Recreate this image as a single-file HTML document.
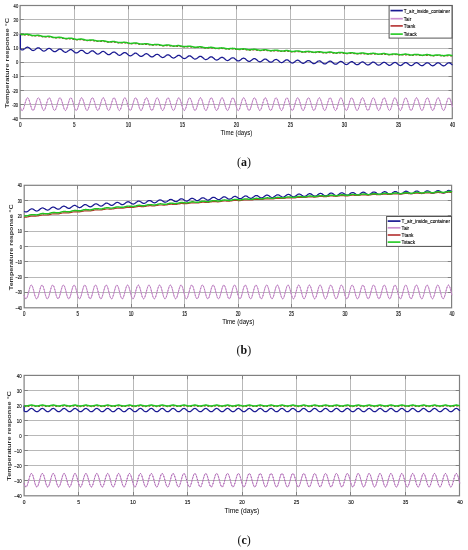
<!DOCTYPE html><html><head><meta charset="utf-8"><style>html,body{margin:0;padding:0;background:#fff;}svg{display:block;filter:blur(0.3px);}</style></head><body>
<svg width="468" height="550" viewBox="0 0 468 550">
<rect width="468" height="550" fill="#fff"/>
<path d="M74.5,5.5V118.6M128.5,5.5V118.6M182.5,5.5V118.6M236.5,5.5V118.6M290.5,5.5V118.6M344.5,5.5V118.6M398.5,5.5V118.6M20.1,19.5H452.3M20.1,33.5H452.3M20.1,48.5H452.3M20.1,62.5H452.3M20.1,76.5H452.3M20.1,90.5H452.3M20.1,104.5H452.3" stroke="#b8b8b8" stroke-width="1" fill="none"/>
<path d="M74.5,118.6v-3.8M74.5,5.5v3.8M128.5,118.6v-3.8M128.5,5.5v3.8M182.5,118.6v-3.8M182.5,5.5v3.8M236.5,118.6v-3.8M236.5,5.5v3.8M290.5,118.6v-3.8M290.5,5.5v3.8M344.5,118.6v-3.8M344.5,5.5v3.8M398.5,118.6v-3.8M398.5,5.5v3.8M20.1,19.5h3.8M452.3,19.5h-3.8M20.1,33.5h3.8M452.3,33.5h-3.8M20.1,48.5h3.8M452.3,48.5h-3.8M20.1,62.5h3.8M452.3,62.5h-3.8M20.1,76.5h3.8M452.3,76.5h-3.8M20.1,90.5h3.8M452.3,90.5h-3.8M20.1,104.5h3.8M452.3,104.5h-3.8" stroke="#7a7a7a" stroke-width="0.9" fill="none"/>
<rect x="20.10" y="5.50" width="432.20" height="113.10" stroke="#808080" stroke-width="1.2" fill="none"/>
<path d="M20.4,107.2 20.8,108.5 21.2,109.5 21.6,110.2 22.1,110.5 22.5,110.4 22.9,109.9 23.4,109.0 23.8,107.9 24.2,106.5 24.7,104.9 25.1,103.3 25.5,101.8 26.0,100.4 26.4,99.2 26.8,98.4 27.3,97.9 27.7,97.8 28.1,98.1 28.6,98.8 29.0,99.8 29.4,101.1 29.9,102.5 30.3,104.1 30.7,105.7 31.2,107.2 31.6,108.5 32.0,109.5 32.5,110.2 32.9,110.5 33.3,110.4 33.7,109.9 34.2,109.0 34.6,107.9 35.0,106.5 35.5,104.9 35.9,103.3 36.3,101.8 36.8,100.4 37.2,99.2 37.6,98.4 38.1,97.9 38.5,97.8 38.9,98.1 39.4,98.8 39.8,99.8 40.2,101.1 40.7,102.5 41.1,104.1 41.5,105.7 42.0,107.2 42.4,108.5 42.8,109.5 43.3,110.2 43.7,110.5 44.1,110.4 44.6,109.9 45.0,109.0 45.4,107.9 45.8,106.5 46.3,104.9 46.7,103.3 47.1,101.8 47.6,100.4 48.0,99.2 48.4,98.4 48.9,97.9 49.3,97.8 49.7,98.1 50.2,98.8 50.6,99.8 51.0,101.1 51.5,102.5 51.9,104.1 52.3,105.7 52.8,107.2 53.2,108.5 53.6,109.5 54.1,110.2 54.5,110.5 54.9,110.4 55.4,109.9 55.8,109.0 56.2,107.9 56.7,106.5 57.1,104.9 57.5,103.3 57.9,101.8 58.4,100.4 58.8,99.2 59.2,98.4 59.7,97.9 60.1,97.8 60.5,98.1 61.0,98.8 61.4,99.8 61.8,101.1 62.3,102.5 62.7,104.1 63.1,105.7 63.6,107.2 64.0,108.5 64.4,109.5 64.9,110.2 65.3,110.5 65.7,110.4 66.2,109.9 66.6,109.0 67.0,107.9 67.5,106.5 67.9,104.9 68.3,103.3 68.8,101.8 69.2,100.4 69.6,99.2 70.0,98.4 70.5,97.9 70.9,97.8 71.3,98.1 71.8,98.8 72.2,99.8 72.6,101.1 73.1,102.5 73.5,104.1 73.9,105.7 74.4,107.2 74.8,108.5 75.2,109.5 75.7,110.2 76.1,110.5 76.5,110.4 77.0,109.9 77.4,109.0 77.8,107.9 78.3,106.5 78.7,104.9 79.1,103.3 79.6,101.8 80.0,100.4 80.4,99.2 80.9,98.4 81.3,97.9 81.7,97.8 82.1,98.1 82.6,98.8 83.0,99.8 83.4,101.1 83.9,102.5 84.3,104.1 84.7,105.7 85.2,107.2 85.6,108.5 86.0,109.5 86.5,110.2 86.9,110.5 87.3,110.4 87.8,109.9 88.2,109.0 88.6,107.9 89.1,106.5 89.5,104.9 89.9,103.3 90.4,101.8 90.8,100.4 91.2,99.2 91.7,98.4 92.1,97.9 92.5,97.8 93.0,98.1 93.4,98.8 93.8,99.8 94.2,101.1 94.7,102.5 95.1,104.1 95.5,105.7 96.0,107.2 96.4,108.5 96.8,109.5 97.3,110.2 97.7,110.5 98.1,110.4 98.6,109.9 99.0,109.0 99.4,107.9 99.9,106.5 100.3,104.9 100.7,103.3 101.2,101.8 101.6,100.4 102.0,99.2 102.5,98.4 102.9,97.9 103.3,97.8 103.8,98.1 104.2,98.8 104.6,99.8 105.1,101.1 105.5,102.5 105.9,104.1 106.3,105.7 106.8,107.2 107.2,108.5 107.6,109.5 108.1,110.2 108.5,110.5 108.9,110.4 109.4,109.9 109.8,109.0 110.2,107.9 110.7,106.5 111.1,104.9 111.5,103.3 112.0,101.8 112.4,100.4 112.8,99.2 113.3,98.4 113.7,97.9 114.1,97.8 114.6,98.1 115.0,98.8 115.4,99.8 115.9,101.1 116.3,102.5 116.7,104.1 117.2,105.7 117.6,107.2 118.0,108.5 118.4,109.5 118.9,110.2 119.3,110.5 119.7,110.4 120.2,109.9 120.6,109.0 121.0,107.9 121.5,106.5 121.9,104.9 122.3,103.3 122.8,101.8 123.2,100.4 123.6,99.2 124.1,98.4 124.5,97.9 124.9,97.8 125.4,98.1 125.8,98.8 126.2,99.8 126.7,101.1 127.1,102.5 127.5,104.1 128.0,105.7 128.4,107.2 128.8,108.5 129.3,109.5 129.7,110.2 130.1,110.5 130.5,110.4 131.0,109.9 131.4,109.0 131.8,107.9 132.3,106.5 132.7,104.9 133.1,103.3 133.6,101.8 134.0,100.4 134.4,99.2 134.9,98.4 135.3,97.9 135.7,97.8 136.2,98.1 136.6,98.8 137.0,99.8 137.5,101.1 137.9,102.5 138.3,104.1 138.8,105.7 139.2,107.2 139.6,108.5 140.1,109.5 140.5,110.2 140.9,110.5 141.4,110.4 141.8,109.9 142.2,109.0 142.6,107.9 143.1,106.5 143.5,104.9 143.9,103.3 144.4,101.8 144.8,100.4 145.2,99.2 145.7,98.4 146.1,97.9 146.5,97.8 147.0,98.1 147.4,98.8 147.8,99.8 148.3,101.1 148.7,102.5 149.1,104.1 149.6,105.7 150.0,107.2 150.4,108.5 150.9,109.5 151.3,110.2 151.7,110.5 152.2,110.4 152.6,109.9 153.0,109.0 153.5,107.9 153.9,106.5 154.3,104.9 154.7,103.3 155.2,101.8 155.6,100.4 156.0,99.2 156.5,98.4 156.9,97.9 157.3,97.8 157.8,98.1 158.2,98.8 158.6,99.8 159.1,101.1 159.5,102.5 159.9,104.1 160.4,105.7 160.8,107.2 161.2,108.5 161.7,109.5 162.1,110.2 162.5,110.5 163.0,110.4 163.4,109.9 163.8,109.0 164.3,107.9 164.7,106.5 165.1,104.9 165.6,103.3 166.0,101.8 166.4,100.4 166.8,99.2 167.3,98.4 167.7,97.9 168.1,97.8 168.6,98.1 169.0,98.8 169.4,99.8 169.9,101.1 170.3,102.5 170.7,104.1 171.2,105.7 171.6,107.2 172.0,108.5 172.5,109.5 172.9,110.2 173.3,110.5 173.8,110.4 174.2,109.9 174.6,109.0 175.1,107.9 175.5,106.5 175.9,104.9 176.4,103.3 176.8,101.8 177.2,100.4 177.7,99.2 178.1,98.4 178.5,97.9 178.9,97.8 179.4,98.1 179.8,98.8 180.2,99.8 180.7,101.1 181.1,102.5 181.5,104.1 182.0,105.7 182.4,107.2 182.8,108.5 183.3,109.5 183.7,110.2 184.1,110.5 184.6,110.4 185.0,109.9 185.4,109.0 185.9,107.9 186.3,106.5 186.7,104.9 187.2,103.3 187.6,101.8 188.0,100.4 188.5,99.2 188.9,98.4 189.3,97.9 189.8,97.8 190.2,98.1 190.6,98.8 191.0,99.8 191.5,101.1 191.9,102.5 192.3,104.1 192.8,105.7 193.2,107.2 193.6,108.5 194.1,109.5 194.5,110.2 194.9,110.5 195.4,110.4 195.8,109.9 196.2,109.0 196.7,107.9 197.1,106.5 197.5,104.9 198.0,103.3 198.4,101.8 198.8,100.4 199.3,99.2 199.7,98.4 200.1,97.9 200.6,97.8 201.0,98.1 201.4,98.8 201.9,99.8 202.3,101.1 202.7,102.5 203.1,104.1 203.6,105.7 204.0,107.2 204.4,108.5 204.9,109.5 205.3,110.2 205.7,110.5 206.2,110.4 206.6,109.9 207.0,109.0 207.5,107.9 207.9,106.5 208.3,104.9 208.8,103.3 209.2,101.8 209.6,100.4 210.1,99.2 210.5,98.4 210.9,97.9 211.4,97.8 211.8,98.1 212.2,98.8 212.7,99.8 213.1,101.1 213.5,102.5 214.0,104.1 214.4,105.7 214.8,107.2 215.2,108.5 215.7,109.5 216.1,110.2 216.5,110.5 217.0,110.4 217.4,109.9 217.8,109.0 218.3,107.9 218.7,106.5 219.1,104.9 219.6,103.3 220.0,101.8 220.4,100.4 220.9,99.2 221.3,98.4 221.7,97.9 222.2,97.8 222.6,98.1 223.0,98.8 223.5,99.8 223.9,101.1 224.3,102.5 224.8,104.1 225.2,105.7 225.6,107.2 226.1,108.5 226.5,109.5 226.9,110.2 227.3,110.5 227.8,110.4 228.2,109.9 228.6,109.0 229.1,107.9 229.5,106.5 229.9,104.9 230.4,103.3 230.8,101.8 231.2,100.4 231.7,99.2 232.1,98.4 232.5,97.9 233.0,97.8 233.4,98.1 233.8,98.8 234.3,99.8 234.7,101.1 235.1,102.5 235.6,104.1 236.0,105.7 236.4,107.2 236.9,108.5 237.3,109.5 237.7,110.2 238.2,110.5 238.6,110.4 239.0,109.9 239.5,109.0 239.9,107.9 240.3,106.5 240.7,104.9 241.2,103.3 241.6,101.8 242.0,100.4 242.5,99.2 242.9,98.4 243.3,97.9 243.8,97.8 244.2,98.1 244.6,98.8 245.1,99.8 245.5,101.1 245.9,102.5 246.4,104.1 246.8,105.7 247.2,107.2 247.7,108.5 248.1,109.5 248.5,110.2 249.0,110.5 249.4,110.4 249.8,109.9 250.3,109.0 250.7,107.9 251.1,106.5 251.6,104.9 252.0,103.3 252.4,101.8 252.8,100.4 253.3,99.2 253.7,98.4 254.1,97.9 254.6,97.8 255.0,98.1 255.4,98.8 255.9,99.8 256.3,101.1 256.7,102.5 257.2,104.1 257.6,105.7 258.0,107.2 258.5,108.5 258.9,109.5 259.3,110.2 259.8,110.5 260.2,110.4 260.6,109.9 261.1,109.0 261.5,107.9 261.9,106.5 262.4,104.9 262.8,103.3 263.2,101.8 263.7,100.4 264.1,99.2 264.5,98.4 264.9,97.9 265.4,97.8 265.8,98.1 266.2,98.8 266.7,99.8 267.1,101.1 267.5,102.5 268.0,104.1 268.4,105.7 268.8,107.2 269.3,108.5 269.7,109.5 270.1,110.2 270.6,110.5 271.0,110.4 271.4,109.9 271.9,109.0 272.3,107.9 272.7,106.5 273.2,104.9 273.6,103.3 274.0,101.8 274.5,100.4 274.9,99.2 275.3,98.4 275.8,97.9 276.2,97.8 276.6,98.1 277.0,98.8 277.5,99.8 277.9,101.1 278.3,102.5 278.8,104.1 279.2,105.7 279.6,107.2 280.1,108.5 280.5,109.5 280.9,110.2 281.4,110.5 281.8,110.4 282.2,109.9 282.7,109.0 283.1,107.9 283.5,106.5 284.0,104.9 284.4,103.3 284.8,101.8 285.3,100.4 285.7,99.2 286.1,98.4 286.6,97.9 287.0,97.8 287.4,98.1 287.9,98.8 288.3,99.8 288.7,101.1 289.1,102.5 289.6,104.1 290.0,105.7 290.4,107.2 290.9,108.5 291.3,109.5 291.7,110.2 292.2,110.5 292.6,110.4 293.0,109.9 293.5,109.0 293.9,107.9 294.3,106.5 294.8,104.9 295.2,103.3 295.6,101.8 296.1,100.4 296.5,99.2 296.9,98.4 297.4,97.9 297.8,97.8 298.2,98.1 298.7,98.8 299.1,99.8 299.5,101.1 300.0,102.5 300.4,104.1 300.8,105.7 301.2,107.2 301.7,108.5 302.1,109.5 302.5,110.2 303.0,110.5 303.4,110.4 303.8,109.9 304.3,109.0 304.7,107.9 305.1,106.5 305.6,104.9 306.0,103.3 306.4,101.8 306.9,100.4 307.3,99.2 307.7,98.4 308.2,97.9 308.6,97.8 309.0,98.1 309.5,98.8 309.9,99.8 310.3,101.1 310.8,102.5 311.2,104.1 311.6,105.7 312.1,107.2 312.5,108.5 312.9,109.5 313.3,110.2 313.8,110.5 314.2,110.4 314.6,109.9 315.1,109.0 315.5,107.9 315.9,106.5 316.4,104.9 316.8,103.3 317.2,101.8 317.7,100.4 318.1,99.2 318.5,98.4 319.0,97.9 319.4,97.8 319.8,98.1 320.3,98.8 320.7,99.8 321.1,101.1 321.6,102.5 322.0,104.1 322.4,105.7 322.9,107.2 323.3,108.5 323.7,109.5 324.2,110.2 324.6,110.5 325.0,110.4 325.4,109.9 325.9,109.0 326.3,107.9 326.7,106.5 327.2,104.9 327.6,103.3 328.0,101.8 328.5,100.4 328.9,99.2 329.3,98.4 329.8,97.9 330.2,97.8 330.6,98.1 331.1,98.8 331.5,99.8 331.9,101.1 332.4,102.5 332.8,104.1 333.2,105.7 333.7,107.2 334.1,108.5 334.5,109.5 335.0,110.2 335.4,110.5 335.8,110.4 336.3,109.9 336.7,109.0 337.1,107.9 337.5,106.5 338.0,104.9 338.4,103.3 338.8,101.8 339.3,100.4 339.7,99.2 340.1,98.4 340.6,97.9 341.0,97.8 341.4,98.1 341.9,98.8 342.3,99.8 342.7,101.1 343.2,102.5 343.6,104.1 344.0,105.7 344.5,107.2 344.9,108.5 345.3,109.5 345.8,110.2 346.2,110.5 346.6,110.4 347.1,109.9 347.5,109.0 347.9,107.9 348.4,106.5 348.8,104.9 349.2,103.3 349.6,101.8 350.1,100.4 350.5,99.2 350.9,98.4 351.4,97.9 351.8,97.8 352.2,98.1 352.7,98.8 353.1,99.8 353.5,101.1 354.0,102.5 354.4,104.1 354.8,105.7 355.3,107.2 355.7,108.5 356.1,109.5 356.6,110.2 357.0,110.5 357.4,110.4 357.9,109.9 358.3,109.0 358.7,107.9 359.2,106.5 359.6,104.9 360.0,103.3 360.5,101.8 360.9,100.4 361.3,99.2 361.7,98.4 362.2,97.9 362.6,97.8 363.0,98.1 363.5,98.8 363.9,99.8 364.3,101.1 364.8,102.5 365.2,104.1 365.6,105.7 366.1,107.2 366.5,108.5 366.9,109.5 367.4,110.2 367.8,110.5 368.2,110.4 368.7,109.9 369.1,109.0 369.5,107.9 370.0,106.5 370.4,104.9 370.8,103.3 371.3,101.8 371.7,100.4 372.1,99.2 372.6,98.4 373.0,97.9 373.4,97.8 373.8,98.1 374.3,98.8 374.7,99.8 375.1,101.1 375.6,102.5 376.0,104.1 376.4,105.7 376.9,107.2 377.3,108.5 377.7,109.5 378.2,110.2 378.6,110.5 379.0,110.4 379.5,109.9 379.9,109.0 380.3,107.9 380.8,106.5 381.2,104.9 381.6,103.3 382.1,101.8 382.5,100.4 382.9,99.2 383.4,98.4 383.8,97.9 384.2,97.8 384.7,98.1 385.1,98.8 385.5,99.8 385.9,101.1 386.4,102.5 386.8,104.1 387.2,105.7 387.7,107.2 388.1,108.5 388.5,109.5 389.0,110.2 389.4,110.5 389.8,110.4 390.3,109.9 390.7,109.0 391.1,107.9 391.6,106.5 392.0,104.9 392.4,103.3 392.9,101.8 393.3,100.4 393.7,99.2 394.2,98.4 394.6,97.9 395.0,97.8 395.5,98.1 395.9,98.8 396.3,99.8 396.8,101.1 397.2,102.5 397.6,104.1 398.0,105.7 398.5,107.2 398.9,108.5 399.3,109.5 399.8,110.2 400.2,110.5 400.6,110.4 401.1,109.9 401.5,109.0 401.9,107.9 402.4,106.5 402.8,104.9 403.2,103.3 403.7,101.8 404.1,100.4 404.5,99.2 405.0,98.4 405.4,97.9 405.8,97.8 406.3,98.1 406.7,98.8 407.1,99.8 407.6,101.1 408.0,102.5 408.4,104.1 408.9,105.7 409.3,107.2 409.7,108.5 410.1,109.5 410.6,110.2 411.0,110.5 411.4,110.4 411.9,109.9 412.3,109.0 412.7,107.9 413.2,106.5 413.6,104.9 414.0,103.3 414.5,101.8 414.9,100.4 415.3,99.2 415.8,98.4 416.2,97.9 416.6,97.8 417.1,98.1 417.5,98.8 417.9,99.8 418.4,101.1 418.8,102.5 419.2,104.1 419.7,105.7 420.1,107.2 420.5,108.5 421.0,109.5 421.4,110.2 421.8,110.5 422.2,110.4 422.7,109.9 423.1,109.0 423.5,107.9 424.0,106.5 424.4,104.9 424.8,103.3 425.3,101.8 425.7,100.4 426.1,99.2 426.6,98.4 427.0,97.9 427.4,97.8 427.9,98.1 428.3,98.8 428.7,99.8 429.2,101.1 429.6,102.5 430.0,104.1 430.5,105.7 430.9,107.2 431.3,108.5 431.8,109.5 432.2,110.2 432.6,110.5 433.1,110.4 433.5,109.9 433.9,109.0 434.3,107.9 434.8,106.5 435.2,104.9 435.6,103.3 436.1,101.8 436.5,100.4 436.9,99.2 437.4,98.4 437.8,97.9 438.2,97.8 438.7,98.1 439.1,98.8 439.5,99.8 440.0,101.1 440.4,102.5 440.8,104.1 441.3,105.7 441.7,107.2 442.1,108.5 442.6,109.5 443.0,110.2 443.4,110.5 443.9,110.4 444.3,109.9 444.7,109.0 445.2,107.9 445.6,106.5 446.0,104.9 446.4,103.3 446.9,101.8 447.3,100.4 447.7,99.2 448.2,98.4 448.6,97.9 449.0,97.8 449.5,98.1 449.9,98.8 450.3,99.8 450.8,101.1 451.2,102.5 451.6,104.1 452.1,105.7 452.5,107.2" stroke="#c88ccc" stroke-width="1.0" fill="none"/>
<path d="M20.4,107.2 20.8,108.5 21.2,109.5 21.6,110.2 22.1,110.5 22.5,110.4 22.9,109.9 23.4,109.0 23.8,107.9 24.2,106.5 24.7,104.9 25.1,103.3 25.5,101.8 26.0,100.4 26.4,99.2 26.8,98.4 27.3,97.9 27.7,97.8 28.1,98.1 28.6,98.8 29.0,99.8 29.4,101.1 29.9,102.5 30.3,104.1 30.7,105.7 31.2,107.2 31.6,108.5 32.0,109.5 32.5,110.2 32.9,110.5 33.3,110.4 33.7,109.9 34.2,109.0 34.6,107.9 35.0,106.5 35.5,104.9 35.9,103.3 36.3,101.8 36.8,100.4 37.2,99.2 37.6,98.4 38.1,97.9 38.5,97.8 38.9,98.1 39.4,98.8 39.8,99.8 40.2,101.1 40.7,102.5 41.1,104.1 41.5,105.7 42.0,107.2 42.4,108.5 42.8,109.5 43.3,110.2 43.7,110.5 44.1,110.4 44.6,109.9 45.0,109.0 45.4,107.9 45.8,106.5 46.3,104.9 46.7,103.3 47.1,101.8 47.6,100.4 48.0,99.2 48.4,98.4 48.9,97.9 49.3,97.8 49.7,98.1 50.2,98.8 50.6,99.8 51.0,101.1 51.5,102.5 51.9,104.1 52.3,105.7 52.8,107.2 53.2,108.5 53.6,109.5 54.1,110.2 54.5,110.5 54.9,110.4 55.4,109.9 55.8,109.0 56.2,107.9 56.7,106.5 57.1,104.9 57.5,103.3 57.9,101.8 58.4,100.4 58.8,99.2 59.2,98.4 59.7,97.9 60.1,97.8 60.5,98.1 61.0,98.8 61.4,99.8 61.8,101.1 62.3,102.5 62.7,104.1 63.1,105.7 63.6,107.2 64.0,108.5 64.4,109.5 64.9,110.2 65.3,110.5 65.7,110.4 66.2,109.9 66.6,109.0 67.0,107.9 67.5,106.5 67.9,104.9 68.3,103.3 68.8,101.8 69.2,100.4 69.6,99.2 70.0,98.4 70.5,97.9 70.9,97.8 71.3,98.1 71.8,98.8 72.2,99.8 72.6,101.1 73.1,102.5 73.5,104.1 73.9,105.7 74.4,107.2 74.8,108.5 75.2,109.5 75.7,110.2 76.1,110.5 76.5,110.4 77.0,109.9 77.4,109.0 77.8,107.9 78.3,106.5 78.7,104.9 79.1,103.3 79.6,101.8 80.0,100.4 80.4,99.2 80.9,98.4 81.3,97.9 81.7,97.8 82.1,98.1 82.6,98.8 83.0,99.8 83.4,101.1 83.9,102.5 84.3,104.1 84.7,105.7 85.2,107.2 85.6,108.5 86.0,109.5 86.5,110.2 86.9,110.5 87.3,110.4 87.8,109.9 88.2,109.0 88.6,107.9 89.1,106.5 89.5,104.9 89.9,103.3 90.4,101.8 90.8,100.4 91.2,99.2 91.7,98.4 92.1,97.9 92.5,97.8 93.0,98.1 93.4,98.8 93.8,99.8 94.2,101.1 94.7,102.5 95.1,104.1 95.5,105.7 96.0,107.2 96.4,108.5 96.8,109.5 97.3,110.2 97.7,110.5 98.1,110.4 98.6,109.9 99.0,109.0 99.4,107.9 99.9,106.5 100.3,104.9 100.7,103.3 101.2,101.8 101.6,100.4 102.0,99.2 102.5,98.4 102.9,97.9 103.3,97.8 103.8,98.1 104.2,98.8 104.6,99.8 105.1,101.1 105.5,102.5 105.9,104.1 106.3,105.7 106.8,107.2 107.2,108.5 107.6,109.5 108.1,110.2 108.5,110.5 108.9,110.4 109.4,109.9 109.8,109.0 110.2,107.9 110.7,106.5 111.1,104.9 111.5,103.3 112.0,101.8 112.4,100.4 112.8,99.2 113.3,98.4 113.7,97.9 114.1,97.8 114.6,98.1 115.0,98.8 115.4,99.8 115.9,101.1 116.3,102.5 116.7,104.1 117.2,105.7 117.6,107.2 118.0,108.5 118.4,109.5 118.9,110.2 119.3,110.5 119.7,110.4 120.2,109.9 120.6,109.0 121.0,107.9 121.5,106.5 121.9,104.9 122.3,103.3 122.8,101.8 123.2,100.4 123.6,99.2 124.1,98.4 124.5,97.9 124.9,97.8 125.4,98.1 125.8,98.8 126.2,99.8 126.7,101.1 127.1,102.5 127.5,104.1 128.0,105.7 128.4,107.2 128.8,108.5 129.3,109.5 129.7,110.2 130.1,110.5 130.5,110.4 131.0,109.9 131.4,109.0 131.8,107.9 132.3,106.5 132.7,104.9 133.1,103.3 133.6,101.8 134.0,100.4 134.4,99.2 134.9,98.4 135.3,97.9 135.7,97.8 136.2,98.1 136.6,98.8 137.0,99.8 137.5,101.1 137.9,102.5 138.3,104.1 138.8,105.7 139.2,107.2 139.6,108.5 140.1,109.5 140.5,110.2 140.9,110.5 141.4,110.4 141.8,109.9 142.2,109.0 142.6,107.9 143.1,106.5 143.5,104.9 143.9,103.3 144.4,101.8 144.8,100.4 145.2,99.2 145.7,98.4 146.1,97.9 146.5,97.8 147.0,98.1 147.4,98.8 147.8,99.8 148.3,101.1 148.7,102.5 149.1,104.1 149.6,105.7 150.0,107.2 150.4,108.5 150.9,109.5 151.3,110.2 151.7,110.5 152.2,110.4 152.6,109.9 153.0,109.0 153.5,107.9 153.9,106.5 154.3,104.9 154.7,103.3 155.2,101.8 155.6,100.4 156.0,99.2 156.5,98.4 156.9,97.9 157.3,97.8 157.8,98.1 158.2,98.8 158.6,99.8 159.1,101.1 159.5,102.5 159.9,104.1 160.4,105.7 160.8,107.2 161.2,108.5 161.7,109.5 162.1,110.2 162.5,110.5 163.0,110.4 163.4,109.9 163.8,109.0 164.3,107.9 164.7,106.5 165.1,104.9 165.6,103.3 166.0,101.8 166.4,100.4 166.8,99.2 167.3,98.4 167.7,97.9 168.1,97.8 168.6,98.1 169.0,98.8 169.4,99.8 169.9,101.1 170.3,102.5 170.7,104.1 171.2,105.7 171.6,107.2 172.0,108.5 172.5,109.5 172.9,110.2 173.3,110.5 173.8,110.4 174.2,109.9 174.6,109.0 175.1,107.9 175.5,106.5 175.9,104.9 176.4,103.3 176.8,101.8 177.2,100.4 177.7,99.2 178.1,98.4 178.5,97.9 178.9,97.8 179.4,98.1 179.8,98.8 180.2,99.8 180.7,101.1 181.1,102.5 181.5,104.1 182.0,105.7 182.4,107.2 182.8,108.5 183.3,109.5 183.7,110.2 184.1,110.5 184.6,110.4 185.0,109.9 185.4,109.0 185.9,107.9 186.3,106.5 186.7,104.9 187.2,103.3 187.6,101.8 188.0,100.4 188.5,99.2 188.9,98.4 189.3,97.9 189.8,97.8 190.2,98.1 190.6,98.8 191.0,99.8 191.5,101.1 191.9,102.5 192.3,104.1 192.8,105.7 193.2,107.2 193.6,108.5 194.1,109.5 194.5,110.2 194.9,110.5 195.4,110.4 195.8,109.9 196.2,109.0 196.7,107.9 197.1,106.5 197.5,104.9 198.0,103.3 198.4,101.8 198.8,100.4 199.3,99.2 199.7,98.4 200.1,97.9 200.6,97.8 201.0,98.1 201.4,98.8 201.9,99.8 202.3,101.1 202.7,102.5 203.1,104.1 203.6,105.7 204.0,107.2 204.4,108.5 204.9,109.5 205.3,110.2 205.7,110.5 206.2,110.4 206.6,109.9 207.0,109.0 207.5,107.9 207.9,106.5 208.3,104.9 208.8,103.3 209.2,101.8 209.6,100.4 210.1,99.2 210.5,98.4 210.9,97.9 211.4,97.8 211.8,98.1 212.2,98.8 212.7,99.8 213.1,101.1 213.5,102.5 214.0,104.1 214.4,105.7 214.8,107.2 215.2,108.5 215.7,109.5 216.1,110.2 216.5,110.5 217.0,110.4 217.4,109.9 217.8,109.0 218.3,107.9 218.7,106.5 219.1,104.9 219.6,103.3 220.0,101.8 220.4,100.4 220.9,99.2 221.3,98.4 221.7,97.9 222.2,97.8 222.6,98.1 223.0,98.8 223.5,99.8 223.9,101.1 224.3,102.5 224.8,104.1 225.2,105.7 225.6,107.2 226.1,108.5 226.5,109.5 226.9,110.2 227.3,110.5 227.8,110.4 228.2,109.9 228.6,109.0 229.1,107.9 229.5,106.5 229.9,104.9 230.4,103.3 230.8,101.8 231.2,100.4 231.7,99.2 232.1,98.4 232.5,97.9 233.0,97.8 233.4,98.1 233.8,98.8 234.3,99.8 234.7,101.1 235.1,102.5 235.6,104.1 236.0,105.7 236.4,107.2 236.9,108.5 237.3,109.5 237.7,110.2 238.2,110.5 238.6,110.4 239.0,109.9 239.5,109.0 239.9,107.9 240.3,106.5 240.7,104.9 241.2,103.3 241.6,101.8 242.0,100.4 242.5,99.2 242.9,98.4 243.3,97.9 243.8,97.8 244.2,98.1 244.6,98.8 245.1,99.8 245.5,101.1 245.9,102.5 246.4,104.1 246.8,105.7 247.2,107.2 247.7,108.5 248.1,109.5 248.5,110.2 249.0,110.5 249.4,110.4 249.8,109.9 250.3,109.0 250.7,107.9 251.1,106.5 251.6,104.9 252.0,103.3 252.4,101.8 252.8,100.4 253.3,99.2 253.7,98.4 254.1,97.9 254.6,97.8 255.0,98.1 255.4,98.8 255.9,99.8 256.3,101.1 256.7,102.5 257.2,104.1 257.6,105.7 258.0,107.2 258.5,108.5 258.9,109.5 259.3,110.2 259.8,110.5 260.2,110.4 260.6,109.9 261.1,109.0 261.5,107.9 261.9,106.5 262.4,104.9 262.8,103.3 263.2,101.8 263.7,100.4 264.1,99.2 264.5,98.4 264.9,97.9 265.4,97.8 265.8,98.1 266.2,98.8 266.7,99.8 267.1,101.1 267.5,102.5 268.0,104.1 268.4,105.7 268.8,107.2 269.3,108.5 269.7,109.5 270.1,110.2 270.6,110.5 271.0,110.4 271.4,109.9 271.9,109.0 272.3,107.9 272.7,106.5 273.2,104.9 273.6,103.3 274.0,101.8 274.5,100.4 274.9,99.2 275.3,98.4 275.8,97.9 276.2,97.8 276.6,98.1 277.0,98.8 277.5,99.8 277.9,101.1 278.3,102.5 278.8,104.1 279.2,105.7 279.6,107.2 280.1,108.5 280.5,109.5 280.9,110.2 281.4,110.5 281.8,110.4 282.2,109.9 282.7,109.0 283.1,107.9 283.5,106.5 284.0,104.9 284.4,103.3 284.8,101.8 285.3,100.4 285.7,99.2 286.1,98.4 286.6,97.9 287.0,97.8 287.4,98.1 287.9,98.8 288.3,99.8 288.7,101.1 289.1,102.5 289.6,104.1 290.0,105.7 290.4,107.2 290.9,108.5 291.3,109.5 291.7,110.2 292.2,110.5 292.6,110.4 293.0,109.9 293.5,109.0 293.9,107.9 294.3,106.5 294.8,104.9 295.2,103.3 295.6,101.8 296.1,100.4 296.5,99.2 296.9,98.4 297.4,97.9 297.8,97.8 298.2,98.1 298.7,98.8 299.1,99.8 299.5,101.1 300.0,102.5 300.4,104.1 300.8,105.7 301.2,107.2 301.7,108.5 302.1,109.5 302.5,110.2 303.0,110.5 303.4,110.4 303.8,109.9 304.3,109.0 304.7,107.9 305.1,106.5 305.6,104.9 306.0,103.3 306.4,101.8 306.9,100.4 307.3,99.2 307.7,98.4 308.2,97.9 308.6,97.8 309.0,98.1 309.5,98.8 309.9,99.8 310.3,101.1 310.8,102.5 311.2,104.1 311.6,105.7 312.1,107.2 312.5,108.5 312.9,109.5 313.3,110.2 313.8,110.5 314.2,110.4 314.6,109.9 315.1,109.0 315.5,107.9 315.9,106.5 316.4,104.9 316.8,103.3 317.2,101.8 317.7,100.4 318.1,99.2 318.5,98.4 319.0,97.9 319.4,97.8 319.8,98.1 320.3,98.8 320.7,99.8 321.1,101.1 321.6,102.5 322.0,104.1 322.4,105.7 322.9,107.2 323.3,108.5 323.7,109.5 324.2,110.2 324.6,110.5 325.0,110.4 325.4,109.9 325.9,109.0 326.3,107.9 326.7,106.5 327.2,104.9 327.6,103.3 328.0,101.8 328.5,100.4 328.9,99.2 329.3,98.4 329.8,97.9 330.2,97.8 330.6,98.1 331.1,98.8 331.5,99.8 331.9,101.1 332.4,102.5 332.8,104.1 333.2,105.7 333.7,107.2 334.1,108.5 334.5,109.5 335.0,110.2 335.4,110.5 335.8,110.4 336.3,109.9 336.7,109.0 337.1,107.9 337.5,106.5 338.0,104.9 338.4,103.3 338.8,101.8 339.3,100.4 339.7,99.2 340.1,98.4 340.6,97.9 341.0,97.8 341.4,98.1 341.9,98.8 342.3,99.8 342.7,101.1 343.2,102.5 343.6,104.1 344.0,105.7 344.5,107.2 344.9,108.5 345.3,109.5 345.8,110.2 346.2,110.5 346.6,110.4 347.1,109.9 347.5,109.0 347.9,107.9 348.4,106.5 348.8,104.9 349.2,103.3 349.6,101.8 350.1,100.4 350.5,99.2 350.9,98.4 351.4,97.9 351.8,97.8 352.2,98.1 352.7,98.8 353.1,99.8 353.5,101.1 354.0,102.5 354.4,104.1 354.8,105.7 355.3,107.2 355.7,108.5 356.1,109.5 356.6,110.2 357.0,110.5 357.4,110.4 357.9,109.9 358.3,109.0 358.7,107.9 359.2,106.5 359.6,104.9 360.0,103.3 360.5,101.8 360.9,100.4 361.3,99.2 361.7,98.4 362.2,97.9 362.6,97.8 363.0,98.1 363.5,98.8 363.9,99.8 364.3,101.1 364.8,102.5 365.2,104.1 365.6,105.7 366.1,107.2 366.5,108.5 366.9,109.5 367.4,110.2 367.8,110.5 368.2,110.4 368.7,109.9 369.1,109.0 369.5,107.9 370.0,106.5 370.4,104.9 370.8,103.3 371.3,101.8 371.7,100.4 372.1,99.2 372.6,98.4 373.0,97.9 373.4,97.8 373.8,98.1 374.3,98.8 374.7,99.8 375.1,101.1 375.6,102.5 376.0,104.1 376.4,105.7 376.9,107.2 377.3,108.5 377.7,109.5 378.2,110.2 378.6,110.5 379.0,110.4 379.5,109.9 379.9,109.0 380.3,107.9 380.8,106.5 381.2,104.9 381.6,103.3 382.1,101.8 382.5,100.4 382.9,99.2 383.4,98.4 383.8,97.9 384.2,97.8 384.7,98.1 385.1,98.8 385.5,99.8 385.9,101.1 386.4,102.5 386.8,104.1 387.2,105.7 387.7,107.2 388.1,108.5 388.5,109.5 389.0,110.2 389.4,110.5 389.8,110.4 390.3,109.9 390.7,109.0 391.1,107.9 391.6,106.5 392.0,104.9 392.4,103.3 392.9,101.8 393.3,100.4 393.7,99.2 394.2,98.4 394.6,97.9 395.0,97.8 395.5,98.1 395.9,98.8 396.3,99.8 396.8,101.1 397.2,102.5 397.6,104.1 398.0,105.7 398.5,107.2 398.9,108.5 399.3,109.5 399.8,110.2 400.2,110.5 400.6,110.4 401.1,109.9 401.5,109.0 401.9,107.9 402.4,106.5 402.8,104.9 403.2,103.3 403.7,101.8 404.1,100.4 404.5,99.2 405.0,98.4 405.4,97.9 405.8,97.8 406.3,98.1 406.7,98.8 407.1,99.8 407.6,101.1 408.0,102.5 408.4,104.1 408.9,105.7 409.3,107.2 409.7,108.5 410.1,109.5 410.6,110.2 411.0,110.5 411.4,110.4 411.9,109.9 412.3,109.0 412.7,107.9 413.2,106.5 413.6,104.9 414.0,103.3 414.5,101.8 414.9,100.4 415.3,99.2 415.8,98.4 416.2,97.9 416.6,97.8 417.1,98.1 417.5,98.8 417.9,99.8 418.4,101.1 418.8,102.5 419.2,104.1 419.7,105.7 420.1,107.2 420.5,108.5 421.0,109.5 421.4,110.2 421.8,110.5 422.2,110.4 422.7,109.9 423.1,109.0 423.5,107.9 424.0,106.5 424.4,104.9 424.8,103.3 425.3,101.8 425.7,100.4 426.1,99.2 426.6,98.4 427.0,97.9 427.4,97.8 427.9,98.1 428.3,98.8 428.7,99.8 429.2,101.1 429.6,102.5 430.0,104.1 430.5,105.7 430.9,107.2 431.3,108.5 431.8,109.5 432.2,110.2 432.6,110.5 433.1,110.4 433.5,109.9 433.9,109.0 434.3,107.9 434.8,106.5 435.2,104.9 435.6,103.3 436.1,101.8 436.5,100.4 436.9,99.2 437.4,98.4 437.8,97.9 438.2,97.8 438.7,98.1 439.1,98.8 439.5,99.8 440.0,101.1 440.4,102.5 440.8,104.1 441.3,105.7 441.7,107.2 442.1,108.5 442.6,109.5 443.0,110.2 443.4,110.5 443.9,110.4 444.3,109.9 444.7,109.0 445.2,107.9 445.6,106.5 446.0,104.9 446.4,103.3 446.9,101.8 447.3,100.4 447.7,99.2 448.2,98.4 448.6,97.9 449.0,97.8 449.5,98.1 449.9,98.8 450.3,99.8 450.8,101.1 451.2,102.5 451.6,104.1 452.1,105.7 452.5,107.2" stroke="#b478b8" stroke-width="1.0" stroke-dasharray="1,2" fill="none"/>
<path d="M20.4,33.9 20.4,49.0 20.8,49.3 21.2,49.6 21.6,49.8 22.1,49.9 22.5,49.9 22.9,49.8 23.4,49.6 23.8,49.3 24.2,49.0 24.7,48.7 25.1,48.4 25.5,48.0 26.0,47.7 26.4,47.5 26.8,47.3 27.3,47.2 27.7,47.2 28.1,47.3 28.6,47.5 29.0,47.7 29.4,48.1 29.9,48.4 30.3,48.8 30.7,49.2 31.2,49.6 31.6,49.9 32.0,50.2 32.5,50.4 32.9,50.5 33.3,50.5 33.7,50.4 34.2,50.2 34.6,50.0 35.0,49.7 35.5,49.3 35.9,49.0 36.3,48.6 36.8,48.3 37.2,48.1 37.6,47.9 38.1,47.8 38.5,47.8 38.9,47.9 39.4,48.1 39.8,48.4 40.2,48.7 40.7,49.1 41.1,49.5 41.5,49.8 42.0,50.2 42.4,50.5 42.8,50.8 43.3,51.0 43.7,51.1 44.1,51.1 44.6,51.0 45.0,50.8 45.4,50.6 45.8,50.3 46.3,49.9 46.7,49.6 47.1,49.2 47.6,48.9 48.0,48.7 48.4,48.5 48.9,48.4 49.3,48.4 49.7,48.5 50.2,48.7 50.6,49.0 51.0,49.3 51.5,49.7 51.9,50.1 52.3,50.5 52.8,50.8 53.2,51.2 53.6,51.4 54.1,51.6 54.5,51.7 54.9,51.7 55.4,51.6 55.8,51.4 56.2,51.2 56.7,50.9 57.1,50.5 57.5,50.2 57.9,49.9 58.4,49.6 58.8,49.3 59.2,49.1 59.7,49.0 60.1,49.0 60.5,49.1 61.0,49.3 61.4,49.6 61.8,49.9 62.3,50.3 62.7,50.7 63.1,51.1 63.6,51.4 64.0,51.8 64.4,52.0 64.9,52.2 65.3,52.3 65.7,52.3 66.2,52.2 66.6,52.0 67.0,51.8 67.5,51.5 67.9,51.1 68.3,50.8 68.8,50.5 69.2,50.2 69.6,49.9 70.0,49.7 70.5,49.6 70.9,49.7 71.3,49.7 71.8,49.9 72.2,50.2 72.6,50.5 73.1,50.9 73.5,51.3 73.9,51.7 74.4,52.0 74.8,52.4 75.2,52.6 75.7,52.8 76.1,52.9 76.5,52.9 77.0,52.8 77.4,52.6 77.8,52.4 78.3,52.1 78.7,51.8 79.1,51.4 79.6,51.1 80.0,50.8 80.4,50.5 80.9,50.3 81.3,50.3 81.7,50.3 82.1,50.3 82.6,50.5 83.0,50.8 83.4,51.1 83.9,51.5 84.3,51.9 84.7,52.3 85.2,52.6 85.6,53.0 86.0,53.2 86.5,53.4 86.9,53.5 87.3,53.5 87.8,53.4 88.2,53.2 88.6,53.0 89.1,52.7 89.5,52.3 89.9,52.0 90.4,51.7 90.8,51.4 91.2,51.1 91.7,50.9 92.1,50.8 92.5,50.8 93.0,50.9 93.4,51.1 93.8,51.4 94.2,51.7 94.7,52.1 95.1,52.5 95.5,52.9 96.0,53.2 96.4,53.6 96.8,53.8 97.3,54.0 97.7,54.1 98.1,54.1 98.6,54.0 99.0,53.8 99.4,53.6 99.9,53.3 100.3,52.9 100.7,52.6 101.2,52.3 101.6,51.9 102.0,51.7 102.5,51.5 102.9,51.4 103.3,51.4 103.8,51.5 104.2,51.7 104.6,52.0 105.1,52.3 105.5,52.7 105.9,53.1 106.3,53.4 106.8,53.8 107.2,54.1 107.6,54.4 108.1,54.6 108.5,54.7 108.9,54.7 109.4,54.6 109.8,54.4 110.2,54.2 110.7,53.9 111.1,53.5 111.5,53.2 112.0,52.8 112.4,52.5 112.8,52.3 113.3,52.1 113.7,52.0 114.1,52.0 114.6,52.1 115.0,52.3 115.4,52.6 115.9,52.9 116.3,53.2 116.7,53.6 117.2,54.0 117.6,54.4 118.0,54.7 118.4,55.0 118.9,55.2 119.3,55.3 119.7,55.3 120.2,55.2 120.6,55.0 121.0,54.7 121.5,54.4 121.9,54.1 122.3,53.7 122.8,53.4 123.2,53.1 123.6,52.9 124.1,52.7 124.5,52.6 124.9,52.6 125.4,52.7 125.8,52.9 126.2,53.1 126.7,53.4 127.1,53.8 127.5,54.2 128.0,54.6 128.4,55.0 128.8,55.3 129.3,55.6 129.7,55.7 130.1,55.8 130.5,55.8 131.0,55.7 131.4,55.6 131.8,55.3 132.3,55.0 132.7,54.7 133.1,54.3 133.6,54.0 134.0,53.7 134.4,53.4 134.9,53.2 135.3,53.2 135.7,53.2 136.2,53.2 136.6,53.4 137.0,53.7 137.5,54.0 137.9,54.4 138.3,54.8 138.8,55.2 139.2,55.5 139.6,55.9 140.1,56.1 140.5,56.3 140.9,56.4 141.4,56.4 141.8,56.3 142.2,56.1 142.6,55.9 143.1,55.6 143.5,55.2 143.9,54.9 144.4,54.5 144.8,54.2 145.2,54.0 145.7,53.8 146.1,53.7 146.5,53.7 147.0,53.8 147.4,54.0 147.8,54.2 148.3,54.6 148.7,54.9 149.1,55.3 149.6,55.7 150.0,56.1 150.4,56.4 150.9,56.7 151.3,56.8 151.7,56.9 152.2,56.9 152.6,56.8 153.0,56.7 153.5,56.4 153.9,56.1 154.3,55.8 154.7,55.4 155.2,55.1 155.6,54.8 156.0,54.5 156.5,54.4 156.9,54.3 157.3,54.3 157.8,54.4 158.2,54.5 158.6,54.8 159.1,55.1 159.5,55.5 159.9,55.9 160.4,56.3 160.8,56.6 161.2,57.0 161.7,57.2 162.1,57.4 162.5,57.5 163.0,57.5 163.4,57.4 163.8,57.2 164.3,57.0 164.7,56.7 165.1,56.3 165.6,56.0 166.0,55.6 166.4,55.3 166.8,55.1 167.3,54.9 167.7,54.8 168.1,54.8 168.6,54.9 169.0,55.1 169.4,55.3 169.9,55.6 170.3,56.0 170.7,56.4 171.2,56.8 171.6,57.2 172.0,57.5 172.5,57.7 172.9,57.9 173.3,58.0 173.8,58.0 174.2,57.9 174.6,57.7 175.1,57.5 175.5,57.2 175.9,56.8 176.4,56.5 176.8,56.2 177.2,55.9 177.7,55.6 178.1,55.4 178.5,55.3 178.9,55.3 179.4,55.4 179.8,55.6 180.2,55.9 180.7,56.2 181.1,56.5 181.5,56.9 182.0,57.3 182.4,57.7 182.8,58.0 183.3,58.3 183.7,58.4 184.1,58.5 184.6,58.5 185.0,58.4 185.4,58.3 185.9,58.0 186.3,57.7 186.7,57.4 187.2,57.0 187.6,56.7 188.0,56.4 188.5,56.1 188.9,55.9 189.3,55.8 189.8,55.8 190.2,55.9 190.6,56.1 191.0,56.4 191.5,56.7 191.9,57.1 192.3,57.4 192.8,57.8 193.2,58.2 193.6,58.5 194.1,58.8 194.5,59.0 194.9,59.0 195.4,59.0 195.8,58.9 196.2,58.8 196.7,58.5 197.1,58.2 197.5,57.9 198.0,57.5 198.4,57.2 198.8,56.9 199.3,56.6 199.7,56.4 200.1,56.3 200.6,56.3 201.0,56.4 201.4,56.6 201.9,56.9 202.3,57.2 202.7,57.6 203.1,57.9 203.6,58.3 204.0,58.7 204.4,59.0 204.9,59.3 205.3,59.5 205.7,59.5 206.2,59.5 206.6,59.4 207.0,59.3 207.5,59.0 207.9,58.7 208.3,58.4 208.8,58.0 209.2,57.7 209.6,57.4 210.1,57.1 210.5,56.9 210.9,56.8 211.4,56.8 211.8,56.9 212.2,57.1 212.7,57.4 213.1,57.7 213.5,58.0 214.0,58.4 214.4,58.8 214.8,59.2 215.2,59.5 215.7,59.8 216.1,59.9 216.5,60.0 217.0,60.0 217.4,59.9 217.8,59.7 218.3,59.5 218.7,59.2 219.1,58.8 219.6,58.5 220.0,58.1 220.4,57.8 220.9,57.6 221.3,57.4 221.7,57.3 222.2,57.3 222.6,57.4 223.0,57.6 223.5,57.8 223.9,58.1 224.3,58.5 224.8,58.9 225.2,59.3 225.6,59.7 226.1,60.0 226.5,60.2 226.9,60.4 227.3,60.5 227.8,60.5 228.2,60.4 228.6,60.2 229.1,60.0 229.5,59.6 229.9,59.3 230.4,59.0 230.8,58.6 231.2,58.3 231.7,58.0 232.1,57.9 232.5,57.8 233.0,57.8 233.4,57.9 233.8,58.0 234.3,58.3 234.7,58.6 235.1,59.0 235.6,59.4 236.0,59.7 236.4,60.1 236.9,60.4 237.3,60.7 237.7,60.9 238.2,60.9 238.6,60.9 239.0,60.8 239.5,60.7 239.9,60.4 240.3,60.1 240.7,59.8 241.2,59.4 241.6,59.1 242.0,58.7 242.5,58.5 242.9,58.3 243.3,58.2 243.8,58.2 244.2,58.3 244.6,58.5 245.1,58.7 245.5,59.0 245.9,59.4 246.4,59.8 246.8,60.2 247.2,60.5 247.7,60.9 248.1,61.1 248.5,61.3 249.0,61.4 249.4,61.4 249.8,61.3 250.3,61.1 250.7,60.8 251.1,60.5 251.6,60.2 252.0,59.8 252.4,59.5 252.8,59.2 253.3,58.9 253.7,58.7 254.1,58.6 254.6,58.6 255.0,58.7 255.4,58.9 255.9,59.2 256.3,59.5 256.7,59.8 257.2,60.2 257.6,60.6 258.0,61.0 258.5,61.3 258.9,61.5 259.3,61.7 259.8,61.8 260.2,61.8 260.6,61.7 261.1,61.5 261.5,61.3 261.9,60.9 262.4,60.6 262.8,60.2 263.2,59.9 263.7,59.6 264.1,59.3 264.5,59.2 264.9,59.1 265.4,59.1 265.8,59.1 266.2,59.3 266.7,59.6 267.1,59.9 267.5,60.2 268.0,60.6 268.4,61.0 268.8,61.4 269.3,61.7 269.7,61.9 270.1,62.1 270.6,62.2 271.0,62.2 271.4,62.1 271.9,61.9 272.3,61.7 272.7,61.4 273.2,61.0 273.6,60.6 274.0,60.3 274.5,60.0 274.9,59.7 275.3,59.6 275.8,59.5 276.2,59.4 276.6,59.5 277.0,59.7 277.5,60.0 277.9,60.3 278.3,60.6 278.8,61.0 279.2,61.4 279.6,61.8 280.1,62.1 280.5,62.3 280.9,62.5 281.4,62.6 281.8,62.6 282.2,62.5 282.7,62.3 283.1,62.0 283.5,61.7 284.0,61.4 284.4,61.0 284.8,60.7 285.3,60.4 285.7,60.1 286.1,59.9 286.6,59.8 287.0,59.8 287.4,59.9 287.9,60.1 288.3,60.3 288.7,60.6 289.1,61.0 289.6,61.4 290.0,61.8 290.4,62.1 290.9,62.5 291.3,62.7 291.7,62.9 292.2,63.0 292.6,63.0 293.0,62.9 293.5,62.7 293.9,62.4 294.3,62.1 294.8,61.8 295.2,61.4 295.6,61.0 296.1,60.7 296.5,60.5 296.9,60.3 297.4,60.2 297.8,60.2 298.2,60.3 298.7,60.4 299.1,60.7 299.5,61.0 300.0,61.4 300.4,61.7 300.8,62.1 301.2,62.5 301.7,62.8 302.1,63.1 302.5,63.2 303.0,63.3 303.4,63.3 303.8,63.2 304.3,63.0 304.7,62.8 305.1,62.4 305.6,62.1 306.0,61.7 306.4,61.4 306.9,61.1 307.3,60.8 307.7,60.6 308.2,60.5 308.6,60.5 309.0,60.6 309.5,60.8 309.9,61.0 310.3,61.3 310.8,61.7 311.2,62.1 311.6,62.5 312.1,62.8 312.5,63.1 312.9,63.4 313.3,63.6 313.8,63.6 314.2,63.6 314.6,63.5 315.1,63.3 315.5,63.1 315.9,62.8 316.4,62.4 316.8,62.1 317.2,61.7 317.7,61.4 318.1,61.1 318.5,61.0 319.0,60.9 319.4,60.8 319.8,60.9 320.3,61.1 320.7,61.3 321.1,61.7 321.6,62.0 322.0,62.4 322.4,62.8 322.9,63.1 323.3,63.4 323.7,63.7 324.2,63.9 324.6,63.9 325.0,63.9 325.4,63.8 325.9,63.6 326.3,63.4 326.7,63.1 327.2,62.7 327.6,62.4 328.0,62.0 328.5,61.7 328.9,61.4 329.3,61.3 329.8,61.1 330.2,61.1 330.6,61.2 331.1,61.4 331.5,61.6 331.9,61.9 332.4,62.3 332.8,62.7 333.2,63.1 333.7,63.4 334.1,63.7 334.5,64.0 335.0,64.2 335.4,64.2 335.8,64.2 336.3,64.1 336.7,63.9 337.1,63.7 337.5,63.4 338.0,63.0 338.4,62.6 338.8,62.3 339.3,62.0 339.7,61.7 340.1,61.5 340.6,61.4 341.0,61.4 341.4,61.5 341.9,61.7 342.3,61.9 342.7,62.2 343.2,62.6 343.6,63.0 344.0,63.3 344.5,63.7 344.9,64.0 345.3,64.3 345.8,64.4 346.2,64.5 346.6,64.5 347.1,64.4 347.5,64.2 347.9,63.9 348.4,63.6 348.8,63.3 349.2,62.9 349.6,62.6 350.1,62.2 350.5,62.0 350.9,61.8 351.4,61.7 351.8,61.7 352.2,61.7 352.7,61.9 353.1,62.2 353.5,62.5 354.0,62.8 354.4,63.2 354.8,63.6 355.3,63.9 355.7,64.3 356.1,64.5 356.6,64.7 357.0,64.7 357.4,64.7 357.9,64.6 358.3,64.4 358.7,64.2 359.2,63.9 359.6,63.5 360.0,63.1 360.5,62.8 360.9,62.5 361.3,62.2 361.7,62.0 362.2,61.9 362.6,61.9 363.0,62.0 363.5,62.1 363.9,62.4 364.3,62.7 364.8,63.1 365.2,63.4 365.6,63.8 366.1,64.2 366.5,64.5 366.9,64.7 367.4,64.9 367.8,65.0 368.2,64.9 368.7,64.8 369.1,64.7 369.5,64.4 370.0,64.1 370.4,63.7 370.8,63.4 371.3,63.0 371.7,62.7 372.1,62.4 372.6,62.2 373.0,62.1 373.4,62.1 373.8,62.2 374.3,62.3 374.7,62.6 375.1,62.9 375.6,63.3 376.0,63.6 376.4,64.0 376.9,64.4 377.3,64.7 377.7,64.9 378.2,65.1 378.6,65.2 379.0,65.1 379.5,65.0 379.9,64.8 380.3,64.6 380.8,64.3 381.2,63.9 381.6,63.5 382.1,63.2 382.5,62.9 382.9,62.6 383.4,62.4 383.8,62.3 384.2,62.3 384.7,62.4 385.1,62.5 385.5,62.8 385.9,63.1 386.4,63.4 386.8,63.8 387.2,64.2 387.7,64.5 388.1,64.8 388.5,65.1 389.0,65.3 389.4,65.3 389.8,65.3 390.3,65.2 390.7,65.0 391.1,64.7 391.6,64.4 392.0,64.1 392.4,63.7 392.9,63.4 393.3,63.0 393.7,62.8 394.2,62.6 394.6,62.5 395.0,62.4 395.5,62.5 395.9,62.7 396.3,62.9 396.8,63.2 397.2,63.6 397.6,64.0 398.0,64.3 398.5,64.7 398.9,65.0 399.3,65.2 399.8,65.4 400.2,65.5 400.6,65.5 401.1,65.3 401.5,65.2 401.9,64.9 402.4,64.6 402.8,64.2 403.2,63.8 403.7,63.5 404.1,63.2 404.5,62.9 405.0,62.7 405.4,62.6 405.8,62.6 406.3,62.7 406.7,62.8 407.1,63.1 407.6,63.4 408.0,63.7 408.4,64.1 408.9,64.5 409.3,64.8 409.7,65.1 410.1,65.4 410.6,65.5 411.0,65.6 411.4,65.6 411.9,65.5 412.3,65.3 412.7,65.0 413.2,64.7 413.6,64.3 414.0,64.0 414.5,63.6 414.9,63.3 415.3,63.0 415.8,62.8 416.2,62.7 416.6,62.7 417.1,62.8 417.5,62.9 417.9,63.2 418.4,63.5 418.8,63.8 419.2,64.2 419.7,64.6 420.1,64.9 420.5,65.2 421.0,65.5 421.4,65.6 421.8,65.7 422.2,65.7 422.7,65.6 423.1,65.4 423.5,65.1 424.0,64.8 424.4,64.4 424.8,64.0 425.3,63.7 425.7,63.4 426.1,63.1 426.6,62.9 427.0,62.8 427.4,62.8 427.9,62.8 428.3,63.0 428.7,63.2 429.2,63.5 429.6,63.9 430.0,64.3 430.5,64.6 430.9,65.0 431.3,65.3 431.8,65.5 432.2,65.7 432.6,65.8 433.1,65.7 433.5,65.6 433.9,65.4 434.3,65.2 434.8,64.8 435.2,64.5 435.6,64.1 436.1,63.7 436.5,63.4 436.9,63.1 437.4,62.9 437.8,62.8 438.2,62.8 438.7,62.9 439.1,63.0 439.5,63.3 440.0,63.6 440.4,63.9 440.8,64.3 441.3,64.7 441.7,65.0 442.1,65.3 442.6,65.6 443.0,65.7 443.4,65.8 443.9,65.8 444.3,65.7 444.7,65.5 445.2,65.2 445.6,64.9 446.0,64.5 446.4,64.1 446.9,63.8 447.3,63.4 447.7,63.2 448.2,63.0 448.6,62.9 449.0,62.8 449.5,62.9 449.9,63.1 450.3,63.3 450.8,63.6 451.2,63.9 451.6,64.3 452.1,64.7 452.5,65.0" stroke="#1a1a92" stroke-width="1.25" fill="none" stroke-linejoin="round"/>
<path d="M20.4,34.5 20.8,34.6 21.2,34.7 21.6,34.7 22.1,34.8 22.5,34.8 22.9,34.9 23.4,34.9 23.8,34.9 24.2,34.9 24.7,34.9 25.1,34.9 25.5,34.9 26.0,34.9 26.4,34.9 26.8,34.9 27.3,34.9 27.7,34.9 28.1,35.0 28.6,35.1 29.0,35.1 29.4,35.2 29.9,35.3 30.3,35.4 30.7,35.5 31.2,35.6 31.6,35.7 32.0,35.7 32.5,35.8 32.9,35.9 33.3,35.9 33.7,35.9 34.2,35.9 34.6,35.9 35.0,35.9 35.5,35.9 35.9,35.9 36.3,35.9 36.8,35.9 37.2,35.9 37.6,35.9 38.1,35.9 38.5,36.0 38.9,36.0 39.4,36.1 39.8,36.2 40.2,36.2 40.7,36.3 41.1,36.4 41.5,36.5 42.0,36.6 42.4,36.7 42.8,36.8 43.3,36.8 43.7,36.9 44.1,36.9 44.6,36.9 45.0,37.0 45.4,37.0 45.8,37.0 46.3,36.9 46.7,36.9 47.1,36.9 47.6,36.9 48.0,36.9 48.4,36.9 48.9,36.9 49.3,37.0 49.7,37.0 50.2,37.1 50.6,37.2 51.0,37.2 51.5,37.3 51.9,37.4 52.3,37.5 52.8,37.6 53.2,37.7 53.6,37.8 54.1,37.8 54.5,37.9 54.9,37.9 55.4,37.9 55.8,37.9 56.2,37.9 56.7,37.9 57.1,37.9 57.5,37.9 57.9,37.9 58.4,37.9 58.8,37.9 59.2,37.9 59.7,37.9 60.1,37.9 60.5,38.0 61.0,38.0 61.4,38.1 61.8,38.2 62.3,38.3 62.7,38.4 63.1,38.5 63.6,38.5 64.0,38.6 64.4,38.7 64.9,38.8 65.3,38.8 65.7,38.8 66.2,38.9 66.6,38.9 67.0,38.9 67.5,38.9 67.9,38.8 68.3,38.8 68.8,38.8 69.2,38.8 69.6,38.8 70.0,38.8 70.5,38.8 70.9,38.9 71.3,38.9 71.8,39.0 72.2,39.0 72.6,39.1 73.1,39.2 73.5,39.3 73.9,39.4 74.4,39.5 74.8,39.5 75.2,39.6 75.7,39.7 76.1,39.7 76.5,39.7 77.0,39.8 77.4,39.8 77.8,39.8 78.3,39.8 78.7,39.7 79.1,39.7 79.6,39.7 80.0,39.7 80.4,39.7 80.9,39.7 81.3,39.7 81.7,39.7 82.1,39.8 82.6,39.8 83.0,39.9 83.4,40.0 83.9,40.1 84.3,40.2 84.7,40.2 85.2,40.3 85.6,40.4 86.0,40.5 86.5,40.5 86.9,40.6 87.3,40.6 87.8,40.6 88.2,40.6 88.6,40.6 89.1,40.6 89.5,40.6 89.9,40.6 90.4,40.6 90.8,40.5 91.2,40.5 91.7,40.5 92.1,40.6 92.5,40.6 93.0,40.6 93.4,40.7 93.8,40.8 94.2,40.8 94.7,40.9 95.1,41.0 95.5,41.1 96.0,41.2 96.4,41.2 96.8,41.3 97.3,41.4 97.7,41.4 98.1,41.4 98.6,41.5 99.0,41.5 99.4,41.5 99.9,41.4 100.3,41.4 100.7,41.4 101.2,41.4 101.6,41.4 102.0,41.4 102.5,41.4 102.9,41.4 103.3,41.4 103.8,41.4 104.2,41.5 104.6,41.6 105.1,41.6 105.5,41.7 105.9,41.8 106.3,41.9 106.8,42.0 107.2,42.1 107.6,42.1 108.1,42.2 108.5,42.2 108.9,42.2 109.4,42.3 109.8,42.3 110.2,42.2 110.7,42.2 111.1,42.2 111.5,42.2 112.0,42.2 112.4,42.2 112.8,42.1 113.3,42.1 113.7,42.2 114.1,42.2 114.6,42.2 115.0,42.3 115.4,42.3 115.9,42.4 116.3,42.5 116.7,42.6 117.2,42.7 117.6,42.7 118.0,42.8 118.4,42.9 118.9,42.9 119.3,43.0 119.7,43.0 120.2,43.0 120.6,43.0 121.0,43.0 121.5,43.0 121.9,43.0 122.3,43.0 122.8,42.9 123.2,42.9 123.6,42.9 124.1,42.9 124.5,42.9 124.9,42.9 125.4,43.0 125.8,43.0 126.2,43.1 126.7,43.2 127.1,43.2 127.5,43.3 128.0,43.4 128.4,43.5 128.8,43.6 129.3,43.6 129.7,43.7 130.1,43.7 130.5,43.7 131.0,43.8 131.4,43.8 131.8,43.7 132.3,43.7 132.7,43.7 133.1,43.7 133.6,43.7 134.0,43.6 134.4,43.6 134.9,43.6 135.3,43.6 135.7,43.7 136.2,43.7 136.6,43.8 137.0,43.8 137.5,43.9 137.9,44.0 138.3,44.0 138.8,44.1 139.2,44.2 139.6,44.3 140.1,44.3 140.5,44.4 140.9,44.4 141.4,44.4 141.8,44.5 142.2,44.5 142.6,44.4 143.1,44.4 143.5,44.4 143.9,44.4 144.4,44.4 144.8,44.3 145.2,44.3 145.7,44.3 146.1,44.3 146.5,44.4 147.0,44.4 147.4,44.4 147.8,44.5 148.3,44.6 148.7,44.7 149.1,44.7 149.6,44.8 150.0,44.9 150.4,45.0 150.9,45.0 151.3,45.1 151.7,45.1 152.2,45.1 152.6,45.1 153.0,45.1 153.5,45.1 153.9,45.1 154.3,45.1 154.7,45.1 155.2,45.0 155.6,45.0 156.0,45.0 156.5,45.0 156.9,45.0 157.3,45.0 157.8,45.1 158.2,45.1 158.6,45.2 159.1,45.2 159.5,45.3 159.9,45.4 160.4,45.5 160.8,45.5 161.2,45.6 161.7,45.7 162.1,45.7 162.5,45.8 163.0,45.8 163.4,45.8 163.8,45.8 164.3,45.8 164.7,45.8 165.1,45.7 165.6,45.7 166.0,45.7 166.4,45.6 166.8,45.6 167.3,45.6 167.7,45.6 168.1,45.7 168.6,45.7 169.0,45.7 169.4,45.8 169.9,45.9 170.3,45.9 170.7,46.0 171.2,46.1 171.6,46.2 172.0,46.2 172.5,46.3 172.9,46.3 173.3,46.4 173.8,46.4 174.2,46.4 174.6,46.4 175.1,46.4 175.5,46.4 175.9,46.3 176.4,46.3 176.8,46.3 177.2,46.3 177.7,46.3 178.1,46.2 178.5,46.3 178.9,46.3 179.4,46.3 179.8,46.4 180.2,46.4 180.7,46.5 181.1,46.6 181.5,46.6 182.0,46.7 182.4,46.8 182.8,46.8 183.3,46.9 183.7,47.0 184.1,47.0 184.6,47.0 185.0,47.0 185.4,47.0 185.9,47.0 186.3,47.0 186.7,46.9 187.2,46.9 187.6,46.9 188.0,46.9 188.5,46.8 188.9,46.8 189.3,46.8 189.8,46.9 190.2,46.9 190.6,46.9 191.0,47.0 191.5,47.1 191.9,47.1 192.3,47.2 192.8,47.3 193.2,47.4 193.6,47.4 194.1,47.5 194.5,47.5 194.9,47.6 195.4,47.6 195.8,47.6 196.2,47.6 196.7,47.6 197.1,47.5 197.5,47.5 198.0,47.5 198.4,47.5 198.8,47.4 199.3,47.4 199.7,47.4 200.1,47.4 200.6,47.4 201.0,47.5 201.4,47.5 201.9,47.6 202.3,47.6 202.7,47.7 203.1,47.8 203.6,47.9 204.0,47.9 204.4,48.0 204.9,48.0 205.3,48.1 205.7,48.1 206.2,48.1 206.6,48.1 207.0,48.1 207.5,48.1 207.9,48.1 208.3,48.1 208.8,48.0 209.2,48.0 209.6,48.0 210.1,48.0 210.5,48.0 210.9,48.0 211.4,48.0 211.8,48.0 212.2,48.1 212.7,48.1 213.1,48.2 213.5,48.2 214.0,48.3 214.4,48.4 214.8,48.5 215.2,48.5 215.7,48.6 216.1,48.6 216.5,48.7 217.0,48.7 217.4,48.7 217.8,48.7 218.3,48.6 218.7,48.6 219.1,48.6 219.6,48.6 220.0,48.5 220.4,48.5 220.9,48.5 221.3,48.5 221.7,48.5 222.2,48.5 222.6,48.5 223.0,48.6 223.5,48.6 223.9,48.7 224.3,48.8 224.8,48.8 225.2,48.9 225.6,49.0 226.1,49.0 226.5,49.1 226.9,49.1 227.3,49.2 227.8,49.2 228.2,49.2 228.6,49.2 229.1,49.2 229.5,49.1 229.9,49.1 230.4,49.1 230.8,49.0 231.2,49.0 231.7,49.0 232.1,49.0 232.5,49.0 233.0,49.0 233.4,49.0 233.8,49.1 234.3,49.1 234.7,49.2 235.1,49.3 235.6,49.3 236.0,49.4 236.4,49.5 236.9,49.5 237.3,49.6 237.7,49.6 238.2,49.7 238.6,49.7 239.0,49.7 239.5,49.7 239.9,49.6 240.3,49.6 240.7,49.6 241.2,49.5 241.6,49.5 242.0,49.5 242.5,49.5 242.9,49.5 243.3,49.5 243.8,49.5 244.2,49.5 244.6,49.5 245.1,49.6 245.5,49.7 245.9,49.7 246.4,49.8 246.8,49.9 247.2,49.9 247.7,50.0 248.1,50.1 248.5,50.1 249.0,50.1 249.4,50.1 249.8,50.1 250.3,50.1 250.7,50.1 251.1,50.1 251.6,50.1 252.0,50.0 252.4,50.0 252.8,50.0 253.3,49.9 253.7,49.9 254.1,49.9 254.6,49.9 255.0,50.0 255.4,50.0 255.9,50.1 256.3,50.1 256.7,50.2 257.2,50.3 257.6,50.3 258.0,50.4 258.5,50.5 258.9,50.5 259.3,50.6 259.8,50.6 260.2,50.6 260.6,50.6 261.1,50.6 261.5,50.6 261.9,50.5 262.4,50.5 262.8,50.5 263.2,50.4 263.7,50.4 264.1,50.4 264.5,50.4 264.9,50.4 265.4,50.4 265.8,50.4 266.2,50.5 266.7,50.5 267.1,50.6 267.5,50.6 268.0,50.7 268.4,50.8 268.8,50.8 269.3,50.9 269.7,50.9 270.1,51.0 270.6,51.0 271.0,51.0 271.4,51.0 271.9,51.0 272.3,51.0 272.7,51.0 273.2,50.9 273.6,50.9 274.0,50.9 274.5,50.8 274.9,50.8 275.3,50.8 275.8,50.8 276.2,50.8 276.6,50.8 277.0,50.9 277.5,50.9 277.9,51.0 278.3,51.1 278.8,51.1 279.2,51.2 279.6,51.3 280.1,51.3 280.5,51.4 280.9,51.4 281.4,51.4 281.8,51.4 282.2,51.4 282.7,51.4 283.1,51.4 283.5,51.4 284.0,51.3 284.4,51.3 284.8,51.3 285.3,51.2 285.7,51.2 286.1,51.2 286.6,51.2 287.0,51.2 287.4,51.2 287.9,51.3 288.3,51.3 288.7,51.4 289.1,51.5 289.6,51.5 290.0,51.6 290.4,51.7 290.9,51.7 291.3,51.8 291.7,51.8 292.2,51.8 292.6,51.8 293.0,51.8 293.5,51.8 293.9,51.8 294.3,51.8 294.8,51.7 295.2,51.7 295.6,51.7 296.1,51.6 296.5,51.6 296.9,51.6 297.4,51.6 297.8,51.6 298.2,51.6 298.7,51.7 299.1,51.7 299.5,51.8 300.0,51.8 300.4,51.9 300.8,52.0 301.2,52.0 301.7,52.1 302.1,52.2 302.5,52.2 303.0,52.2 303.4,52.2 303.8,52.2 304.3,52.2 304.7,52.2 305.1,52.2 305.6,52.1 306.0,52.1 306.4,52.0 306.9,52.0 307.3,52.0 307.7,52.0 308.2,52.0 308.6,52.0 309.0,52.0 309.5,52.0 309.9,52.1 310.3,52.2 310.8,52.2 311.2,52.3 311.6,52.4 312.1,52.4 312.5,52.5 312.9,52.5 313.3,52.6 313.8,52.6 314.2,52.6 314.6,52.6 315.1,52.6 315.5,52.6 315.9,52.5 316.4,52.5 316.8,52.4 317.2,52.4 317.7,52.4 318.1,52.4 318.5,52.3 319.0,52.3 319.4,52.3 319.8,52.4 320.3,52.4 320.7,52.5 321.1,52.5 321.6,52.6 322.0,52.6 322.4,52.7 322.9,52.8 323.3,52.8 323.7,52.9 324.2,52.9 324.6,52.9 325.0,53.0 325.4,52.9 325.9,52.9 326.3,52.9 326.7,52.9 327.2,52.8 327.6,52.8 328.0,52.8 328.5,52.7 328.9,52.7 329.3,52.7 329.8,52.7 330.2,52.7 330.6,52.7 331.1,52.8 331.5,52.8 331.9,52.9 332.4,52.9 332.8,53.0 333.2,53.1 333.7,53.1 334.1,53.2 334.5,53.2 335.0,53.3 335.4,53.3 335.8,53.3 336.3,53.3 336.7,53.3 337.1,53.2 337.5,53.2 338.0,53.2 338.4,53.1 338.8,53.1 339.3,53.1 339.7,53.0 340.1,53.0 340.6,53.0 341.0,53.0 341.4,53.1 341.9,53.1 342.3,53.1 342.7,53.2 343.2,53.3 343.6,53.3 344.0,53.4 344.5,53.4 344.9,53.5 345.3,53.6 345.8,53.6 346.2,53.6 346.6,53.6 347.1,53.6 347.5,53.6 347.9,53.6 348.4,53.5 348.8,53.5 349.2,53.5 349.6,53.4 350.1,53.4 350.5,53.4 350.9,53.3 351.4,53.3 351.8,53.4 352.2,53.4 352.7,53.4 353.1,53.5 353.5,53.5 354.0,53.6 354.4,53.6 354.8,53.7 355.3,53.8 355.7,53.8 356.1,53.9 356.6,53.9 357.0,53.9 357.4,53.9 357.9,53.9 358.3,53.9 358.7,53.9 359.2,53.9 359.6,53.8 360.0,53.8 360.5,53.7 360.9,53.7 361.3,53.7 361.7,53.7 362.2,53.6 362.6,53.7 363.0,53.7 363.5,53.7 363.9,53.8 364.3,53.8 364.8,53.9 365.2,53.9 365.6,54.0 366.1,54.1 366.5,54.1 366.9,54.2 367.4,54.2 367.8,54.2 368.2,54.2 368.7,54.2 369.1,54.2 369.5,54.2 370.0,54.1 370.4,54.1 370.8,54.1 371.3,54.0 371.7,54.0 372.1,54.0 372.6,53.9 373.0,53.9 373.4,54.0 373.8,54.0 374.3,54.0 374.7,54.1 375.1,54.1 375.6,54.2 376.0,54.2 376.4,54.3 376.9,54.4 377.3,54.4 377.7,54.5 378.2,54.5 378.6,54.5 379.0,54.5 379.5,54.5 379.9,54.5 380.3,54.5 380.8,54.4 381.2,54.4 381.6,54.4 382.1,54.3 382.5,54.3 382.9,54.3 383.4,54.2 383.8,54.2 384.2,54.2 384.7,54.3 385.1,54.3 385.5,54.3 385.9,54.4 386.4,54.5 386.8,54.5 387.2,54.6 387.7,54.6 388.1,54.7 388.5,54.7 389.0,54.8 389.4,54.8 389.8,54.8 390.3,54.8 390.7,54.8 391.1,54.7 391.6,54.7 392.0,54.7 392.4,54.6 392.9,54.6 393.3,54.6 393.7,54.5 394.2,54.5 394.6,54.5 395.0,54.5 395.5,54.5 395.9,54.6 396.3,54.6 396.8,54.7 397.2,54.7 397.6,54.8 398.0,54.8 398.5,54.9 398.9,55.0 399.3,55.0 399.8,55.0 400.2,55.1 400.6,55.1 401.1,55.1 401.5,55.0 401.9,55.0 402.4,55.0 402.8,54.9 403.2,54.9 403.7,54.9 404.1,54.8 404.5,54.8 405.0,54.8 405.4,54.8 405.8,54.8 406.3,54.8 406.7,54.8 407.1,54.9 407.6,54.9 408.0,55.0 408.4,55.0 408.9,55.1 409.3,55.2 409.7,55.2 410.1,55.3 410.6,55.3 411.0,55.3 411.4,55.3 411.9,55.3 412.3,55.3 412.7,55.3 413.2,55.2 413.6,55.2 414.0,55.1 414.5,55.1 414.9,55.1 415.3,55.0 415.8,55.0 416.2,55.0 416.6,55.0 417.1,55.0 417.5,55.1 417.9,55.1 418.4,55.2 418.8,55.2 419.2,55.3 419.7,55.4 420.1,55.4 420.5,55.5 421.0,55.5 421.4,55.5 421.8,55.6 422.2,55.6 422.7,55.6 423.1,55.5 423.5,55.5 424.0,55.5 424.4,55.4 424.8,55.4 425.3,55.3 425.7,55.3 426.1,55.3 426.6,55.3 427.0,55.3 427.4,55.3 427.9,55.3 428.3,55.3 428.7,55.4 429.2,55.4 429.6,55.5 430.0,55.5 430.5,55.6 430.9,55.7 431.3,55.7 431.8,55.7 432.2,55.8 432.6,55.8 433.1,55.8 433.5,55.8 433.9,55.8 434.3,55.7 434.8,55.7 435.2,55.7 435.6,55.6 436.1,55.6 436.5,55.5 436.9,55.5 437.4,55.5 437.8,55.5 438.2,55.5 438.7,55.5 439.1,55.5 439.5,55.6 440.0,55.6 440.4,55.7 440.8,55.8 441.3,55.8 441.7,55.9 442.1,55.9 442.6,56.0 443.0,56.0 443.4,56.0 443.9,56.0 444.3,56.0 444.7,56.0 445.2,56.0 445.6,55.9 446.0,55.9 446.4,55.8 446.9,55.8 447.3,55.8 447.7,55.7 448.2,55.7 448.6,55.7 449.0,55.7 449.5,55.7 449.9,55.8 450.3,55.8 450.8,55.9 451.2,55.9 451.6,56.0 452.1,56.0 452.5,56.1" stroke="#b03a2a" stroke-width="1.2" fill="none" stroke-linejoin="round" stroke-dasharray="2,1.5"/>
<path d="M20.4,34.1 20.8,34.2 21.2,34.3 21.6,34.4 22.1,34.4 22.5,34.5 22.9,34.5 23.4,34.5 23.8,34.5 24.2,34.4 24.7,34.4 25.1,34.4 25.5,34.3 26.0,34.3 26.4,34.3 26.8,34.2 27.3,34.3 27.7,34.3 28.1,34.4 28.6,34.4 29.0,34.5 29.4,34.7 29.9,34.8 30.3,34.9 30.7,35.0 31.2,35.2 31.6,35.3 32.0,35.4 32.5,35.5 32.9,35.5 33.3,35.5 33.7,35.6 34.2,35.6 34.6,35.5 35.0,35.5 35.5,35.5 35.9,35.4 36.3,35.4 36.8,35.3 37.2,35.3 37.6,35.3 38.1,35.3 38.5,35.3 38.9,35.4 39.4,35.5 39.8,35.6 40.2,35.7 40.7,35.8 41.1,35.9 41.5,36.1 42.0,36.2 42.4,36.3 42.8,36.4 43.3,36.5 43.7,36.5 44.1,36.6 44.6,36.6 45.0,36.6 45.4,36.5 45.8,36.5 46.3,36.5 46.7,36.4 47.1,36.4 47.6,36.3 48.0,36.3 48.4,36.3 48.9,36.3 49.3,36.3 49.7,36.4 50.2,36.5 50.6,36.6 51.0,36.7 51.5,36.8 51.9,36.9 52.3,37.1 52.8,37.2 53.2,37.3 53.6,37.4 54.1,37.5 54.5,37.5 54.9,37.5 55.4,37.6 55.8,37.5 56.2,37.5 56.7,37.5 57.1,37.4 57.5,37.4 57.9,37.3 58.4,37.3 58.8,37.3 59.2,37.3 59.7,37.3 60.1,37.3 60.5,37.4 61.0,37.4 61.4,37.5 61.8,37.6 62.3,37.8 62.7,37.9 63.1,38.0 63.6,38.1 64.0,38.2 64.4,38.3 64.9,38.4 65.3,38.5 65.7,38.5 66.2,38.5 66.6,38.5 67.0,38.5 67.5,38.4 67.9,38.4 68.3,38.3 68.8,38.3 69.2,38.2 69.6,38.2 70.0,38.2 70.5,38.2 70.9,38.2 71.3,38.3 71.8,38.3 72.2,38.4 72.6,38.5 73.1,38.7 73.5,38.8 73.9,38.9 74.4,39.0 74.8,39.1 75.2,39.2 75.7,39.3 76.1,39.4 76.5,39.4 77.0,39.4 77.4,39.4 77.8,39.4 78.3,39.3 78.7,39.3 79.1,39.2 79.6,39.2 80.0,39.1 80.4,39.1 80.9,39.1 81.3,39.1 81.7,39.1 82.1,39.2 82.6,39.2 83.0,39.3 83.4,39.4 83.9,39.5 84.3,39.7 84.7,39.8 85.2,39.9 85.6,40.0 86.0,40.1 86.5,40.2 86.9,40.2 87.3,40.3 87.8,40.3 88.2,40.2 88.6,40.2 89.1,40.2 89.5,40.1 89.9,40.1 90.4,40.0 90.8,40.0 91.2,39.9 91.7,39.9 92.1,39.9 92.5,40.0 93.0,40.0 93.4,40.1 93.8,40.2 94.2,40.3 94.7,40.4 95.1,40.5 95.5,40.6 96.0,40.7 96.4,40.8 96.8,40.9 97.3,41.0 97.7,41.1 98.1,41.1 98.6,41.1 99.0,41.1 99.4,41.0 99.9,41.0 100.3,40.9 100.7,40.9 101.2,40.8 101.6,40.8 102.0,40.8 102.5,40.7 102.9,40.7 103.3,40.8 103.8,40.8 104.2,40.9 104.6,41.0 105.1,41.1 105.5,41.2 105.9,41.3 106.3,41.4 106.8,41.5 107.2,41.7 107.6,41.7 108.1,41.8 108.5,41.9 108.9,41.9 109.4,41.9 109.8,41.9 110.2,41.8 110.7,41.8 111.1,41.7 111.5,41.7 112.0,41.6 112.4,41.6 112.8,41.5 113.3,41.5 113.7,41.5 114.1,41.6 114.6,41.6 115.0,41.7 115.4,41.8 115.9,41.9 116.3,42.0 116.7,42.1 117.2,42.2 117.6,42.3 118.0,42.4 118.4,42.5 118.9,42.6 119.3,42.6 119.7,42.6 120.2,42.7 120.6,42.6 121.0,42.6 121.5,42.6 121.9,42.5 122.3,42.4 122.8,42.4 123.2,42.3 123.6,42.3 124.1,42.3 124.5,42.3 124.9,42.3 125.4,42.4 125.8,42.4 126.2,42.5 126.7,42.6 127.1,42.7 127.5,42.8 128.0,43.0 128.4,43.1 128.8,43.2 129.3,43.3 129.7,43.3 130.1,43.4 130.5,43.4 131.0,43.4 131.4,43.4 131.8,43.3 132.3,43.3 132.7,43.2 133.1,43.2 133.6,43.1 134.0,43.1 134.4,43.0 134.9,43.0 135.3,43.0 135.7,43.0 136.2,43.1 136.6,43.1 137.0,43.2 137.5,43.3 137.9,43.4 138.3,43.6 138.8,43.7 139.2,43.8 139.6,43.9 140.1,44.0 140.5,44.0 140.9,44.1 141.4,44.1 141.8,44.1 142.2,44.1 142.6,44.0 143.1,44.0 143.5,43.9 143.9,43.9 144.4,43.8 144.8,43.8 145.2,43.7 145.7,43.7 146.1,43.7 146.5,43.7 147.0,43.8 147.4,43.8 147.8,43.9 148.3,44.0 148.7,44.1 149.1,44.2 149.6,44.4 150.0,44.5 150.4,44.6 150.9,44.6 151.3,44.7 151.7,44.8 152.2,44.8 152.6,44.8 153.0,44.8 153.5,44.7 153.9,44.7 154.3,44.6 154.7,44.5 155.2,44.5 155.6,44.4 156.0,44.4 156.5,44.4 156.9,44.4 157.3,44.4 157.8,44.4 158.2,44.5 158.6,44.6 159.1,44.7 159.5,44.8 159.9,44.9 160.4,45.0 160.8,45.1 161.2,45.2 161.7,45.3 162.1,45.4 162.5,45.4 163.0,45.4 163.4,45.4 163.8,45.4 164.3,45.4 164.7,45.3 165.1,45.2 165.6,45.2 166.0,45.1 166.4,45.1 166.8,45.0 167.3,45.0 167.7,45.0 168.1,45.0 168.6,45.1 169.0,45.1 169.4,45.2 169.9,45.3 170.3,45.4 170.7,45.5 171.2,45.6 171.6,45.7 172.0,45.8 172.5,45.9 172.9,46.0 173.3,46.0 173.8,46.0 174.2,46.0 174.6,46.0 175.1,46.0 175.5,45.9 175.9,45.9 176.4,45.8 176.8,45.7 177.2,45.7 177.7,45.6 178.1,45.6 178.5,45.6 178.9,45.6 179.4,45.7 179.8,45.7 180.2,45.8 180.7,45.9 181.1,46.0 181.5,46.1 182.0,46.2 182.4,46.4 182.8,46.5 183.3,46.5 183.7,46.6 184.1,46.6 184.6,46.7 185.0,46.6 185.4,46.6 185.9,46.6 186.3,46.5 186.7,46.5 187.2,46.4 187.6,46.3 188.0,46.3 188.5,46.2 188.9,46.2 189.3,46.2 189.8,46.2 190.2,46.3 190.6,46.3 191.0,46.4 191.5,46.5 191.9,46.6 192.3,46.7 192.8,46.8 193.2,46.9 193.6,47.0 194.1,47.1 194.5,47.2 194.9,47.2 195.4,47.2 195.8,47.2 196.2,47.2 196.7,47.2 197.1,47.1 197.5,47.0 198.0,47.0 198.4,46.9 198.8,46.9 199.3,46.8 199.7,46.8 200.1,46.8 200.6,46.8 201.0,46.8 201.4,46.9 201.9,47.0 202.3,47.1 202.7,47.2 203.1,47.3 203.6,47.4 204.0,47.5 204.4,47.6 204.9,47.7 205.3,47.7 205.7,47.8 206.2,47.8 206.6,47.8 207.0,47.7 207.5,47.7 207.9,47.7 208.3,47.6 208.8,47.5 209.2,47.5 209.6,47.4 210.1,47.4 210.5,47.3 210.9,47.3 211.4,47.3 211.8,47.4 212.2,47.4 212.7,47.5 213.1,47.6 213.5,47.7 214.0,47.8 214.4,47.9 214.8,48.0 215.2,48.1 215.7,48.2 216.1,48.3 216.5,48.3 217.0,48.3 217.4,48.3 217.8,48.3 218.3,48.2 218.7,48.2 219.1,48.1 219.6,48.0 220.0,48.0 220.4,47.9 220.9,47.9 221.3,47.9 221.7,47.8 222.2,47.9 222.6,47.9 223.0,48.0 223.5,48.0 223.9,48.1 224.3,48.2 224.8,48.3 225.2,48.4 225.6,48.5 226.1,48.6 226.5,48.7 226.9,48.8 227.3,48.8 227.8,48.8 228.2,48.8 228.6,48.8 229.1,48.7 229.5,48.7 229.9,48.6 230.4,48.6 230.8,48.5 231.2,48.4 231.7,48.4 232.1,48.4 232.5,48.3 233.0,48.4 233.4,48.4 233.8,48.5 234.3,48.5 234.7,48.6 235.1,48.7 235.6,48.8 236.0,48.9 236.4,49.0 236.9,49.1 237.3,49.2 237.7,49.3 238.2,49.3 238.6,49.3 239.0,49.3 239.5,49.3 239.9,49.2 240.3,49.2 240.7,49.1 241.2,49.0 241.6,49.0 242.0,48.9 242.5,48.9 242.9,48.8 243.3,48.8 243.8,48.8 244.2,48.9 244.6,48.9 245.1,49.0 245.5,49.1 245.9,49.2 246.4,49.3 246.8,49.4 247.2,49.5 247.7,49.6 248.1,49.7 248.5,49.7 249.0,49.8 249.4,49.8 249.8,49.8 250.3,49.7 250.7,49.7 251.1,49.6 251.6,49.6 252.0,49.5 252.4,49.4 252.8,49.4 253.3,49.3 253.7,49.3 254.1,49.3 254.6,49.3 255.0,49.3 255.4,49.4 255.9,49.5 256.3,49.6 256.7,49.7 257.2,49.8 257.6,49.9 258.0,50.0 258.5,50.1 258.9,50.1 259.3,50.2 259.8,50.2 260.2,50.2 260.6,50.2 261.1,50.2 261.5,50.2 261.9,50.1 262.4,50.0 262.8,50.0 263.2,49.9 263.7,49.8 264.1,49.8 264.5,49.7 264.9,49.7 265.4,49.7 265.8,49.8 266.2,49.8 266.7,49.9 267.1,50.0 267.5,50.1 268.0,50.2 268.4,50.3 268.8,50.4 269.3,50.5 269.7,50.6 270.1,50.6 270.6,50.7 271.0,50.7 271.4,50.7 271.9,50.6 272.3,50.6 272.7,50.5 273.2,50.5 273.6,50.4 274.0,50.3 274.5,50.3 274.9,50.2 275.3,50.2 275.8,50.2 276.2,50.2 276.6,50.2 277.0,50.3 277.5,50.3 277.9,50.4 278.3,50.5 278.8,50.6 279.2,50.7 279.6,50.8 280.1,50.9 280.5,51.0 280.9,51.0 281.4,51.1 281.8,51.1 282.2,51.1 282.7,51.0 283.1,51.0 283.5,50.9 284.0,50.9 284.4,50.8 284.8,50.7 285.3,50.7 285.7,50.6 286.1,50.6 286.6,50.6 287.0,50.6 287.4,50.6 287.9,50.7 288.3,50.7 288.7,50.8 289.1,50.9 289.6,51.0 290.0,51.1 290.4,51.2 290.9,51.3 291.3,51.4 291.7,51.4 292.2,51.5 292.6,51.5 293.0,51.5 293.5,51.4 293.9,51.4 294.3,51.3 294.8,51.3 295.2,51.2 295.6,51.1 296.1,51.1 296.5,51.0 296.9,51.0 297.4,51.0 297.8,51.0 298.2,51.0 298.7,51.1 299.1,51.1 299.5,51.2 300.0,51.3 300.4,51.4 300.8,51.5 301.2,51.6 301.7,51.7 302.1,51.8 302.5,51.8 303.0,51.9 303.4,51.9 303.8,51.9 304.3,51.8 304.7,51.8 305.1,51.7 305.6,51.6 306.0,51.6 306.4,51.5 306.9,51.4 307.3,51.4 307.7,51.4 308.2,51.3 308.6,51.4 309.0,51.4 309.5,51.4 309.9,51.5 310.3,51.6 310.8,51.7 311.2,51.8 311.6,51.9 312.1,52.0 312.5,52.1 312.9,52.1 313.3,52.2 313.8,52.2 314.2,52.2 314.6,52.2 315.1,52.2 315.5,52.1 315.9,52.1 316.4,52.0 316.8,51.9 317.2,51.9 317.7,51.8 318.1,51.8 318.5,51.7 319.0,51.7 319.4,51.7 319.8,51.7 320.3,51.8 320.7,51.9 321.1,52.0 321.6,52.0 322.0,52.2 322.4,52.3 322.9,52.3 323.3,52.4 323.7,52.5 324.2,52.6 324.6,52.6 325.0,52.6 325.4,52.6 325.9,52.5 326.3,52.5 326.7,52.4 327.2,52.4 327.6,52.3 328.0,52.2 328.5,52.2 328.9,52.1 329.3,52.1 329.8,52.1 330.2,52.1 330.6,52.1 331.1,52.1 331.5,52.2 331.9,52.3 332.4,52.4 332.8,52.5 333.2,52.6 333.7,52.7 334.1,52.8 334.5,52.8 335.0,52.9 335.4,52.9 335.8,52.9 336.3,52.9 336.7,52.9 337.1,52.8 337.5,52.8 338.0,52.7 338.4,52.6 338.8,52.6 339.3,52.5 339.7,52.4 340.1,52.4 340.6,52.4 341.0,52.4 341.4,52.4 341.9,52.5 342.3,52.5 342.7,52.6 343.2,52.7 343.6,52.8 344.0,52.9 344.5,53.0 344.9,53.1 345.3,53.2 345.8,53.2 346.2,53.3 346.6,53.3 347.1,53.2 347.5,53.2 347.9,53.2 348.4,53.1 348.8,53.0 349.2,52.9 349.6,52.9 350.1,52.8 350.5,52.8 350.9,52.7 351.4,52.7 351.8,52.7 352.2,52.7 352.7,52.8 353.1,52.9 353.5,52.9 354.0,53.0 354.4,53.1 354.8,53.2 355.3,53.3 355.7,53.4 356.1,53.5 356.6,53.5 357.0,53.6 357.4,53.6 357.9,53.6 358.3,53.5 358.7,53.5 359.2,53.4 359.6,53.3 360.0,53.3 360.5,53.2 360.9,53.1 361.3,53.1 361.7,53.0 362.2,53.0 362.6,53.0 363.0,53.1 363.5,53.1 363.9,53.2 364.3,53.3 364.8,53.3 365.2,53.4 365.6,53.5 366.1,53.6 366.5,53.7 366.9,53.8 367.4,53.8 367.8,53.9 368.2,53.9 368.7,53.9 369.1,53.8 369.5,53.8 370.0,53.7 370.4,53.6 370.8,53.6 371.3,53.5 371.7,53.4 372.1,53.4 372.6,53.3 373.0,53.3 373.4,53.3 373.8,53.3 374.3,53.4 374.7,53.5 375.1,53.5 375.6,53.6 376.0,53.7 376.4,53.8 376.9,53.9 377.3,54.0 377.7,54.1 378.2,54.1 378.6,54.2 379.0,54.2 379.5,54.1 379.9,54.1 380.3,54.1 380.8,54.0 381.2,53.9 381.6,53.8 382.1,53.8 382.5,53.7 382.9,53.6 383.4,53.6 383.8,53.6 384.2,53.6 384.7,53.6 385.1,53.7 385.5,53.7 385.9,53.8 386.4,53.9 386.8,54.0 387.2,54.1 387.7,54.2 388.1,54.3 388.5,54.4 389.0,54.4 389.4,54.4 389.8,54.4 390.3,54.4 390.7,54.4 391.1,54.3 391.6,54.3 392.0,54.2 392.4,54.1 392.9,54.0 393.3,54.0 393.7,53.9 394.2,53.9 394.6,53.9 395.0,53.9 395.5,53.9 395.9,53.9 396.3,54.0 396.8,54.1 397.2,54.2 397.6,54.3 398.0,54.4 398.5,54.5 398.9,54.6 399.3,54.6 399.8,54.7 400.2,54.7 400.6,54.7 401.1,54.7 401.5,54.7 401.9,54.6 402.4,54.5 402.8,54.5 403.2,54.4 403.7,54.3 404.1,54.2 404.5,54.2 405.0,54.1 405.4,54.1 405.8,54.1 406.3,54.2 406.7,54.2 407.1,54.3 407.6,54.4 408.0,54.4 408.4,54.5 408.9,54.6 409.3,54.7 409.7,54.8 410.1,54.9 410.6,54.9 411.0,55.0 411.4,55.0 411.9,54.9 412.3,54.9 412.7,54.9 413.2,54.8 413.6,54.7 414.0,54.6 414.5,54.6 414.9,54.5 415.3,54.4 415.8,54.4 416.2,54.4 416.6,54.4 417.1,54.4 417.5,54.5 417.9,54.5 418.4,54.6 418.8,54.7 419.2,54.8 419.7,54.9 420.1,55.0 420.5,55.1 421.0,55.1 421.4,55.2 421.8,55.2 422.2,55.2 422.7,55.2 423.1,55.2 423.5,55.1 424.0,55.0 424.4,55.0 424.8,54.9 425.3,54.8 425.7,54.7 426.1,54.7 426.6,54.6 427.0,54.6 427.4,54.6 427.9,54.7 428.3,54.7 428.7,54.8 429.2,54.8 429.6,54.9 430.0,55.0 430.5,55.1 430.9,55.2 431.3,55.3 431.8,55.4 432.2,55.4 432.6,55.4 433.1,55.4 433.5,55.4 433.9,55.4 434.3,55.3 434.8,55.3 435.2,55.2 435.6,55.1 436.1,55.0 436.5,55.0 436.9,54.9 437.4,54.9 437.8,54.9 438.2,54.9 438.7,54.9 439.1,54.9 439.5,55.0 440.0,55.1 440.4,55.2 440.8,55.3 441.3,55.4 441.7,55.5 442.1,55.5 442.6,55.6 443.0,55.6 443.4,55.7 443.9,55.7 444.3,55.7 444.7,55.6 445.2,55.6 445.6,55.5 446.0,55.4 446.4,55.3 446.9,55.3 447.3,55.2 447.7,55.1 448.2,55.1 448.6,55.1 449.0,55.1 449.5,55.1 449.9,55.2 450.3,55.2 450.8,55.3 451.2,55.4 451.6,55.5 452.1,55.6 452.5,55.7" stroke="#22c422" stroke-width="1.5" fill="none" stroke-linejoin="round"/>
<text stroke="#111" stroke-width="0.15" transform="translate(18.15,7.74) scale(0.680,1)" font-size="6.0" text-anchor="end" fill="#111" font-family='"Liberation Sans", sans-serif'>40</text>
<text stroke="#111" stroke-width="0.15" transform="translate(18.15,21.88) scale(0.680,1)" font-size="6.0" text-anchor="end" fill="#111" font-family='"Liberation Sans", sans-serif'>30</text>
<text stroke="#111" stroke-width="0.15" transform="translate(18.15,36.02) scale(0.680,1)" font-size="6.0" text-anchor="end" fill="#111" font-family='"Liberation Sans", sans-serif'>20</text>
<text stroke="#111" stroke-width="0.15" transform="translate(18.15,50.16) scale(0.680,1)" font-size="6.0" text-anchor="end" fill="#111" font-family='"Liberation Sans", sans-serif'>10</text>
<text stroke="#111" stroke-width="0.15" transform="translate(18.15,64.30) scale(0.680,1)" font-size="6.0" text-anchor="end" fill="#111" font-family='"Liberation Sans", sans-serif'>0</text>
<text stroke="#111" stroke-width="0.15" transform="translate(18.15,78.44) scale(0.680,1)" font-size="6.0" text-anchor="end" fill="#111" font-family='"Liberation Sans", sans-serif'>-10</text>
<text stroke="#111" stroke-width="0.15" transform="translate(18.15,92.58) scale(0.680,1)" font-size="6.0" text-anchor="end" fill="#111" font-family='"Liberation Sans", sans-serif'>-20</text>
<text stroke="#111" stroke-width="0.15" transform="translate(18.15,106.72) scale(0.680,1)" font-size="6.0" text-anchor="end" fill="#111" font-family='"Liberation Sans", sans-serif'>-30</text>
<text stroke="#111" stroke-width="0.15" transform="translate(18.15,120.86) scale(0.680,1)" font-size="6.0" text-anchor="end" fill="#111" font-family='"Liberation Sans", sans-serif'>-40</text>
<text stroke="#111" stroke-width="0.15" transform="translate(20.35,126.66) scale(0.740,1)" font-size="6.3" text-anchor="middle" fill="#111" font-family='"Liberation Sans", sans-serif'>0</text>
<text stroke="#111" stroke-width="0.15" transform="translate(74.37,126.66) scale(0.740,1)" font-size="6.3" text-anchor="middle" fill="#111" font-family='"Liberation Sans", sans-serif'>5</text>
<text stroke="#111" stroke-width="0.15" transform="translate(128.39,126.66) scale(0.740,1)" font-size="6.3" text-anchor="middle" fill="#111" font-family='"Liberation Sans", sans-serif'>10</text>
<text stroke="#111" stroke-width="0.15" transform="translate(182.41,126.66) scale(0.740,1)" font-size="6.3" text-anchor="middle" fill="#111" font-family='"Liberation Sans", sans-serif'>15</text>
<text stroke="#111" stroke-width="0.15" transform="translate(236.42,126.66) scale(0.740,1)" font-size="6.3" text-anchor="middle" fill="#111" font-family='"Liberation Sans", sans-serif'>20</text>
<text stroke="#111" stroke-width="0.15" transform="translate(290.44,126.66) scale(0.740,1)" font-size="6.3" text-anchor="middle" fill="#111" font-family='"Liberation Sans", sans-serif'>25</text>
<text stroke="#111" stroke-width="0.15" transform="translate(344.46,126.66) scale(0.740,1)" font-size="6.3" text-anchor="middle" fill="#111" font-family='"Liberation Sans", sans-serif'>30</text>
<text stroke="#111" stroke-width="0.15" transform="translate(398.48,126.66) scale(0.740,1)" font-size="6.3" text-anchor="middle" fill="#111" font-family='"Liberation Sans", sans-serif'>35</text>
<text stroke="#111" stroke-width="0.15" transform="translate(452.50,126.66) scale(0.740,1)" font-size="6.3" text-anchor="middle" fill="#111" font-family='"Liberation Sans", sans-serif'>40</text>
<path d="M77.5,185.3V307.8M131.5,185.3V307.8M184.5,185.3V307.8M238.5,185.3V307.8M291.5,185.3V307.8M345.5,185.3V307.8M398.5,185.3V307.8M24.2,200.5H451.6M24.2,215.5H451.6M24.2,231.5H451.6M24.2,246.5H451.6M24.2,261.5H451.6M24.2,277.5H451.6M24.2,292.5H451.6" stroke="#b8b8b8" stroke-width="1" fill="none"/>
<path d="M77.5,307.8v-3.8M77.5,185.3v3.8M131.5,307.8v-3.8M131.5,185.3v3.8M184.5,307.8v-3.8M184.5,185.3v3.8M238.5,307.8v-3.8M238.5,185.3v3.8M291.5,307.8v-3.8M291.5,185.3v3.8M345.5,307.8v-3.8M345.5,185.3v3.8M398.5,307.8v-3.8M398.5,185.3v3.8M24.2,200.5h3.8M451.6,200.5h-3.8M24.2,215.5h3.8M451.6,215.5h-3.8M24.2,231.5h3.8M451.6,231.5h-3.8M24.2,246.5h3.8M451.6,246.5h-3.8M24.2,261.5h3.8M451.6,261.5h-3.8M24.2,277.5h3.8M451.6,277.5h-3.8M24.2,292.5h3.8M451.6,292.5h-3.8" stroke="#7a7a7a" stroke-width="0.9" fill="none"/>
<rect x="24.20" y="185.30" width="427.40" height="122.50" stroke="#808080" stroke-width="1.2" fill="none"/>
<path d="M24.1,295.3 24.6,296.7 25.0,297.8 25.4,298.5 25.9,298.8 26.3,298.7 26.7,298.2 27.1,297.3 27.6,296.0 28.0,294.5 28.4,292.8 28.9,291.1 29.3,289.4 29.7,287.9 30.1,286.6 30.6,285.7 31.0,285.2 31.4,285.1 31.9,285.4 32.3,286.1 32.7,287.2 33.1,288.6 33.6,290.2 34.0,292.0 34.4,293.7 34.8,295.3 35.3,296.7 35.7,297.8 36.1,298.5 36.6,298.8 37.0,298.7 37.4,298.2 37.8,297.3 38.3,296.0 38.7,294.5 39.1,292.8 39.6,291.1 40.0,289.4 40.4,287.9 40.8,286.6 41.3,285.7 41.7,285.2 42.1,285.1 42.5,285.4 43.0,286.1 43.4,287.2 43.8,288.6 44.3,290.2 44.7,292.0 45.1,293.7 45.5,295.3 46.0,296.7 46.4,297.8 46.8,298.5 47.3,298.8 47.7,298.7 48.1,298.2 48.5,297.3 49.0,296.0 49.4,294.5 49.8,292.8 50.2,291.1 50.7,289.4 51.1,287.9 51.5,286.6 52.0,285.7 52.4,285.2 52.8,285.1 53.2,285.4 53.7,286.1 54.1,287.2 54.5,288.6 55.0,290.2 55.4,292.0 55.8,293.7 56.2,295.3 56.7,296.7 57.1,297.8 57.5,298.5 58.0,298.8 58.4,298.7 58.8,298.2 59.2,297.3 59.7,296.0 60.1,294.5 60.5,292.8 60.9,291.1 61.4,289.4 61.8,287.9 62.2,286.6 62.7,285.7 63.1,285.2 63.5,285.1 63.9,285.4 64.4,286.1 64.8,287.2 65.2,288.6 65.7,290.2 66.1,292.0 66.5,293.7 66.9,295.3 67.4,296.7 67.8,297.8 68.2,298.5 68.6,298.8 69.1,298.7 69.5,298.2 69.9,297.3 70.4,296.0 70.8,294.5 71.2,292.8 71.6,291.1 72.1,289.4 72.5,287.9 72.9,286.6 73.4,285.7 73.8,285.2 74.2,285.1 74.6,285.4 75.1,286.1 75.5,287.2 75.9,288.6 76.3,290.2 76.8,292.0 77.2,293.7 77.6,295.3 78.1,296.7 78.5,297.8 78.9,298.5 79.3,298.8 79.8,298.7 80.2,298.2 80.6,297.3 81.1,296.0 81.5,294.5 81.9,292.8 82.3,291.1 82.8,289.4 83.2,287.9 83.6,286.6 84.0,285.7 84.5,285.2 84.9,285.1 85.3,285.4 85.8,286.1 86.2,287.2 86.6,288.6 87.0,290.2 87.5,292.0 87.9,293.7 88.3,295.3 88.8,296.7 89.2,297.8 89.6,298.5 90.0,298.8 90.5,298.7 90.9,298.2 91.3,297.3 91.8,296.0 92.2,294.5 92.6,292.8 93.0,291.1 93.5,289.4 93.9,287.9 94.3,286.6 94.7,285.7 95.2,285.2 95.6,285.1 96.0,285.4 96.5,286.1 96.9,287.2 97.3,288.6 97.7,290.2 98.2,292.0 98.6,293.7 99.0,295.3 99.5,296.7 99.9,297.8 100.3,298.5 100.7,298.8 101.2,298.7 101.6,298.2 102.0,297.3 102.4,296.0 102.9,294.5 103.3,292.8 103.7,291.1 104.2,289.4 104.6,287.9 105.0,286.6 105.4,285.7 105.9,285.2 106.3,285.1 106.7,285.4 107.2,286.1 107.6,287.2 108.0,288.6 108.4,290.2 108.9,292.0 109.3,293.7 109.7,295.3 110.1,296.7 110.6,297.8 111.0,298.5 111.4,298.8 111.9,298.7 112.3,298.2 112.7,297.3 113.1,296.0 113.6,294.5 114.0,292.8 114.4,291.1 114.9,289.4 115.3,287.9 115.7,286.6 116.1,285.7 116.6,285.2 117.0,285.1 117.4,285.4 117.8,286.1 118.3,287.2 118.7,288.6 119.1,290.2 119.6,292.0 120.0,293.7 120.4,295.3 120.8,296.7 121.3,297.8 121.7,298.5 122.1,298.8 122.6,298.7 123.0,298.2 123.4,297.3 123.8,296.0 124.3,294.5 124.7,292.8 125.1,291.1 125.6,289.4 126.0,287.9 126.4,286.6 126.8,285.7 127.3,285.2 127.7,285.1 128.1,285.4 128.5,286.1 129.0,287.2 129.4,288.6 129.8,290.2 130.3,292.0 130.7,293.7 131.1,295.3 131.5,296.7 132.0,297.8 132.4,298.5 132.8,298.8 133.3,298.7 133.7,298.2 134.1,297.3 134.5,296.0 135.0,294.5 135.4,292.8 135.8,291.1 136.2,289.4 136.7,287.9 137.1,286.6 137.5,285.7 138.0,285.2 138.4,285.1 138.8,285.4 139.2,286.1 139.7,287.2 140.1,288.6 140.5,290.2 141.0,292.0 141.4,293.7 141.8,295.3 142.2,296.7 142.7,297.8 143.1,298.5 143.5,298.8 143.9,298.7 144.4,298.2 144.8,297.3 145.2,296.0 145.7,294.5 146.1,292.8 146.5,291.1 146.9,289.4 147.4,287.9 147.8,286.6 148.2,285.7 148.7,285.2 149.1,285.1 149.5,285.4 149.9,286.1 150.4,287.2 150.8,288.6 151.2,290.2 151.6,292.0 152.1,293.7 152.5,295.3 152.9,296.7 153.4,297.8 153.8,298.5 154.2,298.8 154.6,298.7 155.1,298.2 155.5,297.3 155.9,296.0 156.4,294.5 156.8,292.8 157.2,291.1 157.6,289.4 158.1,287.9 158.5,286.6 158.9,285.7 159.4,285.2 159.8,285.1 160.2,285.4 160.6,286.1 161.1,287.2 161.5,288.6 161.9,290.2 162.3,292.0 162.8,293.7 163.2,295.3 163.6,296.7 164.1,297.8 164.5,298.5 164.9,298.8 165.3,298.7 165.8,298.2 166.2,297.3 166.6,296.0 167.1,294.5 167.5,292.8 167.9,291.1 168.3,289.4 168.8,287.9 169.2,286.6 169.6,285.7 170.0,285.2 170.5,285.1 170.9,285.4 171.3,286.1 171.8,287.2 172.2,288.6 172.6,290.2 173.0,292.0 173.5,293.7 173.9,295.3 174.3,296.7 174.8,297.8 175.2,298.5 175.6,298.8 176.0,298.7 176.5,298.2 176.9,297.3 177.3,296.0 177.7,294.5 178.2,292.8 178.6,291.1 179.0,289.4 179.5,287.9 179.9,286.6 180.3,285.7 180.7,285.2 181.2,285.1 181.6,285.4 182.0,286.1 182.5,287.2 182.9,288.6 183.3,290.2 183.7,292.0 184.2,293.7 184.6,295.3 185.0,296.7 185.4,297.8 185.9,298.5 186.3,298.8 186.7,298.7 187.2,298.2 187.6,297.3 188.0,296.0 188.4,294.5 188.9,292.8 189.3,291.1 189.7,289.4 190.2,287.9 190.6,286.6 191.0,285.7 191.4,285.2 191.9,285.1 192.3,285.4 192.7,286.1 193.2,287.2 193.6,288.6 194.0,290.2 194.4,292.0 194.9,293.7 195.3,295.3 195.7,296.7 196.1,297.8 196.6,298.5 197.0,298.8 197.4,298.7 197.9,298.2 198.3,297.3 198.7,296.0 199.1,294.5 199.6,292.8 200.0,291.1 200.4,289.4 200.9,287.9 201.3,286.6 201.7,285.7 202.1,285.2 202.6,285.1 203.0,285.4 203.4,286.1 203.8,287.2 204.3,288.6 204.7,290.2 205.1,292.0 205.6,293.7 206.0,295.3 206.4,296.7 206.8,297.8 207.3,298.5 207.7,298.8 208.1,298.7 208.6,298.2 209.0,297.3 209.4,296.0 209.8,294.5 210.3,292.8 210.7,291.1 211.1,289.4 211.5,287.9 212.0,286.6 212.4,285.7 212.8,285.2 213.3,285.1 213.7,285.4 214.1,286.1 214.5,287.2 215.0,288.6 215.4,290.2 215.8,292.0 216.3,293.7 216.7,295.3 217.1,296.7 217.5,297.8 218.0,298.5 218.4,298.8 218.8,298.7 219.2,298.2 219.7,297.3 220.1,296.0 220.5,294.5 221.0,292.8 221.4,291.1 221.8,289.4 222.2,287.9 222.7,286.6 223.1,285.7 223.5,285.2 224.0,285.1 224.4,285.4 224.8,286.1 225.2,287.2 225.7,288.6 226.1,290.2 226.5,292.0 227.0,293.7 227.4,295.3 227.8,296.7 228.2,297.8 228.7,298.5 229.1,298.8 229.5,298.7 229.9,298.2 230.4,297.3 230.8,296.0 231.2,294.5 231.7,292.8 232.1,291.1 232.5,289.4 232.9,287.9 233.4,286.6 233.8,285.7 234.2,285.2 234.7,285.1 235.1,285.4 235.5,286.1 235.9,287.2 236.4,288.6 236.8,290.2 237.2,292.0 237.6,293.7 238.1,295.3 238.5,296.7 238.9,297.8 239.4,298.5 239.8,298.8 240.2,298.7 240.6,298.2 241.1,297.3 241.5,296.0 241.9,294.5 242.4,292.8 242.8,291.1 243.2,289.4 243.6,287.9 244.1,286.6 244.5,285.7 244.9,285.2 245.3,285.1 245.8,285.4 246.2,286.1 246.6,287.2 247.1,288.6 247.5,290.2 247.9,292.0 248.3,293.7 248.8,295.3 249.2,296.7 249.6,297.8 250.1,298.5 250.5,298.8 250.9,298.7 251.3,298.2 251.8,297.3 252.2,296.0 252.6,294.5 253.0,292.8 253.5,291.1 253.9,289.4 254.3,287.9 254.8,286.6 255.2,285.7 255.6,285.2 256.0,285.1 256.5,285.4 256.9,286.1 257.3,287.2 257.8,288.6 258.2,290.2 258.6,292.0 259.0,293.7 259.5,295.3 259.9,296.7 260.3,297.8 260.8,298.5 261.2,298.8 261.6,298.7 262.0,298.2 262.5,297.3 262.9,296.0 263.3,294.5 263.7,292.8 264.2,291.1 264.6,289.4 265.0,287.9 265.5,286.6 265.9,285.7 266.3,285.2 266.7,285.1 267.2,285.4 267.6,286.1 268.0,287.2 268.5,288.6 268.9,290.2 269.3,292.0 269.7,293.7 270.2,295.3 270.6,296.7 271.0,297.8 271.4,298.5 271.9,298.8 272.3,298.7 272.7,298.2 273.2,297.3 273.6,296.0 274.0,294.5 274.4,292.8 274.9,291.1 275.3,289.4 275.7,287.9 276.2,286.6 276.6,285.7 277.0,285.2 277.4,285.1 277.9,285.4 278.3,286.1 278.7,287.2 279.1,288.6 279.6,290.2 280.0,292.0 280.4,293.7 280.9,295.3 281.3,296.7 281.7,297.8 282.1,298.5 282.6,298.8 283.0,298.7 283.4,298.2 283.9,297.3 284.3,296.0 284.7,294.5 285.1,292.8 285.6,291.1 286.0,289.4 286.4,287.9 286.8,286.6 287.3,285.7 287.7,285.2 288.1,285.1 288.6,285.4 289.0,286.1 289.4,287.2 289.8,288.6 290.3,290.2 290.7,292.0 291.1,293.7 291.6,295.3 292.0,296.7 292.4,297.8 292.8,298.5 293.3,298.8 293.7,298.7 294.1,298.2 294.6,297.3 295.0,296.0 295.4,294.5 295.8,292.8 296.3,291.1 296.7,289.4 297.1,287.9 297.5,286.6 298.0,285.7 298.4,285.2 298.8,285.1 299.3,285.4 299.7,286.1 300.1,287.2 300.5,288.6 301.0,290.2 301.4,292.0 301.8,293.7 302.3,295.3 302.7,296.7 303.1,297.8 303.5,298.5 304.0,298.8 304.4,298.7 304.8,298.2 305.2,297.3 305.7,296.0 306.1,294.5 306.5,292.8 307.0,291.1 307.4,289.4 307.8,287.9 308.2,286.6 308.7,285.7 309.1,285.2 309.5,285.1 310.0,285.4 310.4,286.1 310.8,287.2 311.2,288.6 311.7,290.2 312.1,292.0 312.5,293.7 312.9,295.3 313.4,296.7 313.8,297.8 314.2,298.5 314.7,298.8 315.1,298.7 315.5,298.2 315.9,297.3 316.4,296.0 316.8,294.5 317.2,292.8 317.7,291.1 318.1,289.4 318.5,287.9 318.9,286.6 319.4,285.7 319.8,285.2 320.2,285.1 320.7,285.4 321.1,286.1 321.5,287.2 321.9,288.6 322.4,290.2 322.8,292.0 323.2,293.7 323.6,295.3 324.1,296.7 324.5,297.8 324.9,298.5 325.4,298.8 325.8,298.7 326.2,298.2 326.6,297.3 327.1,296.0 327.5,294.5 327.9,292.8 328.4,291.1 328.8,289.4 329.2,287.9 329.6,286.6 330.1,285.7 330.5,285.2 330.9,285.1 331.3,285.4 331.8,286.1 332.2,287.2 332.6,288.6 333.1,290.2 333.5,292.0 333.9,293.7 334.3,295.3 334.8,296.7 335.2,297.8 335.6,298.5 336.1,298.8 336.5,298.7 336.9,298.2 337.3,297.3 337.8,296.0 338.2,294.5 338.6,292.8 339.0,291.1 339.5,289.4 339.9,287.9 340.3,286.6 340.8,285.7 341.2,285.2 341.6,285.1 342.0,285.4 342.5,286.1 342.9,287.2 343.3,288.6 343.8,290.2 344.2,292.0 344.6,293.7 345.0,295.3 345.5,296.7 345.9,297.8 346.3,298.5 346.7,298.8 347.2,298.7 347.6,298.2 348.0,297.3 348.5,296.0 348.9,294.5 349.3,292.8 349.7,291.1 350.2,289.4 350.6,287.9 351.0,286.6 351.5,285.7 351.9,285.2 352.3,285.1 352.7,285.4 353.2,286.1 353.6,287.2 354.0,288.6 354.5,290.2 354.9,292.0 355.3,293.7 355.7,295.3 356.2,296.7 356.6,297.8 357.0,298.5 357.4,298.8 357.9,298.7 358.3,298.2 358.7,297.3 359.2,296.0 359.6,294.5 360.0,292.8 360.4,291.1 360.9,289.4 361.3,287.9 361.7,286.6 362.2,285.7 362.6,285.2 363.0,285.1 363.4,285.4 363.9,286.1 364.3,287.2 364.7,288.6 365.1,290.2 365.6,292.0 366.0,293.7 366.4,295.3 366.9,296.7 367.3,297.8 367.7,298.5 368.1,298.8 368.6,298.7 369.0,298.2 369.4,297.3 369.9,296.0 370.3,294.5 370.7,292.8 371.1,291.1 371.6,289.4 372.0,287.9 372.4,286.6 372.8,285.7 373.3,285.2 373.7,285.1 374.1,285.4 374.6,286.1 375.0,287.2 375.4,288.6 375.8,290.2 376.3,292.0 376.7,293.7 377.1,295.3 377.6,296.7 378.0,297.8 378.4,298.5 378.8,298.8 379.3,298.7 379.7,298.2 380.1,297.3 380.5,296.0 381.0,294.5 381.4,292.8 381.8,291.1 382.3,289.4 382.7,287.9 383.1,286.6 383.5,285.7 384.0,285.2 384.4,285.1 384.8,285.4 385.3,286.1 385.7,287.2 386.1,288.6 386.5,290.2 387.0,292.0 387.4,293.7 387.8,295.3 388.3,296.7 388.7,297.8 389.1,298.5 389.5,298.8 390.0,298.7 390.4,298.2 390.8,297.3 391.2,296.0 391.7,294.5 392.1,292.8 392.5,291.1 393.0,289.4 393.4,287.9 393.8,286.6 394.2,285.7 394.7,285.2 395.1,285.1 395.5,285.4 396.0,286.1 396.4,287.2 396.8,288.6 397.2,290.2 397.7,292.0 398.1,293.7 398.5,295.3 398.9,296.7 399.4,297.8 399.8,298.5 400.2,298.8 400.7,298.7 401.1,298.2 401.5,297.3 401.9,296.0 402.4,294.5 402.8,292.8 403.2,291.1 403.7,289.4 404.1,287.9 404.5,286.6 404.9,285.7 405.4,285.2 405.8,285.1 406.2,285.4 406.6,286.1 407.1,287.2 407.5,288.6 407.9,290.2 408.4,292.0 408.8,293.7 409.2,295.3 409.6,296.7 410.1,297.8 410.5,298.5 410.9,298.8 411.4,298.7 411.8,298.2 412.2,297.3 412.6,296.0 413.1,294.5 413.5,292.8 413.9,291.1 414.3,289.4 414.8,287.9 415.2,286.6 415.6,285.7 416.1,285.2 416.5,285.1 416.9,285.4 417.3,286.1 417.8,287.2 418.2,288.6 418.6,290.2 419.1,292.0 419.5,293.7 419.9,295.3 420.3,296.7 420.8,297.8 421.2,298.5 421.6,298.8 422.1,298.7 422.5,298.2 422.9,297.3 423.3,296.0 423.8,294.5 424.2,292.8 424.6,291.1 425.0,289.4 425.5,287.9 425.9,286.6 426.3,285.7 426.8,285.2 427.2,285.1 427.6,285.4 428.0,286.1 428.5,287.2 428.9,288.6 429.3,290.2 429.8,292.0 430.2,293.7 430.6,295.3 431.0,296.7 431.5,297.8 431.9,298.5 432.3,298.8 432.7,298.7 433.2,298.2 433.6,297.3 434.0,296.0 434.5,294.5 434.9,292.8 435.3,291.1 435.7,289.4 436.2,287.9 436.6,286.6 437.0,285.7 437.5,285.2 437.9,285.1 438.3,285.4 438.7,286.1 439.2,287.2 439.6,288.6 440.0,290.2 440.4,292.0 440.9,293.7 441.3,295.3 441.7,296.7 442.2,297.8 442.6,298.5 443.0,298.8 443.4,298.7 443.9,298.2 444.3,297.3 444.7,296.0 445.2,294.5 445.6,292.8 446.0,291.1 446.4,289.4 446.9,287.9 447.3,286.6 447.7,285.7 448.1,285.2 448.6,285.1 449.0,285.4 449.4,286.1 449.9,287.2 450.3,288.6 450.7,290.2 451.1,292.0 451.6,293.7 452.0,295.3" stroke="#c88ccc" stroke-width="1.0" fill="none"/>
<path d="M24.1,295.3 24.6,296.7 25.0,297.8 25.4,298.5 25.9,298.8 26.3,298.7 26.7,298.2 27.1,297.3 27.6,296.0 28.0,294.5 28.4,292.8 28.9,291.1 29.3,289.4 29.7,287.9 30.1,286.6 30.6,285.7 31.0,285.2 31.4,285.1 31.9,285.4 32.3,286.1 32.7,287.2 33.1,288.6 33.6,290.2 34.0,292.0 34.4,293.7 34.8,295.3 35.3,296.7 35.7,297.8 36.1,298.5 36.6,298.8 37.0,298.7 37.4,298.2 37.8,297.3 38.3,296.0 38.7,294.5 39.1,292.8 39.6,291.1 40.0,289.4 40.4,287.9 40.8,286.6 41.3,285.7 41.7,285.2 42.1,285.1 42.5,285.4 43.0,286.1 43.4,287.2 43.8,288.6 44.3,290.2 44.7,292.0 45.1,293.7 45.5,295.3 46.0,296.7 46.4,297.8 46.8,298.5 47.3,298.8 47.7,298.7 48.1,298.2 48.5,297.3 49.0,296.0 49.4,294.5 49.8,292.8 50.2,291.1 50.7,289.4 51.1,287.9 51.5,286.6 52.0,285.7 52.4,285.2 52.8,285.1 53.2,285.4 53.7,286.1 54.1,287.2 54.5,288.6 55.0,290.2 55.4,292.0 55.8,293.7 56.2,295.3 56.7,296.7 57.1,297.8 57.5,298.5 58.0,298.8 58.4,298.7 58.8,298.2 59.2,297.3 59.7,296.0 60.1,294.5 60.5,292.8 60.9,291.1 61.4,289.4 61.8,287.9 62.2,286.6 62.7,285.7 63.1,285.2 63.5,285.1 63.9,285.4 64.4,286.1 64.8,287.2 65.2,288.6 65.7,290.2 66.1,292.0 66.5,293.7 66.9,295.3 67.4,296.7 67.8,297.8 68.2,298.5 68.6,298.8 69.1,298.7 69.5,298.2 69.9,297.3 70.4,296.0 70.8,294.5 71.2,292.8 71.6,291.1 72.1,289.4 72.5,287.9 72.9,286.6 73.4,285.7 73.8,285.2 74.2,285.1 74.6,285.4 75.1,286.1 75.5,287.2 75.9,288.6 76.3,290.2 76.8,292.0 77.2,293.7 77.6,295.3 78.1,296.7 78.5,297.8 78.9,298.5 79.3,298.8 79.8,298.7 80.2,298.2 80.6,297.3 81.1,296.0 81.5,294.5 81.9,292.8 82.3,291.1 82.8,289.4 83.2,287.9 83.6,286.6 84.0,285.7 84.5,285.2 84.9,285.1 85.3,285.4 85.8,286.1 86.2,287.2 86.6,288.6 87.0,290.2 87.5,292.0 87.9,293.7 88.3,295.3 88.8,296.7 89.2,297.8 89.6,298.5 90.0,298.8 90.5,298.7 90.9,298.2 91.3,297.3 91.8,296.0 92.2,294.5 92.6,292.8 93.0,291.1 93.5,289.4 93.9,287.9 94.3,286.6 94.7,285.7 95.2,285.2 95.6,285.1 96.0,285.4 96.5,286.1 96.9,287.2 97.3,288.6 97.7,290.2 98.2,292.0 98.6,293.7 99.0,295.3 99.5,296.7 99.9,297.8 100.3,298.5 100.7,298.8 101.2,298.7 101.6,298.2 102.0,297.3 102.4,296.0 102.9,294.5 103.3,292.8 103.7,291.1 104.2,289.4 104.6,287.9 105.0,286.6 105.4,285.7 105.9,285.2 106.3,285.1 106.7,285.4 107.2,286.1 107.6,287.2 108.0,288.6 108.4,290.2 108.9,292.0 109.3,293.7 109.7,295.3 110.1,296.7 110.6,297.8 111.0,298.5 111.4,298.8 111.9,298.7 112.3,298.2 112.7,297.3 113.1,296.0 113.6,294.5 114.0,292.8 114.4,291.1 114.9,289.4 115.3,287.9 115.7,286.6 116.1,285.7 116.6,285.2 117.0,285.1 117.4,285.4 117.8,286.1 118.3,287.2 118.7,288.6 119.1,290.2 119.6,292.0 120.0,293.7 120.4,295.3 120.8,296.7 121.3,297.8 121.7,298.5 122.1,298.8 122.6,298.7 123.0,298.2 123.4,297.3 123.8,296.0 124.3,294.5 124.7,292.8 125.1,291.1 125.6,289.4 126.0,287.9 126.4,286.6 126.8,285.7 127.3,285.2 127.7,285.1 128.1,285.4 128.5,286.1 129.0,287.2 129.4,288.6 129.8,290.2 130.3,292.0 130.7,293.7 131.1,295.3 131.5,296.7 132.0,297.8 132.4,298.5 132.8,298.8 133.3,298.7 133.7,298.2 134.1,297.3 134.5,296.0 135.0,294.5 135.4,292.8 135.8,291.1 136.2,289.4 136.7,287.9 137.1,286.6 137.5,285.7 138.0,285.2 138.4,285.1 138.8,285.4 139.2,286.1 139.7,287.2 140.1,288.6 140.5,290.2 141.0,292.0 141.4,293.7 141.8,295.3 142.2,296.7 142.7,297.8 143.1,298.5 143.5,298.8 143.9,298.7 144.4,298.2 144.8,297.3 145.2,296.0 145.7,294.5 146.1,292.8 146.5,291.1 146.9,289.4 147.4,287.9 147.8,286.6 148.2,285.7 148.7,285.2 149.1,285.1 149.5,285.4 149.9,286.1 150.4,287.2 150.8,288.6 151.2,290.2 151.6,292.0 152.1,293.7 152.5,295.3 152.9,296.7 153.4,297.8 153.8,298.5 154.2,298.8 154.6,298.7 155.1,298.2 155.5,297.3 155.9,296.0 156.4,294.5 156.8,292.8 157.2,291.1 157.6,289.4 158.1,287.9 158.5,286.6 158.9,285.7 159.4,285.2 159.8,285.1 160.2,285.4 160.6,286.1 161.1,287.2 161.5,288.6 161.9,290.2 162.3,292.0 162.8,293.7 163.2,295.3 163.6,296.7 164.1,297.8 164.5,298.5 164.9,298.8 165.3,298.7 165.8,298.2 166.2,297.3 166.6,296.0 167.1,294.5 167.5,292.8 167.9,291.1 168.3,289.4 168.8,287.9 169.2,286.6 169.6,285.7 170.0,285.2 170.5,285.1 170.9,285.4 171.3,286.1 171.8,287.2 172.2,288.6 172.6,290.2 173.0,292.0 173.5,293.7 173.9,295.3 174.3,296.7 174.8,297.8 175.2,298.5 175.6,298.8 176.0,298.7 176.5,298.2 176.9,297.3 177.3,296.0 177.7,294.5 178.2,292.8 178.6,291.1 179.0,289.4 179.5,287.9 179.9,286.6 180.3,285.7 180.7,285.2 181.2,285.1 181.6,285.4 182.0,286.1 182.5,287.2 182.9,288.6 183.3,290.2 183.7,292.0 184.2,293.7 184.6,295.3 185.0,296.7 185.4,297.8 185.9,298.5 186.3,298.8 186.7,298.7 187.2,298.2 187.6,297.3 188.0,296.0 188.4,294.5 188.9,292.8 189.3,291.1 189.7,289.4 190.2,287.9 190.6,286.6 191.0,285.7 191.4,285.2 191.9,285.1 192.3,285.4 192.7,286.1 193.2,287.2 193.6,288.6 194.0,290.2 194.4,292.0 194.9,293.7 195.3,295.3 195.7,296.7 196.1,297.8 196.6,298.5 197.0,298.8 197.4,298.7 197.9,298.2 198.3,297.3 198.7,296.0 199.1,294.5 199.6,292.8 200.0,291.1 200.4,289.4 200.9,287.9 201.3,286.6 201.7,285.7 202.1,285.2 202.6,285.1 203.0,285.4 203.4,286.1 203.8,287.2 204.3,288.6 204.7,290.2 205.1,292.0 205.6,293.7 206.0,295.3 206.4,296.7 206.8,297.8 207.3,298.5 207.7,298.8 208.1,298.7 208.6,298.2 209.0,297.3 209.4,296.0 209.8,294.5 210.3,292.8 210.7,291.1 211.1,289.4 211.5,287.9 212.0,286.6 212.4,285.7 212.8,285.2 213.3,285.1 213.7,285.4 214.1,286.1 214.5,287.2 215.0,288.6 215.4,290.2 215.8,292.0 216.3,293.7 216.7,295.3 217.1,296.7 217.5,297.8 218.0,298.5 218.4,298.8 218.8,298.7 219.2,298.2 219.7,297.3 220.1,296.0 220.5,294.5 221.0,292.8 221.4,291.1 221.8,289.4 222.2,287.9 222.7,286.6 223.1,285.7 223.5,285.2 224.0,285.1 224.4,285.4 224.8,286.1 225.2,287.2 225.7,288.6 226.1,290.2 226.5,292.0 227.0,293.7 227.4,295.3 227.8,296.7 228.2,297.8 228.7,298.5 229.1,298.8 229.5,298.7 229.9,298.2 230.4,297.3 230.8,296.0 231.2,294.5 231.7,292.8 232.1,291.1 232.5,289.4 232.9,287.9 233.4,286.6 233.8,285.7 234.2,285.2 234.7,285.1 235.1,285.4 235.5,286.1 235.9,287.2 236.4,288.6 236.8,290.2 237.2,292.0 237.6,293.7 238.1,295.3 238.5,296.7 238.9,297.8 239.4,298.5 239.8,298.8 240.2,298.7 240.6,298.2 241.1,297.3 241.5,296.0 241.9,294.5 242.4,292.8 242.8,291.1 243.2,289.4 243.6,287.9 244.1,286.6 244.5,285.7 244.9,285.2 245.3,285.1 245.8,285.4 246.2,286.1 246.6,287.2 247.1,288.6 247.5,290.2 247.9,292.0 248.3,293.7 248.8,295.3 249.2,296.7 249.6,297.8 250.1,298.5 250.5,298.8 250.9,298.7 251.3,298.2 251.8,297.3 252.2,296.0 252.6,294.5 253.0,292.8 253.5,291.1 253.9,289.4 254.3,287.9 254.8,286.6 255.2,285.7 255.6,285.2 256.0,285.1 256.5,285.4 256.9,286.1 257.3,287.2 257.8,288.6 258.2,290.2 258.6,292.0 259.0,293.7 259.5,295.3 259.9,296.7 260.3,297.8 260.8,298.5 261.2,298.8 261.6,298.7 262.0,298.2 262.5,297.3 262.9,296.0 263.3,294.5 263.7,292.8 264.2,291.1 264.6,289.4 265.0,287.9 265.5,286.6 265.9,285.7 266.3,285.2 266.7,285.1 267.2,285.4 267.6,286.1 268.0,287.2 268.5,288.6 268.9,290.2 269.3,292.0 269.7,293.7 270.2,295.3 270.6,296.7 271.0,297.8 271.4,298.5 271.9,298.8 272.3,298.7 272.7,298.2 273.2,297.3 273.6,296.0 274.0,294.5 274.4,292.8 274.9,291.1 275.3,289.4 275.7,287.9 276.2,286.6 276.6,285.7 277.0,285.2 277.4,285.1 277.9,285.4 278.3,286.1 278.7,287.2 279.1,288.6 279.6,290.2 280.0,292.0 280.4,293.7 280.9,295.3 281.3,296.7 281.7,297.8 282.1,298.5 282.6,298.8 283.0,298.7 283.4,298.2 283.9,297.3 284.3,296.0 284.7,294.5 285.1,292.8 285.6,291.1 286.0,289.4 286.4,287.9 286.8,286.6 287.3,285.7 287.7,285.2 288.1,285.1 288.6,285.4 289.0,286.1 289.4,287.2 289.8,288.6 290.3,290.2 290.7,292.0 291.1,293.7 291.6,295.3 292.0,296.7 292.4,297.8 292.8,298.5 293.3,298.8 293.7,298.7 294.1,298.2 294.6,297.3 295.0,296.0 295.4,294.5 295.8,292.8 296.3,291.1 296.7,289.4 297.1,287.9 297.5,286.6 298.0,285.7 298.4,285.2 298.8,285.1 299.3,285.4 299.7,286.1 300.1,287.2 300.5,288.6 301.0,290.2 301.4,292.0 301.8,293.7 302.3,295.3 302.7,296.7 303.1,297.8 303.5,298.5 304.0,298.8 304.4,298.7 304.8,298.2 305.2,297.3 305.7,296.0 306.1,294.5 306.5,292.8 307.0,291.1 307.4,289.4 307.8,287.9 308.2,286.6 308.7,285.7 309.1,285.2 309.5,285.1 310.0,285.4 310.4,286.1 310.8,287.2 311.2,288.6 311.7,290.2 312.1,292.0 312.5,293.7 312.9,295.3 313.4,296.7 313.8,297.8 314.2,298.5 314.7,298.8 315.1,298.7 315.5,298.2 315.9,297.3 316.4,296.0 316.8,294.5 317.2,292.8 317.7,291.1 318.1,289.4 318.5,287.9 318.9,286.6 319.4,285.7 319.8,285.2 320.2,285.1 320.7,285.4 321.1,286.1 321.5,287.2 321.9,288.6 322.4,290.2 322.8,292.0 323.2,293.7 323.6,295.3 324.1,296.7 324.5,297.8 324.9,298.5 325.4,298.8 325.8,298.7 326.2,298.2 326.6,297.3 327.1,296.0 327.5,294.5 327.9,292.8 328.4,291.1 328.8,289.4 329.2,287.9 329.6,286.6 330.1,285.7 330.5,285.2 330.9,285.1 331.3,285.4 331.8,286.1 332.2,287.2 332.6,288.6 333.1,290.2 333.5,292.0 333.9,293.7 334.3,295.3 334.8,296.7 335.2,297.8 335.6,298.5 336.1,298.8 336.5,298.7 336.9,298.2 337.3,297.3 337.8,296.0 338.2,294.5 338.6,292.8 339.0,291.1 339.5,289.4 339.9,287.9 340.3,286.6 340.8,285.7 341.2,285.2 341.6,285.1 342.0,285.4 342.5,286.1 342.9,287.2 343.3,288.6 343.8,290.2 344.2,292.0 344.6,293.7 345.0,295.3 345.5,296.7 345.9,297.8 346.3,298.5 346.7,298.8 347.2,298.7 347.6,298.2 348.0,297.3 348.5,296.0 348.9,294.5 349.3,292.8 349.7,291.1 350.2,289.4 350.6,287.9 351.0,286.6 351.5,285.7 351.9,285.2 352.3,285.1 352.7,285.4 353.2,286.1 353.6,287.2 354.0,288.6 354.5,290.2 354.9,292.0 355.3,293.7 355.7,295.3 356.2,296.7 356.6,297.8 357.0,298.5 357.4,298.8 357.9,298.7 358.3,298.2 358.7,297.3 359.2,296.0 359.6,294.5 360.0,292.8 360.4,291.1 360.9,289.4 361.3,287.9 361.7,286.6 362.2,285.7 362.6,285.2 363.0,285.1 363.4,285.4 363.9,286.1 364.3,287.2 364.7,288.6 365.1,290.2 365.6,292.0 366.0,293.7 366.4,295.3 366.9,296.7 367.3,297.8 367.7,298.5 368.1,298.8 368.6,298.7 369.0,298.2 369.4,297.3 369.9,296.0 370.3,294.5 370.7,292.8 371.1,291.1 371.6,289.4 372.0,287.9 372.4,286.6 372.8,285.7 373.3,285.2 373.7,285.1 374.1,285.4 374.6,286.1 375.0,287.2 375.4,288.6 375.8,290.2 376.3,292.0 376.7,293.7 377.1,295.3 377.6,296.7 378.0,297.8 378.4,298.5 378.8,298.8 379.3,298.7 379.7,298.2 380.1,297.3 380.5,296.0 381.0,294.5 381.4,292.8 381.8,291.1 382.3,289.4 382.7,287.9 383.1,286.6 383.5,285.7 384.0,285.2 384.4,285.1 384.8,285.4 385.3,286.1 385.7,287.2 386.1,288.6 386.5,290.2 387.0,292.0 387.4,293.7 387.8,295.3 388.3,296.7 388.7,297.8 389.1,298.5 389.5,298.8 390.0,298.7 390.4,298.2 390.8,297.3 391.2,296.0 391.7,294.5 392.1,292.8 392.5,291.1 393.0,289.4 393.4,287.9 393.8,286.6 394.2,285.7 394.7,285.2 395.1,285.1 395.5,285.4 396.0,286.1 396.4,287.2 396.8,288.6 397.2,290.2 397.7,292.0 398.1,293.7 398.5,295.3 398.9,296.7 399.4,297.8 399.8,298.5 400.2,298.8 400.7,298.7 401.1,298.2 401.5,297.3 401.9,296.0 402.4,294.5 402.8,292.8 403.2,291.1 403.7,289.4 404.1,287.9 404.5,286.6 404.9,285.7 405.4,285.2 405.8,285.1 406.2,285.4 406.6,286.1 407.1,287.2 407.5,288.6 407.9,290.2 408.4,292.0 408.8,293.7 409.2,295.3 409.6,296.7 410.1,297.8 410.5,298.5 410.9,298.8 411.4,298.7 411.8,298.2 412.2,297.3 412.6,296.0 413.1,294.5 413.5,292.8 413.9,291.1 414.3,289.4 414.8,287.9 415.2,286.6 415.6,285.7 416.1,285.2 416.5,285.1 416.9,285.4 417.3,286.1 417.8,287.2 418.2,288.6 418.6,290.2 419.1,292.0 419.5,293.7 419.9,295.3 420.3,296.7 420.8,297.8 421.2,298.5 421.6,298.8 422.1,298.7 422.5,298.2 422.9,297.3 423.3,296.0 423.8,294.5 424.2,292.8 424.6,291.1 425.0,289.4 425.5,287.9 425.9,286.6 426.3,285.7 426.8,285.2 427.2,285.1 427.6,285.4 428.0,286.1 428.5,287.2 428.9,288.6 429.3,290.2 429.8,292.0 430.2,293.7 430.6,295.3 431.0,296.7 431.5,297.8 431.9,298.5 432.3,298.8 432.7,298.7 433.2,298.2 433.6,297.3 434.0,296.0 434.5,294.5 434.9,292.8 435.3,291.1 435.7,289.4 436.2,287.9 436.6,286.6 437.0,285.7 437.5,285.2 437.9,285.1 438.3,285.4 438.7,286.1 439.2,287.2 439.6,288.6 440.0,290.2 440.4,292.0 440.9,293.7 441.3,295.3 441.7,296.7 442.2,297.8 442.6,298.5 443.0,298.8 443.4,298.7 443.9,298.2 444.3,297.3 444.7,296.0 445.2,294.5 445.6,292.8 446.0,291.1 446.4,289.4 446.9,287.9 447.3,286.6 447.7,285.7 448.1,285.2 448.6,285.1 449.0,285.4 449.4,286.1 449.9,287.2 450.3,288.6 450.7,290.2 451.1,292.0 451.6,293.7 452.0,295.3" stroke="#b478b8" stroke-width="1.0" stroke-dasharray="1,2" fill="none"/>
<path d="M24.1,211.2 24.6,211.5 25.0,211.7 25.4,211.9 25.9,211.9 26.3,211.9 26.7,211.9 27.1,211.7 27.6,211.5 28.0,211.2 28.4,210.8 28.9,210.5 29.3,210.1 29.7,209.8 30.1,209.5 30.6,209.2 31.0,209.0 31.4,208.9 31.9,208.8 32.3,208.9 32.7,209.0 33.1,209.2 33.6,209.4 34.0,209.7 34.4,210.0 34.8,210.3 35.3,210.5 35.7,210.8 36.1,210.9 36.6,211.0 37.0,211.0 37.4,210.9 37.8,210.8 38.3,210.5 38.7,210.2 39.1,209.9 39.6,209.6 40.0,209.2 40.4,208.8 40.8,208.5 41.3,208.3 41.7,208.1 42.1,208.0 42.5,207.9 43.0,208.0 43.4,208.1 43.8,208.3 44.3,208.5 44.7,208.8 45.1,209.1 45.5,209.4 46.0,209.6 46.4,209.8 46.8,210.0 47.3,210.1 47.7,210.1 48.1,210.0 48.5,209.9 49.0,209.6 49.4,209.3 49.8,209.0 50.2,208.7 50.7,208.3 51.1,207.9 51.5,207.6 52.0,207.4 52.4,207.2 52.8,207.1 53.2,207.0 53.7,207.1 54.1,207.2 54.5,207.4 55.0,207.6 55.4,207.9 55.8,208.2 56.2,208.5 56.7,208.7 57.1,209.0 57.5,209.1 58.0,209.2 58.4,209.2 58.8,209.1 59.2,209.0 59.7,208.8 60.1,208.5 60.5,208.1 60.9,207.8 61.4,207.4 61.8,207.1 62.2,206.8 62.7,206.5 63.1,206.3 63.5,206.2 63.9,206.2 64.4,206.2 64.8,206.4 65.2,206.5 65.7,206.8 66.1,207.1 66.5,207.4 66.9,207.6 67.4,207.9 67.8,208.1 68.2,208.3 68.6,208.4 69.1,208.4 69.5,208.3 69.9,208.2 70.4,207.9 70.8,207.6 71.2,207.3 71.6,207.0 72.1,206.6 72.5,206.3 72.9,206.0 73.4,205.7 73.8,205.5 74.2,205.4 74.6,205.4 75.1,205.4 75.5,205.5 75.9,205.7 76.3,206.0 76.8,206.3 77.2,206.6 77.6,206.8 78.1,207.1 78.5,207.3 78.9,207.5 79.3,207.6 79.8,207.6 80.2,207.5 80.6,207.4 81.1,207.1 81.5,206.9 81.9,206.5 82.3,206.2 82.8,205.8 83.2,205.5 83.6,205.2 84.0,204.9 84.5,204.7 84.9,204.6 85.3,204.6 85.8,204.6 86.2,204.8 86.6,205.0 87.0,205.2 87.5,205.5 87.9,205.8 88.3,206.1 88.8,206.3 89.2,206.5 89.6,206.7 90.0,206.8 90.5,206.8 90.9,206.7 91.3,206.6 91.8,206.4 92.2,206.1 92.6,205.8 93.0,205.4 93.5,205.1 93.9,204.7 94.3,204.4 94.7,204.2 95.2,204.0 95.6,203.9 96.0,203.8 96.5,203.9 96.9,204.0 97.3,204.2 97.7,204.4 98.2,204.7 98.6,205.0 99.0,205.3 99.5,205.6 99.9,205.8 100.3,206.0 100.7,206.1 101.2,206.1 101.6,206.0 102.0,205.9 102.4,205.6 102.9,205.4 103.3,205.0 103.7,204.7 104.2,204.3 104.6,204.0 105.0,203.7 105.4,203.4 105.9,203.2 106.3,203.1 106.7,203.1 107.2,203.2 107.6,203.3 108.0,203.5 108.4,203.7 108.9,204.0 109.3,204.3 109.7,204.6 110.1,204.9 110.6,205.1 111.0,205.3 111.4,205.3 111.9,205.4 112.3,205.3 112.7,205.1 113.1,204.9 113.6,204.6 114.0,204.3 114.4,204.0 114.9,203.6 115.3,203.3 115.7,203.0 116.1,202.7 116.6,202.5 117.0,202.4 117.4,202.4 117.8,202.5 118.3,202.6 118.7,202.8 119.1,203.0 119.6,203.3 120.0,203.6 120.4,203.9 120.8,204.2 121.3,204.4 121.7,204.6 122.1,204.7 122.6,204.7 123.0,204.6 123.4,204.5 123.8,204.2 124.3,204.0 124.7,203.6 125.1,203.3 125.6,202.9 126.0,202.6 126.4,202.3 126.8,202.1 127.3,201.9 127.7,201.8 128.1,201.7 128.5,201.8 129.0,201.9 129.4,202.1 129.8,202.4 130.3,202.7 130.7,203.0 131.1,203.3 131.5,203.5 132.0,203.7 132.4,203.9 132.8,204.0 133.3,204.0 133.7,204.0 134.1,203.8 134.5,203.6 135.0,203.3 135.4,203.0 135.8,202.7 136.2,202.3 136.7,202.0 137.1,201.7 137.5,201.4 138.0,201.2 138.4,201.1 138.8,201.1 139.2,201.2 139.7,201.3 140.1,201.5 140.5,201.7 141.0,202.0 141.4,202.3 141.8,202.6 142.2,202.9 142.7,203.1 143.1,203.3 143.5,203.4 143.9,203.4 144.4,203.3 144.8,203.2 145.2,203.0 145.7,202.7 146.1,202.4 146.5,202.0 146.9,201.7 147.4,201.3 147.8,201.0 148.2,200.8 148.7,200.6 149.1,200.5 149.5,200.5 149.9,200.5 150.4,200.7 150.8,200.9 151.2,201.1 151.6,201.4 152.1,201.7 152.5,202.0 152.9,202.3 153.4,202.5 153.8,202.7 154.2,202.8 154.6,202.8 155.1,202.7 155.5,202.6 155.9,202.4 156.4,202.1 156.8,201.8 157.2,201.4 157.6,201.1 158.1,200.7 158.5,200.5 158.9,200.2 159.4,200.0 159.8,199.9 160.2,199.9 160.6,200.0 161.1,200.1 161.5,200.3 161.9,200.5 162.3,200.8 162.8,201.1 163.2,201.4 163.6,201.7 164.1,201.9 164.5,202.1 164.9,202.2 165.3,202.2 165.8,202.1 166.2,202.0 166.6,201.8 167.1,201.5 167.5,201.2 167.9,200.9 168.3,200.5 168.8,200.2 169.2,199.9 169.6,199.6 170.0,199.5 170.5,199.4 170.9,199.3 171.3,199.4 171.8,199.5 172.2,199.7 172.6,200.0 173.0,200.3 173.5,200.6 173.9,200.9 174.3,201.1 174.8,201.4 175.2,201.5 175.6,201.6 176.0,201.7 176.5,201.6 176.9,201.5 177.3,201.2 177.7,201.0 178.2,200.6 178.6,200.3 179.0,200.0 179.5,199.6 179.9,199.3 180.3,199.1 180.7,198.9 181.2,198.8 181.6,198.8 182.0,198.8 182.5,199.0 182.9,199.2 183.3,199.4 183.7,199.7 184.2,200.0 184.6,200.3 185.0,200.6 185.4,200.8 185.9,201.0 186.3,201.1 186.7,201.1 187.2,201.1 187.6,200.9 188.0,200.7 188.4,200.4 188.9,200.1 189.3,199.8 189.7,199.4 190.2,199.1 190.6,198.8 191.0,198.6 191.4,198.4 191.9,198.3 192.3,198.3 192.7,198.3 193.2,198.5 193.6,198.7 194.0,198.9 194.4,199.2 194.9,199.5 195.3,199.8 195.7,200.1 196.1,200.3 196.6,200.5 197.0,200.6 197.4,200.6 197.9,200.5 198.3,200.4 198.7,200.2 199.1,199.9 199.6,199.6 200.0,199.3 200.4,198.9 200.9,198.6 201.3,198.3 201.7,198.1 202.1,197.9 202.6,197.8 203.0,197.8 203.4,197.8 203.8,198.0 204.3,198.2 204.7,198.4 205.1,198.7 205.6,199.0 206.0,199.3 206.4,199.6 206.8,199.8 207.3,200.0 207.7,200.1 208.1,200.1 208.6,200.1 209.0,199.9 209.4,199.7 209.8,199.4 210.3,199.1 210.7,198.8 211.1,198.4 211.5,198.1 212.0,197.8 212.4,197.6 212.8,197.4 213.3,197.3 213.7,197.3 214.1,197.3 214.5,197.5 215.0,197.7 215.4,197.9 215.8,198.2 216.3,198.5 216.7,198.8 217.1,199.1 217.5,199.3 218.0,199.5 218.4,199.6 218.8,199.6 219.2,199.6 219.7,199.4 220.1,199.2 220.5,199.0 221.0,198.6 221.4,198.3 221.8,198.0 222.2,197.6 222.7,197.3 223.1,197.1 223.5,196.9 224.0,196.8 224.4,196.8 224.8,196.9 225.2,197.0 225.7,197.2 226.1,197.5 226.5,197.8 227.0,198.1 227.4,198.4 227.8,198.7 228.2,198.9 228.7,199.1 229.1,199.2 229.5,199.2 229.9,199.1 230.4,199.0 230.8,198.8 231.2,198.5 231.7,198.2 232.1,197.9 232.5,197.5 232.9,197.2 233.4,196.9 233.8,196.7 234.2,196.5 234.7,196.4 235.1,196.4 235.5,196.4 235.9,196.6 236.4,196.8 236.8,197.0 237.2,197.3 237.6,197.6 238.1,197.9 238.5,198.2 238.9,198.4 239.4,198.6 239.8,198.7 240.2,198.7 240.6,198.7 241.1,198.6 241.5,198.3 241.9,198.1 242.4,197.8 242.8,197.4 243.2,197.1 243.6,196.8 244.1,196.5 244.5,196.2 244.9,196.1 245.3,196.0 245.8,195.9 246.2,196.0 246.6,196.1 247.1,196.3 247.5,196.6 247.9,196.9 248.3,197.2 248.8,197.5 249.2,197.8 249.6,198.0 250.1,198.2 250.5,198.3 250.9,198.3 251.3,198.3 251.8,198.1 252.2,197.9 252.6,197.7 253.0,197.3 253.5,197.0 253.9,196.7 254.3,196.3 254.8,196.1 255.2,195.8 255.6,195.6 256.0,195.5 256.5,195.5 256.9,195.6 257.3,195.7 257.8,195.9 258.2,196.2 258.6,196.5 259.0,196.8 259.5,197.1 259.9,197.4 260.3,197.6 260.8,197.8 261.2,197.9 261.6,197.9 262.0,197.9 262.5,197.7 262.9,197.5 263.3,197.3 263.7,196.9 264.2,196.6 264.6,196.3 265.0,195.9 265.5,195.7 265.9,195.4 266.3,195.2 266.7,195.1 267.2,195.1 267.6,195.2 268.0,195.3 268.5,195.5 268.9,195.8 269.3,196.1 269.7,196.4 270.2,196.7 270.6,197.0 271.0,197.2 271.4,197.4 271.9,197.5 272.3,197.5 272.7,197.5 273.2,197.3 273.6,197.1 274.0,196.9 274.4,196.6 274.9,196.2 275.3,195.9 275.7,195.6 276.2,195.3 276.6,195.0 277.0,194.9 277.4,194.8 277.9,194.8 278.3,194.8 278.7,195.0 279.1,195.2 279.6,195.4 280.0,195.7 280.4,196.0 280.9,196.3 281.3,196.6 281.7,196.9 282.1,197.0 282.6,197.1 283.0,197.2 283.4,197.1 283.9,197.0 284.3,196.8 284.7,196.5 285.1,196.2 285.6,195.9 286.0,195.5 286.4,195.2 286.8,194.9 287.3,194.7 287.7,194.5 288.1,194.4 288.6,194.4 289.0,194.5 289.4,194.6 289.8,194.8 290.3,195.1 290.7,195.4 291.1,195.7 291.6,196.0 292.0,196.3 292.4,196.5 292.8,196.7 293.3,196.8 293.7,196.8 294.1,196.8 294.6,196.6 295.0,196.4 295.4,196.2 295.8,195.8 296.3,195.5 296.7,195.2 297.1,194.8 297.5,194.6 298.0,194.3 298.4,194.1 298.8,194.1 299.3,194.0 299.7,194.1 300.1,194.3 300.5,194.5 301.0,194.7 301.4,195.0 301.8,195.3 302.3,195.6 302.7,195.9 303.1,196.2 303.5,196.3 304.0,196.4 304.4,196.5 304.8,196.4 305.2,196.3 305.7,196.1 306.1,195.8 306.5,195.5 307.0,195.2 307.4,194.8 307.8,194.5 308.2,194.2 308.7,194.0 309.1,193.8 309.5,193.7 310.0,193.7 310.4,193.8 310.8,193.9 311.2,194.1 311.7,194.4 312.1,194.7 312.5,195.0 312.9,195.3 313.4,195.6 313.8,195.8 314.2,196.0 314.7,196.1 315.1,196.1 315.5,196.1 315.9,196.0 316.4,195.7 316.8,195.5 317.2,195.2 317.7,194.8 318.1,194.5 318.5,194.2 318.9,193.9 319.4,193.7 319.8,193.5 320.2,193.4 320.7,193.4 321.1,193.5 321.5,193.6 321.9,193.8 322.4,194.1 322.8,194.4 323.2,194.7 323.6,195.0 324.1,195.3 324.5,195.5 324.9,195.7 325.4,195.8 325.8,195.8 326.2,195.8 326.6,195.6 327.1,195.4 327.5,195.2 327.9,194.9 328.4,194.5 328.8,194.2 329.2,193.9 329.6,193.6 330.1,193.3 330.5,193.2 330.9,193.1 331.3,193.1 331.8,193.1 332.2,193.3 332.6,193.5 333.1,193.8 333.5,194.1 333.9,194.4 334.3,194.7 334.8,195.0 335.2,195.2 335.6,195.4 336.1,195.5 336.5,195.5 336.9,195.5 337.3,195.3 337.8,195.1 338.2,194.9 338.6,194.6 339.0,194.2 339.5,193.9 339.9,193.6 340.3,193.3 340.8,193.0 341.2,192.9 341.6,192.8 342.0,192.8 342.5,192.8 342.9,193.0 343.3,193.2 343.8,193.5 344.2,193.8 344.6,194.1 345.0,194.4 345.5,194.7 345.9,194.9 346.3,195.1 346.7,195.2 347.2,195.2 347.6,195.2 348.0,195.0 348.5,194.8 348.9,194.6 349.3,194.3 349.7,193.9 350.2,193.6 350.6,193.3 351.0,193.0 351.5,192.8 351.9,192.6 352.3,192.5 352.7,192.5 353.2,192.6 353.6,192.7 354.0,192.9 354.5,193.2 354.9,193.5 355.3,193.8 355.7,194.1 356.2,194.4 356.6,194.6 357.0,194.8 357.4,194.9 357.9,195.0 358.3,194.9 358.7,194.8 359.2,194.6 359.6,194.3 360.0,194.0 360.4,193.7 360.9,193.3 361.3,193.0 361.7,192.7 362.2,192.5 362.6,192.3 363.0,192.2 363.4,192.2 363.9,192.3 364.3,192.4 364.7,192.6 365.1,192.9 365.6,193.2 366.0,193.5 366.4,193.8 366.9,194.1 367.3,194.4 367.7,194.5 368.1,194.7 368.6,194.7 369.0,194.6 369.4,194.5 369.9,194.3 370.3,194.0 370.7,193.7 371.1,193.4 371.6,193.1 372.0,192.7 372.4,192.5 372.8,192.2 373.3,192.1 373.7,192.0 374.1,192.0 374.6,192.0 375.0,192.2 375.4,192.4 375.8,192.6 376.3,192.9 376.7,193.3 377.1,193.6 377.6,193.9 378.0,194.1 378.4,194.3 378.8,194.4 379.3,194.4 379.7,194.4 380.1,194.2 380.5,194.0 381.0,193.8 381.4,193.5 381.8,193.1 382.3,192.8 382.7,192.5 383.1,192.2 383.5,192.0 384.0,191.8 384.4,191.7 384.8,191.7 385.3,191.8 385.7,191.9 386.1,192.1 386.5,192.4 387.0,192.7 387.4,193.0 387.8,193.3 388.3,193.6 388.7,193.9 389.1,194.0 389.5,194.1 390.0,194.2 390.4,194.1 390.8,194.0 391.2,193.8 391.7,193.5 392.1,193.2 392.5,192.9 393.0,192.6 393.4,192.2 393.8,192.0 394.2,191.7 394.7,191.6 395.1,191.5 395.5,191.5 396.0,191.5 396.4,191.7 396.8,191.9 397.2,192.2 397.7,192.5 398.1,192.8 398.5,193.1 398.9,193.4 399.4,193.6 399.8,193.8 400.2,193.9 400.7,193.9 401.1,193.9 401.5,193.8 401.9,193.6 402.4,193.3 402.8,193.0 403.2,192.7 403.7,192.3 404.1,192.0 404.5,191.7 404.9,191.5 405.4,191.3 405.8,191.2 406.2,191.2 406.6,191.3 407.1,191.4 407.5,191.7 407.9,191.9 408.4,192.2 408.8,192.5 409.2,192.9 409.6,193.1 410.1,193.4 410.5,193.6 410.9,193.7 411.4,193.7 411.8,193.7 412.2,193.5 412.6,193.3 413.1,193.1 413.5,192.8 413.9,192.4 414.3,192.1 414.8,191.8 415.2,191.5 415.6,191.3 416.1,191.1 416.5,191.0 416.9,191.0 417.3,191.1 417.8,191.2 418.2,191.4 418.6,191.7 419.1,192.0 419.5,192.3 419.9,192.6 420.3,192.9 420.8,193.2 421.2,193.3 421.6,193.5 422.1,193.5 422.5,193.4 422.9,193.3 423.3,193.1 423.8,192.9 424.2,192.5 424.6,192.2 425.0,191.9 425.5,191.6 425.9,191.3 426.3,191.1 426.8,190.9 427.2,190.8 427.6,190.8 428.0,190.9 428.5,191.0 428.9,191.2 429.3,191.5 429.8,191.8 430.2,192.1 430.6,192.4 431.0,192.7 431.5,193.0 431.9,193.1 432.3,193.2 432.7,193.3 433.2,193.2 433.6,193.1 434.0,192.9 434.5,192.6 434.9,192.3 435.3,192.0 435.7,191.7 436.2,191.4 436.6,191.1 437.0,190.8 437.5,190.7 437.9,190.6 438.3,190.6 438.7,190.7 439.2,190.8 439.6,191.0 440.0,191.3 440.4,191.6 440.9,191.9 441.3,192.2 441.7,192.5 442.2,192.7 442.6,192.9 443.0,193.0 443.4,193.1 443.9,193.0 444.3,192.9 444.7,192.7 445.2,192.4 445.6,192.1 446.0,191.8 446.4,191.5 446.9,191.2 447.3,190.9 447.7,190.6 448.1,190.5 448.6,190.4 449.0,190.4 449.4,190.5 449.9,190.6 450.3,190.8 450.7,191.1 451.1,191.4 451.6,191.7 452.0,192.0" stroke="#1a1a92" stroke-width="1.25" fill="none" stroke-linejoin="round"/>
<path d="M24.1,217.3 24.6,217.3 25.0,217.2 25.4,217.2 25.9,217.2 26.3,217.1 26.7,217.1 27.1,217.0 27.6,216.9 28.0,216.8 28.4,216.7 28.9,216.6 29.3,216.5 29.7,216.4 30.1,216.3 30.6,216.2 31.0,216.2 31.4,216.1 31.9,216.1 32.3,216.1 32.7,216.1 33.1,216.1 33.6,216.1 34.0,216.1 34.4,216.1 34.8,216.1 35.3,216.1 35.7,216.1 36.1,216.1 36.6,216.0 37.0,216.0 37.4,215.9 37.8,215.9 38.3,215.8 38.7,215.7 39.1,215.6 39.6,215.5 40.0,215.4 40.4,215.3 40.8,215.2 41.3,215.1 41.7,215.1 42.1,215.0 42.5,215.0 43.0,215.0 43.4,214.9 43.8,214.9 44.3,215.0 44.7,215.0 45.1,215.0 45.5,215.0 46.0,215.0 46.4,215.0 46.8,215.0 47.3,214.9 47.7,214.9 48.1,214.8 48.5,214.8 49.0,214.7 49.4,214.6 49.8,214.5 50.2,214.4 50.7,214.3 51.1,214.2 51.5,214.1 52.0,214.0 52.4,214.0 52.8,213.9 53.2,213.9 53.7,213.9 54.1,213.9 54.5,213.9 55.0,213.9 55.4,213.9 55.8,213.9 56.2,213.9 56.7,213.9 57.1,213.9 57.5,213.9 58.0,213.9 58.4,213.8 58.8,213.8 59.2,213.7 59.7,213.6 60.1,213.5 60.5,213.4 60.9,213.3 61.4,213.2 61.8,213.1 62.2,213.0 62.7,213.0 63.1,212.9 63.5,212.9 63.9,212.8 64.4,212.8 64.8,212.8 65.2,212.8 65.7,212.8 66.1,212.9 66.5,212.9 66.9,212.9 67.4,212.9 67.8,212.9 68.2,212.9 68.6,212.8 69.1,212.8 69.5,212.7 69.9,212.7 70.4,212.6 70.8,212.5 71.2,212.4 71.6,212.3 72.1,212.2 72.5,212.1 72.9,212.0 73.4,212.0 73.8,211.9 74.2,211.9 74.6,211.8 75.1,211.8 75.5,211.8 75.9,211.8 76.3,211.8 76.8,211.9 77.2,211.9 77.6,211.9 78.1,211.9 78.5,211.9 78.9,211.9 79.3,211.8 79.8,211.8 80.2,211.7 80.6,211.7 81.1,211.6 81.5,211.5 81.9,211.4 82.3,211.3 82.8,211.2 83.2,211.1 83.6,211.1 84.0,211.0 84.5,210.9 84.9,210.9 85.3,210.9 85.8,210.8 86.2,210.8 86.6,210.9 87.0,210.9 87.5,210.9 87.9,210.9 88.3,210.9 88.8,210.9 89.2,210.9 89.6,210.9 90.0,210.9 90.5,210.8 90.9,210.8 91.3,210.7 91.8,210.6 92.2,210.6 92.6,210.5 93.0,210.4 93.5,210.3 93.9,210.2 94.3,210.1 94.7,210.0 95.2,210.0 95.6,209.9 96.0,209.9 96.5,209.9 96.9,209.9 97.3,209.9 97.7,209.9 98.2,210.0 98.6,210.0 99.0,210.0 99.5,210.0 99.9,210.0 100.3,210.0 100.7,210.0 101.2,209.9 101.6,209.9 102.0,209.8 102.4,209.7 102.9,209.6 103.3,209.5 103.7,209.5 104.2,209.4 104.6,209.3 105.0,209.2 105.4,209.1 105.9,209.1 106.3,209.0 106.7,209.0 107.2,209.0 107.6,209.0 108.0,209.0 108.4,209.0 108.9,209.1 109.3,209.1 109.7,209.1 110.1,209.1 110.6,209.1 111.0,209.1 111.4,209.1 111.9,209.0 112.3,209.0 112.7,208.9 113.1,208.8 113.6,208.8 114.0,208.7 114.4,208.6 114.9,208.5 115.3,208.4 115.7,208.3 116.1,208.3 116.6,208.2 117.0,208.2 117.4,208.1 117.8,208.1 118.3,208.1 118.7,208.1 119.1,208.2 119.6,208.2 120.0,208.2 120.4,208.2 120.8,208.2 121.3,208.2 121.7,208.2 122.1,208.2 122.6,208.2 123.0,208.1 123.4,208.1 123.8,208.0 124.3,207.9 124.7,207.8 125.1,207.7 125.6,207.6 126.0,207.6 126.4,207.5 126.8,207.4 127.3,207.4 127.7,207.3 128.1,207.3 128.5,207.3 129.0,207.3 129.4,207.3 129.8,207.3 130.3,207.4 130.7,207.4 131.1,207.4 131.5,207.4 132.0,207.4 132.4,207.4 132.8,207.4 133.3,207.4 133.7,207.3 134.1,207.2 134.5,207.2 135.0,207.1 135.4,207.0 135.8,206.9 136.2,206.8 136.7,206.7 137.1,206.7 137.5,206.6 138.0,206.5 138.4,206.5 138.8,206.5 139.2,206.5 139.7,206.5 140.1,206.5 140.5,206.5 141.0,206.6 141.4,206.6 141.8,206.6 142.2,206.6 142.7,206.6 143.1,206.6 143.5,206.6 143.9,206.6 144.4,206.5 144.8,206.4 145.2,206.4 145.7,206.3 146.1,206.2 146.5,206.1 146.9,206.0 147.4,205.9 147.8,205.9 148.2,205.8 148.7,205.8 149.1,205.7 149.5,205.7 149.9,205.7 150.4,205.7 150.8,205.7 151.2,205.7 151.6,205.8 152.1,205.8 152.5,205.8 152.9,205.8 153.4,205.8 153.8,205.8 154.2,205.8 154.6,205.8 155.1,205.7 155.5,205.7 155.9,205.6 156.4,205.5 156.8,205.4 157.2,205.4 157.6,205.3 158.1,205.2 158.5,205.1 158.9,205.1 159.4,205.0 159.8,205.0 160.2,205.0 160.6,205.0 161.1,205.0 161.5,205.0 161.9,205.0 162.3,205.0 162.8,205.1 163.2,205.1 163.6,205.1 164.1,205.1 164.5,205.1 164.9,205.1 165.3,205.0 165.8,205.0 166.2,204.9 166.6,204.9 167.1,204.8 167.5,204.7 167.9,204.6 168.3,204.5 168.8,204.5 169.2,204.4 169.6,204.3 170.0,204.3 170.5,204.2 170.9,204.2 171.3,204.2 171.8,204.2 172.2,204.3 172.6,204.3 173.0,204.3 173.5,204.3 173.9,204.4 174.3,204.4 174.8,204.4 175.2,204.4 175.6,204.4 176.0,204.3 176.5,204.3 176.9,204.2 177.3,204.2 177.7,204.1 178.2,204.0 178.6,203.9 179.0,203.8 179.5,203.8 179.9,203.7 180.3,203.6 180.7,203.6 181.2,203.5 181.6,203.5 182.0,203.5 182.5,203.5 182.9,203.6 183.3,203.6 183.7,203.6 184.2,203.6 184.6,203.7 185.0,203.7 185.4,203.7 185.9,203.7 186.3,203.7 186.7,203.6 187.2,203.6 187.6,203.5 188.0,203.5 188.4,203.4 188.9,203.3 189.3,203.2 189.7,203.1 190.2,203.1 190.6,203.0 191.0,202.9 191.4,202.9 191.9,202.9 192.3,202.9 192.7,202.9 193.2,202.9 193.6,202.9 194.0,202.9 194.4,202.9 194.9,203.0 195.3,203.0 195.7,203.0 196.1,203.0 196.6,203.0 197.0,203.0 197.4,203.0 197.9,202.9 198.3,202.9 198.7,202.8 199.1,202.7 199.6,202.7 200.0,202.6 200.4,202.5 200.9,202.4 201.3,202.3 201.7,202.3 202.1,202.2 202.6,202.2 203.0,202.2 203.4,202.2 203.8,202.2 204.3,202.2 204.7,202.3 205.1,202.3 205.6,202.3 206.0,202.4 206.4,202.4 206.8,202.4 207.3,202.4 207.7,202.4 208.1,202.3 208.6,202.3 209.0,202.2 209.4,202.2 209.8,202.1 210.3,202.0 210.7,201.9 211.1,201.9 211.5,201.8 212.0,201.7 212.4,201.7 212.8,201.6 213.3,201.6 213.7,201.6 214.1,201.6 214.5,201.6 215.0,201.6 215.4,201.6 215.8,201.7 216.3,201.7 216.7,201.7 217.1,201.8 217.5,201.8 218.0,201.8 218.4,201.8 218.8,201.7 219.2,201.7 219.7,201.6 220.1,201.6 220.5,201.5 221.0,201.4 221.4,201.3 221.8,201.2 222.2,201.2 222.7,201.1 223.1,201.1 223.5,201.0 224.0,201.0 224.4,201.0 224.8,201.0 225.2,201.0 225.7,201.0 226.1,201.0 226.5,201.1 227.0,201.1 227.4,201.1 227.8,201.2 228.2,201.2 228.7,201.2 229.1,201.2 229.5,201.1 229.9,201.1 230.4,201.0 230.8,201.0 231.2,200.9 231.7,200.8 232.1,200.7 232.5,200.7 232.9,200.6 233.4,200.5 233.8,200.5 234.2,200.4 234.7,200.4 235.1,200.4 235.5,200.4 235.9,200.4 236.4,200.4 236.8,200.5 237.2,200.5 237.6,200.5 238.1,200.6 238.5,200.6 238.9,200.6 239.4,200.6 239.8,200.6 240.2,200.6 240.6,200.5 241.1,200.5 241.5,200.4 241.9,200.3 242.4,200.2 242.8,200.2 243.2,200.1 243.6,200.0 244.1,200.0 244.5,199.9 244.9,199.9 245.3,199.8 245.8,199.8 246.2,199.8 246.6,199.8 247.1,199.9 247.5,199.9 247.9,199.9 248.3,200.0 248.8,200.0 249.2,200.0 249.6,200.0 250.1,200.0 250.5,200.0 250.9,200.0 251.3,200.0 251.8,199.9 252.2,199.8 252.6,199.8 253.0,199.7 253.5,199.6 253.9,199.5 254.3,199.5 254.8,199.4 255.2,199.4 255.6,199.3 256.0,199.3 256.5,199.3 256.9,199.3 257.3,199.3 257.8,199.3 258.2,199.4 258.6,199.4 259.0,199.4 259.5,199.5 259.9,199.5 260.3,199.5 260.8,199.5 261.2,199.5 261.6,199.5 262.0,199.4 262.5,199.4 262.9,199.3 263.3,199.2 263.7,199.2 264.2,199.1 264.6,199.0 265.0,198.9 265.5,198.9 265.9,198.8 266.3,198.8 266.7,198.8 267.2,198.8 267.6,198.8 268.0,198.8 268.5,198.8 268.9,198.8 269.3,198.9 269.7,198.9 270.2,198.9 270.6,199.0 271.0,199.0 271.4,199.0 271.9,199.0 272.3,199.0 272.7,198.9 273.2,198.9 273.6,198.8 274.0,198.7 274.4,198.7 274.9,198.6 275.3,198.5 275.7,198.4 276.2,198.4 276.6,198.3 277.0,198.3 277.4,198.3 277.9,198.2 278.3,198.3 278.7,198.3 279.1,198.3 279.6,198.3 280.0,198.4 280.4,198.4 280.9,198.4 281.3,198.5 281.7,198.5 282.1,198.5 282.6,198.5 283.0,198.5 283.4,198.4 283.9,198.4 284.3,198.3 284.7,198.2 285.1,198.2 285.6,198.1 286.0,198.0 286.4,197.9 286.8,197.9 287.3,197.8 287.7,197.8 288.1,197.8 288.6,197.8 289.0,197.8 289.4,197.8 289.8,197.8 290.3,197.8 290.7,197.9 291.1,197.9 291.6,198.0 292.0,198.0 292.4,198.0 292.8,198.0 293.3,198.0 293.7,198.0 294.1,197.9 294.6,197.9 295.0,197.8 295.4,197.8 295.8,197.7 296.3,197.6 296.7,197.5 297.1,197.5 297.5,197.4 298.0,197.4 298.4,197.3 298.8,197.3 299.3,197.3 299.7,197.3 300.1,197.3 300.5,197.3 301.0,197.4 301.4,197.4 301.8,197.5 302.3,197.5 302.7,197.5 303.1,197.5 303.5,197.5 304.0,197.5 304.4,197.5 304.8,197.5 305.2,197.4 305.7,197.4 306.1,197.3 306.5,197.2 307.0,197.2 307.4,197.1 307.8,197.0 308.2,197.0 308.7,196.9 309.1,196.9 309.5,196.8 310.0,196.8 310.4,196.8 310.8,196.9 311.2,196.9 311.7,196.9 312.1,197.0 312.5,197.0 312.9,197.0 313.4,197.1 313.8,197.1 314.2,197.1 314.7,197.1 315.1,197.1 315.5,197.0 315.9,197.0 316.4,196.9 316.8,196.9 317.2,196.8 317.7,196.7 318.1,196.6 318.5,196.6 318.9,196.5 319.4,196.5 319.8,196.4 320.2,196.4 320.7,196.4 321.1,196.4 321.5,196.4 321.9,196.5 322.4,196.5 322.8,196.5 323.2,196.6 323.6,196.6 324.1,196.6 324.5,196.7 324.9,196.7 325.4,196.7 325.8,196.6 326.2,196.6 326.6,196.6 327.1,196.5 327.5,196.4 327.9,196.4 328.4,196.3 328.8,196.2 329.2,196.1 329.6,196.1 330.1,196.0 330.5,196.0 330.9,196.0 331.3,196.0 331.8,196.0 332.2,196.0 332.6,196.0 333.1,196.1 333.5,196.1 333.9,196.2 334.3,196.2 334.8,196.2 335.2,196.2 335.6,196.3 336.1,196.3 336.5,196.2 336.9,196.2 337.3,196.1 337.8,196.1 338.2,196.0 338.6,196.0 339.0,195.9 339.5,195.8 339.9,195.7 340.3,195.7 340.8,195.6 341.2,195.6 341.6,195.6 342.0,195.6 342.5,195.6 342.9,195.6 343.3,195.6 343.8,195.7 344.2,195.7 344.6,195.8 345.0,195.8 345.5,195.8 345.9,195.8 346.3,195.9 346.7,195.9 347.2,195.8 347.6,195.8 348.0,195.8 348.5,195.7 348.9,195.6 349.3,195.6 349.7,195.5 350.2,195.4 350.6,195.3 351.0,195.3 351.5,195.2 351.9,195.2 352.3,195.2 352.7,195.2 353.2,195.2 353.6,195.2 354.0,195.2 354.5,195.3 354.9,195.3 355.3,195.4 355.7,195.4 356.2,195.4 356.6,195.5 357.0,195.5 357.4,195.5 357.9,195.4 358.3,195.4 358.7,195.4 359.2,195.3 359.6,195.2 360.0,195.2 360.4,195.1 360.9,195.0 361.3,195.0 361.7,194.9 362.2,194.9 362.6,194.8 363.0,194.8 363.4,194.8 363.9,194.8 364.3,194.8 364.7,194.9 365.1,194.9 365.6,195.0 366.0,195.0 366.4,195.0 366.9,195.1 367.3,195.1 367.7,195.1 368.1,195.1 368.6,195.1 369.0,195.0 369.4,195.0 369.9,194.9 370.3,194.9 370.7,194.8 371.1,194.7 371.6,194.7 372.0,194.6 372.4,194.5 372.8,194.5 373.3,194.5 373.7,194.4 374.1,194.4 374.6,194.5 375.0,194.5 375.4,194.5 375.8,194.5 376.3,194.6 376.7,194.6 377.1,194.7 377.6,194.7 378.0,194.7 378.4,194.7 378.8,194.7 379.3,194.7 379.7,194.7 380.1,194.6 380.5,194.6 381.0,194.5 381.4,194.5 381.8,194.4 382.3,194.3 382.7,194.2 383.1,194.2 383.5,194.1 384.0,194.1 384.4,194.1 384.8,194.1 385.3,194.1 385.7,194.1 386.1,194.2 386.5,194.2 387.0,194.2 387.4,194.3 387.8,194.3 388.3,194.4 388.7,194.4 389.1,194.4 389.5,194.4 390.0,194.4 390.4,194.3 390.8,194.3 391.2,194.2 391.7,194.2 392.1,194.1 392.5,194.0 393.0,194.0 393.4,193.9 393.8,193.8 394.2,193.8 394.7,193.8 395.1,193.8 395.5,193.8 396.0,193.8 396.4,193.8 396.8,193.8 397.2,193.9 397.7,193.9 398.1,194.0 398.5,194.0 398.9,194.0 399.4,194.0 399.8,194.1 400.2,194.1 400.7,194.0 401.1,194.0 401.5,194.0 401.9,193.9 402.4,193.8 402.8,193.8 403.2,193.7 403.7,193.6 404.1,193.6 404.5,193.5 404.9,193.5 405.4,193.4 405.8,193.4 406.2,193.4 406.6,193.4 407.1,193.5 407.5,193.5 407.9,193.5 408.4,193.6 408.8,193.6 409.2,193.7 409.6,193.7 410.1,193.7 410.5,193.7 410.9,193.7 411.4,193.7 411.8,193.7 412.2,193.6 412.6,193.6 413.1,193.5 413.5,193.5 413.9,193.4 414.3,193.3 414.8,193.3 415.2,193.2 415.6,193.2 416.1,193.1 416.5,193.1 416.9,193.1 417.3,193.1 417.8,193.1 418.2,193.2 418.6,193.2 419.1,193.3 419.5,193.3 419.9,193.4 420.3,193.4 420.8,193.4 421.2,193.4 421.6,193.4 422.1,193.4 422.5,193.4 422.9,193.3 423.3,193.3 423.8,193.2 424.2,193.2 424.6,193.1 425.0,193.0 425.5,193.0 425.9,192.9 426.3,192.9 426.8,192.8 427.2,192.8 427.6,192.8 428.0,192.8 428.5,192.8 428.9,192.9 429.3,192.9 429.8,193.0 430.2,193.0 430.6,193.1 431.0,193.1 431.5,193.1 431.9,193.1 432.3,193.1 432.7,193.1 433.2,193.1 433.6,193.0 434.0,193.0 434.5,192.9 434.9,192.9 435.3,192.8 435.7,192.7 436.2,192.7 436.6,192.6 437.0,192.6 437.5,192.5 437.9,192.5 438.3,192.5 438.7,192.5 439.2,192.6 439.6,192.6 440.0,192.6 440.4,192.7 440.9,192.7 441.3,192.8 441.7,192.8 442.2,192.8 442.6,192.8 443.0,192.8 443.4,192.8 443.9,192.8 444.3,192.8 444.7,192.7 445.2,192.6 445.6,192.6 446.0,192.5 446.4,192.4 446.9,192.4 447.3,192.3 447.7,192.3 448.1,192.2 448.6,192.2 449.0,192.2 449.4,192.2 449.9,192.3 450.3,192.3 450.7,192.4 451.1,192.4 451.6,192.4 452.0,192.5" stroke="#b03a2a" stroke-width="1.2" fill="none" stroke-linejoin="round"/>
<path d="M24.1,215.9 24.6,215.9 25.0,216.0 25.4,216.0 25.9,216.0 26.3,215.9 26.7,215.9 27.1,215.8 27.6,215.7 28.0,215.6 28.4,215.4 28.9,215.3 29.3,215.2 29.7,215.0 30.1,214.9 30.6,214.8 31.0,214.7 31.4,214.6 31.9,214.6 32.3,214.6 32.7,214.6 33.1,214.6 33.6,214.6 34.0,214.7 34.4,214.7 34.8,214.8 35.3,214.8 35.7,214.9 36.1,214.9 36.6,214.9 37.0,214.8 37.4,214.8 37.8,214.7 38.3,214.6 38.7,214.5 39.1,214.3 39.6,214.2 40.0,214.1 40.4,213.9 40.8,213.8 41.3,213.7 41.7,213.6 42.1,213.5 42.5,213.5 43.0,213.5 43.4,213.5 43.8,213.5 44.3,213.6 44.7,213.6 45.1,213.7 45.5,213.7 46.0,213.8 46.4,213.8 46.8,213.8 47.3,213.8 47.7,213.8 48.1,213.7 48.5,213.6 49.0,213.5 49.4,213.4 49.8,213.3 50.2,213.2 50.7,213.0 51.1,212.9 51.5,212.8 52.0,212.7 52.4,212.6 52.8,212.5 53.2,212.5 53.7,212.4 54.1,212.5 54.5,212.5 55.0,212.5 55.4,212.6 55.8,212.6 56.2,212.7 56.7,212.7 57.1,212.8 57.5,212.8 58.0,212.8 58.4,212.7 58.8,212.7 59.2,212.6 59.7,212.5 60.1,212.4 60.5,212.3 60.9,212.1 61.4,212.0 61.8,211.9 62.2,211.7 62.7,211.6 63.1,211.6 63.5,211.5 63.9,211.5 64.4,211.4 64.8,211.4 65.2,211.5 65.7,211.5 66.1,211.6 66.5,211.6 66.9,211.7 67.4,211.7 67.8,211.8 68.2,211.8 68.6,211.8 69.1,211.7 69.5,211.7 69.9,211.6 70.4,211.5 70.8,211.4 71.2,211.3 71.6,211.2 72.1,211.0 72.5,210.9 72.9,210.8 73.4,210.7 73.8,210.6 74.2,210.5 74.6,210.5 75.1,210.5 75.5,210.5 75.9,210.5 76.3,210.5 76.8,210.6 77.2,210.7 77.6,210.7 78.1,210.8 78.5,210.8 78.9,210.8 79.3,210.8 79.8,210.8 80.2,210.7 80.6,210.7 81.1,210.6 81.5,210.5 81.9,210.3 82.3,210.2 82.8,210.1 83.2,209.9 83.6,209.8 84.0,209.7 84.5,209.6 84.9,209.6 85.3,209.5 85.8,209.5 86.2,209.5 86.6,209.6 87.0,209.6 87.5,209.7 87.9,209.7 88.3,209.8 88.8,209.8 89.2,209.9 89.6,209.9 90.0,209.9 90.5,209.9 90.9,209.8 91.3,209.8 91.8,209.7 92.2,209.5 92.6,209.4 93.0,209.3 93.5,209.2 93.9,209.0 94.3,208.9 94.7,208.8 95.2,208.7 95.6,208.7 96.0,208.6 96.5,208.6 96.9,208.6 97.3,208.7 97.7,208.7 98.2,208.8 98.6,208.8 99.0,208.9 99.5,208.9 99.9,209.0 100.3,209.0 100.7,209.0 101.2,209.0 101.6,208.9 102.0,208.9 102.4,208.8 102.9,208.7 103.3,208.5 103.7,208.4 104.2,208.3 104.6,208.2 105.0,208.0 105.4,207.9 105.9,207.9 106.3,207.8 106.7,207.8 107.2,207.8 107.6,207.8 108.0,207.8 108.4,207.8 108.9,207.9 109.3,208.0 109.7,208.0 110.1,208.1 110.6,208.1 111.0,208.1 111.4,208.1 111.9,208.1 112.3,208.1 112.7,208.0 113.1,207.9 113.6,207.8 114.0,207.7 114.4,207.6 114.9,207.4 115.3,207.3 115.7,207.2 116.1,207.1 116.6,207.0 117.0,207.0 117.4,206.9 117.8,206.9 118.3,206.9 118.7,207.0 119.1,207.0 119.6,207.1 120.0,207.1 120.4,207.2 120.8,207.3 121.3,207.3 121.7,207.3 122.1,207.3 122.6,207.3 123.0,207.3 123.4,207.2 123.8,207.1 124.3,207.0 124.7,206.9 125.1,206.7 125.6,206.6 126.0,206.5 126.4,206.4 126.8,206.3 127.3,206.2 127.7,206.1 128.1,206.1 128.5,206.1 129.0,206.1 129.4,206.2 129.8,206.2 130.3,206.3 130.7,206.3 131.1,206.4 131.5,206.4 132.0,206.5 132.4,206.5 132.8,206.5 133.3,206.5 133.7,206.5 134.1,206.4 134.5,206.3 135.0,206.2 135.4,206.1 135.8,206.0 136.2,205.8 136.7,205.7 137.1,205.6 137.5,205.5 138.0,205.4 138.4,205.4 138.8,205.3 139.2,205.3 139.7,205.3 140.1,205.4 140.5,205.4 141.0,205.5 141.4,205.6 141.8,205.6 142.2,205.7 142.7,205.7 143.1,205.7 143.5,205.7 143.9,205.7 144.4,205.7 144.8,205.6 145.2,205.5 145.7,205.4 146.1,205.3 146.5,205.2 146.9,205.1 147.4,204.9 147.8,204.8 148.2,204.7 148.7,204.7 149.1,204.6 149.5,204.6 149.9,204.6 150.4,204.6 150.8,204.6 151.2,204.7 151.6,204.7 152.1,204.8 152.5,204.9 152.9,204.9 153.4,205.0 153.8,205.0 154.2,205.0 154.6,205.0 155.1,204.9 155.5,204.9 155.9,204.8 156.4,204.7 156.8,204.6 157.2,204.5 157.6,204.3 158.1,204.2 158.5,204.1 158.9,204.0 159.4,203.9 159.8,203.9 160.2,203.8 160.6,203.8 161.1,203.9 161.5,203.9 161.9,204.0 162.3,204.0 162.8,204.1 163.2,204.1 163.6,204.2 164.1,204.3 164.5,204.3 164.9,204.3 165.3,204.3 165.8,204.2 166.2,204.2 166.6,204.1 167.1,204.0 167.5,203.9 167.9,203.7 168.3,203.6 168.8,203.5 169.2,203.4 169.6,203.3 170.0,203.2 170.5,203.2 170.9,203.1 171.3,203.1 171.8,203.2 172.2,203.2 172.6,203.3 173.0,203.3 173.5,203.4 173.9,203.5 174.3,203.5 174.8,203.6 175.2,203.6 175.6,203.6 176.0,203.6 176.5,203.5 176.9,203.5 177.3,203.4 177.7,203.3 178.2,203.2 178.6,203.1 179.0,202.9 179.5,202.8 179.9,202.7 180.3,202.6 180.7,202.5 181.2,202.5 181.6,202.5 182.0,202.5 182.5,202.5 182.9,202.5 183.3,202.6 183.7,202.6 184.2,202.7 184.6,202.8 185.0,202.8 185.4,202.9 185.9,202.9 186.3,202.9 186.7,202.9 187.2,202.9 187.6,202.8 188.0,202.7 188.4,202.6 188.9,202.5 189.3,202.4 189.7,202.3 190.2,202.2 190.6,202.1 191.0,202.0 191.4,201.9 191.9,201.8 192.3,201.8 192.7,201.8 193.2,201.8 193.6,201.9 194.0,201.9 194.4,202.0 194.9,202.1 195.3,202.1 195.7,202.2 196.1,202.2 196.6,202.3 197.0,202.3 197.4,202.3 197.9,202.2 198.3,202.2 198.7,202.1 199.1,202.0 199.6,201.9 200.0,201.8 200.4,201.6 200.9,201.5 201.3,201.4 201.7,201.3 202.1,201.3 202.6,201.2 203.0,201.2 203.4,201.2 203.8,201.2 204.3,201.2 204.7,201.3 205.1,201.4 205.6,201.4 206.0,201.5 206.4,201.6 206.8,201.6 207.3,201.7 207.7,201.7 208.1,201.7 208.6,201.6 209.0,201.6 209.4,201.5 209.8,201.4 210.3,201.3 210.7,201.1 211.1,201.0 211.5,200.9 212.0,200.8 212.4,200.7 212.8,200.6 213.3,200.6 213.7,200.6 214.1,200.6 214.5,200.6 215.0,200.6 215.4,200.7 215.8,200.8 216.3,200.8 216.7,200.9 217.1,201.0 217.5,201.0 218.0,201.1 218.4,201.1 218.8,201.1 219.2,201.0 219.7,201.0 220.1,200.9 220.5,200.8 221.0,200.7 221.4,200.6 221.8,200.4 222.2,200.3 222.7,200.2 223.1,200.1 223.5,200.1 224.0,200.0 224.4,200.0 224.8,200.0 225.2,200.0 225.7,200.1 226.1,200.1 226.5,200.2 227.0,200.3 227.4,200.3 227.8,200.4 228.2,200.4 228.7,200.5 229.1,200.5 229.5,200.5 229.9,200.4 230.4,200.4 230.8,200.3 231.2,200.2 231.7,200.1 232.1,200.0 232.5,199.9 232.9,199.7 233.4,199.6 233.8,199.6 234.2,199.5 234.7,199.4 235.1,199.4 235.5,199.4 235.9,199.4 236.4,199.5 236.8,199.5 237.2,199.6 237.6,199.7 238.1,199.8 238.5,199.8 238.9,199.9 239.4,199.9 239.8,199.9 240.2,199.9 240.6,199.9 241.1,199.8 241.5,199.7 241.9,199.7 242.4,199.5 242.8,199.4 243.2,199.3 243.6,199.2 244.1,199.1 244.5,199.0 244.9,198.9 245.3,198.9 245.8,198.9 246.2,198.9 246.6,198.9 247.1,198.9 247.5,199.0 247.9,199.1 248.3,199.2 248.8,199.2 249.2,199.3 249.6,199.3 250.1,199.4 250.5,199.4 250.9,199.4 251.3,199.3 251.8,199.3 252.2,199.2 252.6,199.1 253.0,199.0 253.5,198.9 253.9,198.8 254.3,198.7 254.8,198.6 255.2,198.5 255.6,198.4 256.0,198.4 256.5,198.3 256.9,198.4 257.3,198.4 257.8,198.4 258.2,198.5 258.6,198.6 259.0,198.6 259.5,198.7 259.9,198.8 260.3,198.8 260.8,198.9 261.2,198.9 261.6,198.9 262.0,198.8 262.5,198.8 262.9,198.7 263.3,198.6 263.7,198.5 264.2,198.4 264.6,198.3 265.0,198.2 265.5,198.1 265.9,198.0 266.3,197.9 266.7,197.9 267.2,197.8 267.6,197.8 268.0,197.9 268.5,197.9 268.9,198.0 269.3,198.0 269.7,198.1 270.2,198.2 270.6,198.3 271.0,198.3 271.4,198.4 271.9,198.4 272.3,198.4 272.7,198.3 273.2,198.3 273.6,198.2 274.0,198.1 274.4,198.0 274.9,197.9 275.3,197.8 275.7,197.7 276.2,197.6 276.6,197.5 277.0,197.4 277.4,197.4 277.9,197.3 278.3,197.4 278.7,197.4 279.1,197.4 279.6,197.5 280.0,197.6 280.4,197.6 280.9,197.7 281.3,197.8 281.7,197.8 282.1,197.9 282.6,197.9 283.0,197.9 283.4,197.9 283.9,197.8 284.3,197.7 284.7,197.6 285.1,197.5 285.6,197.4 286.0,197.3 286.4,197.2 286.8,197.1 287.3,197.0 287.7,196.9 288.1,196.9 288.6,196.9 289.0,196.9 289.4,196.9 289.8,197.0 290.3,197.0 290.7,197.1 291.1,197.2 291.6,197.2 292.0,197.3 292.4,197.4 292.8,197.4 293.3,197.4 293.7,197.4 294.1,197.4 294.6,197.3 295.0,197.3 295.4,197.2 295.8,197.1 296.3,196.9 296.7,196.8 297.1,196.7 297.5,196.6 298.0,196.5 298.4,196.5 298.8,196.4 299.3,196.4 299.7,196.4 300.1,196.5 300.5,196.5 301.0,196.6 301.4,196.6 301.8,196.7 302.3,196.8 302.7,196.9 303.1,196.9 303.5,197.0 304.0,197.0 304.4,197.0 304.8,196.9 305.2,196.9 305.7,196.8 306.1,196.7 306.5,196.6 307.0,196.5 307.4,196.4 307.8,196.3 308.2,196.2 308.7,196.1 309.1,196.0 309.5,196.0 310.0,196.0 310.4,196.0 310.8,196.0 311.2,196.1 311.7,196.1 312.1,196.2 312.5,196.3 312.9,196.4 313.4,196.4 313.8,196.5 314.2,196.5 314.7,196.5 315.1,196.5 315.5,196.5 315.9,196.5 316.4,196.4 316.8,196.3 317.2,196.2 317.7,196.1 318.1,196.0 318.5,195.9 318.9,195.8 319.4,195.7 319.8,195.6 320.2,195.6 320.7,195.6 321.1,195.6 321.5,195.6 321.9,195.6 322.4,195.7 322.8,195.8 323.2,195.9 323.6,195.9 324.1,196.0 324.5,196.1 324.9,196.1 325.4,196.1 325.8,196.1 326.2,196.1 326.6,196.0 327.1,196.0 327.5,195.9 327.9,195.8 328.4,195.7 328.8,195.5 329.2,195.4 329.6,195.3 330.1,195.3 330.5,195.2 330.9,195.2 331.3,195.1 331.8,195.2 332.2,195.2 332.6,195.2 333.1,195.3 333.5,195.4 333.9,195.5 334.3,195.5 334.8,195.6 335.2,195.7 335.6,195.7 336.1,195.7 336.5,195.7 336.9,195.7 337.3,195.6 337.8,195.6 338.2,195.5 338.6,195.4 339.0,195.3 339.5,195.2 339.9,195.0 340.3,194.9 340.8,194.9 341.2,194.8 341.6,194.8 342.0,194.7 342.5,194.8 342.9,194.8 343.3,194.8 343.8,194.9 344.2,195.0 344.6,195.1 345.0,195.1 345.5,195.2 345.9,195.3 346.3,195.3 346.7,195.3 347.2,195.3 347.6,195.3 348.0,195.2 348.5,195.2 348.9,195.1 349.3,195.0 349.7,194.9 350.2,194.8 350.6,194.7 351.0,194.6 351.5,194.5 351.9,194.4 352.3,194.4 352.7,194.4 353.2,194.4 353.6,194.4 354.0,194.5 354.5,194.5 354.9,194.6 355.3,194.7 355.7,194.8 356.2,194.8 356.6,194.9 357.0,194.9 357.4,195.0 357.9,195.0 358.3,194.9 358.7,194.9 359.2,194.8 359.6,194.7 360.0,194.6 360.4,194.5 360.9,194.4 361.3,194.3 361.7,194.2 362.2,194.1 362.6,194.1 363.0,194.0 363.4,194.0 363.9,194.0 364.3,194.0 364.7,194.1 365.1,194.2 365.6,194.2 366.0,194.3 366.4,194.4 366.9,194.5 367.3,194.5 367.7,194.6 368.1,194.6 368.6,194.6 369.0,194.6 369.4,194.5 369.9,194.4 370.3,194.4 370.7,194.3 371.1,194.1 371.6,194.0 372.0,193.9 372.4,193.8 372.8,193.8 373.3,193.7 373.7,193.7 374.1,193.6 374.6,193.7 375.0,193.7 375.4,193.7 375.8,193.8 376.3,193.9 376.7,194.0 377.1,194.0 377.6,194.1 378.0,194.2 378.4,194.2 378.8,194.2 379.3,194.2 379.7,194.2 380.1,194.2 380.5,194.1 381.0,194.0 381.4,193.9 381.8,193.8 382.3,193.7 382.7,193.6 383.1,193.5 383.5,193.4 384.0,193.4 384.4,193.3 384.8,193.3 385.3,193.3 385.7,193.3 386.1,193.4 386.5,193.5 387.0,193.5 387.4,193.6 387.8,193.7 388.3,193.8 388.7,193.8 389.1,193.9 389.5,193.9 390.0,193.9 390.4,193.9 390.8,193.8 391.2,193.8 391.7,193.7 392.1,193.6 392.5,193.5 393.0,193.4 393.4,193.3 393.8,193.2 394.2,193.1 394.7,193.0 395.1,193.0 395.5,193.0 396.0,193.0 396.4,193.0 396.8,193.1 397.2,193.1 397.7,193.2 398.1,193.3 398.5,193.4 398.9,193.5 399.4,193.5 399.8,193.6 400.2,193.6 400.7,193.6 401.1,193.6 401.5,193.5 401.9,193.4 402.4,193.4 402.8,193.3 403.2,193.1 403.7,193.0 404.1,192.9 404.5,192.8 404.9,192.8 405.4,192.7 405.8,192.7 406.2,192.7 406.6,192.7 407.1,192.7 407.5,192.8 407.9,192.8 408.4,192.9 408.8,193.0 409.2,193.1 409.6,193.1 410.1,193.2 410.5,193.2 410.9,193.3 411.4,193.3 411.8,193.2 412.2,193.2 412.6,193.1 413.1,193.0 413.5,192.9 413.9,192.8 414.3,192.7 414.8,192.6 415.2,192.5 415.6,192.5 416.1,192.4 416.5,192.4 416.9,192.3 417.3,192.4 417.8,192.4 418.2,192.4 418.6,192.5 419.1,192.6 419.5,192.7 419.9,192.8 420.3,192.8 420.8,192.9 421.2,192.9 421.6,193.0 422.1,193.0 422.5,192.9 422.9,192.9 423.3,192.8 423.8,192.7 424.2,192.6 424.6,192.5 425.0,192.4 425.5,192.3 425.9,192.2 426.3,192.2 426.8,192.1 427.2,192.1 427.6,192.0 428.0,192.1 428.5,192.1 428.9,192.2 429.3,192.2 429.8,192.3 430.2,192.4 430.6,192.5 431.0,192.5 431.5,192.6 431.9,192.6 432.3,192.7 432.7,192.7 433.2,192.7 433.6,192.6 434.0,192.5 434.5,192.5 434.9,192.4 435.3,192.2 435.7,192.1 436.2,192.0 436.6,191.9 437.0,191.9 437.5,191.8 437.9,191.8 438.3,191.8 438.7,191.8 439.2,191.8 439.6,191.9 440.0,191.9 440.4,192.0 440.9,192.1 441.3,192.2 441.7,192.3 442.2,192.3 442.6,192.4 443.0,192.4 443.4,192.4 443.9,192.4 444.3,192.3 444.7,192.3 445.2,192.2 445.6,192.1 446.0,192.0 446.4,191.9 446.9,191.8 447.3,191.7 447.7,191.6 448.1,191.5 448.6,191.5 449.0,191.5 449.4,191.5 449.9,191.5 450.3,191.6 450.7,191.7 451.1,191.7 451.6,191.8 452.0,191.9" stroke="#22c422" stroke-width="1.4" fill="none" stroke-linejoin="round"/>
<text stroke="#111" stroke-width="0.15" transform="translate(21.95,187.30) scale(0.640,1)" font-size="5.9" text-anchor="end" fill="#111" font-family='"Liberation Sans", sans-serif'>40</text>
<text stroke="#111" stroke-width="0.15" transform="translate(21.95,202.61) scale(0.640,1)" font-size="5.9" text-anchor="end" fill="#111" font-family='"Liberation Sans", sans-serif'>30</text>
<text stroke="#111" stroke-width="0.15" transform="translate(21.95,217.93) scale(0.640,1)" font-size="5.9" text-anchor="end" fill="#111" font-family='"Liberation Sans", sans-serif'>20</text>
<text stroke="#111" stroke-width="0.15" transform="translate(21.95,233.24) scale(0.640,1)" font-size="5.9" text-anchor="end" fill="#111" font-family='"Liberation Sans", sans-serif'>10</text>
<text stroke="#111" stroke-width="0.15" transform="translate(21.95,248.55) scale(0.640,1)" font-size="5.9" text-anchor="end" fill="#111" font-family='"Liberation Sans", sans-serif'>0</text>
<text stroke="#111" stroke-width="0.15" transform="translate(21.95,263.86) scale(0.640,1)" font-size="5.9" text-anchor="end" fill="#111" font-family='"Liberation Sans", sans-serif'>&#8722;10</text>
<text stroke="#111" stroke-width="0.15" transform="translate(21.95,279.18) scale(0.640,1)" font-size="5.9" text-anchor="end" fill="#111" font-family='"Liberation Sans", sans-serif'>&#8722;20</text>
<text stroke="#111" stroke-width="0.15" transform="translate(21.95,294.49) scale(0.640,1)" font-size="5.9" text-anchor="end" fill="#111" font-family='"Liberation Sans", sans-serif'>&#8722;30</text>
<text stroke="#111" stroke-width="0.15" transform="translate(21.95,309.80) scale(0.640,1)" font-size="5.9" text-anchor="end" fill="#111" font-family='"Liberation Sans", sans-serif'>&#8722;40</text>
<text stroke="#111" stroke-width="0.15" transform="translate(24.15,315.80) scale(0.700,1)" font-size="6.3" text-anchor="middle" fill="#111" font-family='"Liberation Sans", sans-serif'>0</text>
<text stroke="#111" stroke-width="0.15" transform="translate(77.63,315.80) scale(0.700,1)" font-size="6.3" text-anchor="middle" fill="#111" font-family='"Liberation Sans", sans-serif'>5</text>
<text stroke="#111" stroke-width="0.15" transform="translate(131.11,315.80) scale(0.700,1)" font-size="6.3" text-anchor="middle" fill="#111" font-family='"Liberation Sans", sans-serif'>10</text>
<text stroke="#111" stroke-width="0.15" transform="translate(184.59,315.80) scale(0.700,1)" font-size="6.3" text-anchor="middle" fill="#111" font-family='"Liberation Sans", sans-serif'>15</text>
<text stroke="#111" stroke-width="0.15" transform="translate(238.08,315.80) scale(0.700,1)" font-size="6.3" text-anchor="middle" fill="#111" font-family='"Liberation Sans", sans-serif'>20</text>
<text stroke="#111" stroke-width="0.15" transform="translate(291.56,315.80) scale(0.700,1)" font-size="6.3" text-anchor="middle" fill="#111" font-family='"Liberation Sans", sans-serif'>25</text>
<text stroke="#111" stroke-width="0.15" transform="translate(345.04,315.80) scale(0.700,1)" font-size="6.3" text-anchor="middle" fill="#111" font-family='"Liberation Sans", sans-serif'>30</text>
<text stroke="#111" stroke-width="0.15" transform="translate(398.52,315.80) scale(0.700,1)" font-size="6.3" text-anchor="middle" fill="#111" font-family='"Liberation Sans", sans-serif'>35</text>
<text stroke="#111" stroke-width="0.15" transform="translate(452.00,315.80) scale(0.700,1)" font-size="6.3" text-anchor="middle" fill="#111" font-family='"Liberation Sans", sans-serif'>40</text>
<path d="M78.5,375.4V495.8M133.5,375.4V495.8M187.5,375.4V495.8M242.5,375.4V495.8M296.5,375.4V495.8M350.5,375.4V495.8M405.5,375.4V495.8M24.1,390.5H459.5M24.1,405.5H459.5M24.1,420.5H459.5M24.1,435.5H459.5M24.1,450.5H459.5M24.1,465.5H459.5M24.1,480.5H459.5" stroke="#b8b8b8" stroke-width="1" fill="none"/>
<path d="M78.5,495.8v-3.8M78.5,375.4v3.8M133.5,495.8v-3.8M133.5,375.4v3.8M187.5,495.8v-3.8M187.5,375.4v3.8M242.5,495.8v-3.8M242.5,375.4v3.8M296.5,495.8v-3.8M296.5,375.4v3.8M350.5,495.8v-3.8M350.5,375.4v3.8M405.5,495.8v-3.8M405.5,375.4v3.8M24.1,390.5h3.8M459.5,390.5h-3.8M24.1,405.5h3.8M459.5,405.5h-3.8M24.1,420.5h3.8M459.5,420.5h-3.8M24.1,435.5h3.8M459.5,435.5h-3.8M24.1,450.5h3.8M459.5,450.5h-3.8M24.1,465.5h3.8M459.5,465.5h-3.8M24.1,480.5h3.8M459.5,480.5h-3.8" stroke="#7a7a7a" stroke-width="0.9" fill="none"/>
<rect x="24.10" y="375.40" width="435.40" height="120.40" stroke="#808080" stroke-width="1.2" fill="none"/>
<path d="M24.1,483.5 24.6,484.9 25.0,485.9 25.5,486.7 25.9,487.0 26.3,486.9 26.8,486.4 27.2,485.4 27.6,484.2 28.1,482.7 28.5,481.1 28.9,479.4 29.4,477.7 29.8,476.2 30.3,475.0 30.7,474.1 31.1,473.6 31.6,473.5 32.0,473.8 32.4,474.5 32.9,475.6 33.3,477.0 33.7,478.5 34.2,480.2 34.6,481.9 35.0,483.5 35.5,484.9 35.9,485.9 36.4,486.7 36.8,487.0 37.2,486.9 37.7,486.4 38.1,485.4 38.5,484.2 39.0,482.7 39.4,481.1 39.8,479.4 40.3,477.7 40.7,476.2 41.1,475.0 41.6,474.1 42.0,473.6 42.5,473.5 42.9,473.8 43.3,474.5 43.8,475.6 44.2,477.0 44.6,478.5 45.1,480.2 45.5,481.9 45.9,483.5 46.4,484.9 46.8,485.9 47.2,486.7 47.7,487.0 48.1,486.9 48.6,486.4 49.0,485.4 49.4,484.2 49.9,482.7 50.3,481.1 50.7,479.4 51.2,477.7 51.6,476.2 52.0,475.0 52.5,474.1 52.9,473.6 53.3,473.5 53.8,473.8 54.2,474.5 54.7,475.6 55.1,477.0 55.5,478.5 56.0,480.2 56.4,481.9 56.8,483.5 57.3,484.9 57.7,485.9 58.1,486.7 58.6,487.0 59.0,486.9 59.4,486.4 59.9,485.4 60.3,484.2 60.8,482.7 61.2,481.1 61.6,479.4 62.1,477.7 62.5,476.2 62.9,475.0 63.4,474.1 63.8,473.6 64.2,473.5 64.7,473.8 65.1,474.5 65.5,475.6 66.0,477.0 66.4,478.5 66.9,480.2 67.3,481.9 67.7,483.5 68.2,484.9 68.6,485.9 69.0,486.7 69.5,487.0 69.9,486.9 70.3,486.4 70.8,485.4 71.2,484.2 71.6,482.7 72.1,481.1 72.5,479.4 73.0,477.7 73.4,476.2 73.8,475.0 74.3,474.1 74.7,473.6 75.1,473.5 75.6,473.8 76.0,474.5 76.4,475.6 76.9,477.0 77.3,478.5 77.7,480.2 78.2,481.9 78.6,483.5 79.1,484.9 79.5,485.9 79.9,486.7 80.4,487.0 80.8,486.9 81.2,486.4 81.7,485.4 82.1,484.2 82.5,482.7 83.0,481.1 83.4,479.4 83.8,477.7 84.3,476.2 84.7,475.0 85.2,474.1 85.6,473.6 86.0,473.5 86.5,473.8 86.9,474.5 87.3,475.6 87.8,477.0 88.2,478.5 88.6,480.2 89.1,481.9 89.5,483.5 89.9,484.9 90.4,485.9 90.8,486.7 91.3,487.0 91.7,486.9 92.1,486.4 92.6,485.4 93.0,484.2 93.4,482.7 93.9,481.1 94.3,479.4 94.7,477.7 95.2,476.2 95.6,475.0 96.0,474.1 96.5,473.6 96.9,473.5 97.4,473.8 97.8,474.5 98.2,475.6 98.7,477.0 99.1,478.5 99.5,480.2 100.0,481.9 100.4,483.5 100.8,484.9 101.3,485.9 101.7,486.7 102.1,487.0 102.6,486.9 103.0,486.4 103.5,485.4 103.9,484.2 104.3,482.7 104.8,481.1 105.2,479.4 105.6,477.7 106.1,476.2 106.5,475.0 106.9,474.1 107.4,473.6 107.8,473.5 108.2,473.8 108.7,474.5 109.1,475.6 109.6,477.0 110.0,478.5 110.4,480.2 110.9,481.9 111.3,483.5 111.7,484.9 112.2,485.9 112.6,486.7 113.0,487.0 113.5,486.9 113.9,486.4 114.4,485.4 114.8,484.2 115.2,482.7 115.7,481.1 116.1,479.4 116.5,477.7 117.0,476.2 117.4,475.0 117.8,474.1 118.3,473.6 118.7,473.5 119.1,473.8 119.6,474.5 120.0,475.6 120.5,477.0 120.9,478.5 121.3,480.2 121.8,481.9 122.2,483.5 122.6,484.9 123.1,485.9 123.5,486.7 123.9,487.0 124.4,486.9 124.8,486.4 125.2,485.4 125.7,484.2 126.1,482.7 126.6,481.1 127.0,479.4 127.4,477.7 127.9,476.2 128.3,475.0 128.7,474.1 129.2,473.6 129.6,473.5 130.0,473.8 130.5,474.5 130.9,475.6 131.3,477.0 131.8,478.5 132.2,480.2 132.7,481.9 133.1,483.5 133.5,484.9 134.0,485.9 134.4,486.7 134.8,487.0 135.3,486.9 135.7,486.4 136.1,485.4 136.6,484.2 137.0,482.7 137.4,481.1 137.9,479.4 138.3,477.7 138.8,476.2 139.2,475.0 139.6,474.1 140.1,473.6 140.5,473.5 140.9,473.8 141.4,474.5 141.8,475.6 142.2,477.0 142.7,478.5 143.1,480.2 143.5,481.9 144.0,483.5 144.4,484.9 144.9,485.9 145.3,486.7 145.7,487.0 146.2,486.9 146.6,486.4 147.0,485.4 147.5,484.2 147.9,482.7 148.3,481.1 148.8,479.4 149.2,477.7 149.6,476.2 150.1,475.0 150.5,474.1 151.0,473.6 151.4,473.5 151.8,473.8 152.3,474.5 152.7,475.6 153.1,477.0 153.6,478.5 154.0,480.2 154.4,481.9 154.9,483.5 155.3,484.9 155.7,485.9 156.2,486.7 156.6,487.0 157.1,486.9 157.5,486.4 157.9,485.4 158.4,484.2 158.8,482.7 159.2,481.1 159.7,479.4 160.1,477.7 160.5,476.2 161.0,475.0 161.4,474.1 161.8,473.6 162.3,473.5 162.7,473.8 163.2,474.5 163.6,475.6 164.0,477.0 164.5,478.5 164.9,480.2 165.3,481.9 165.8,483.5 166.2,484.9 166.6,485.9 167.1,486.7 167.5,487.0 167.9,486.9 168.4,486.4 168.8,485.4 169.3,484.2 169.7,482.7 170.1,481.1 170.6,479.4 171.0,477.7 171.4,476.2 171.9,475.0 172.3,474.1 172.7,473.6 173.2,473.5 173.6,473.8 174.0,474.5 174.5,475.6 174.9,477.0 175.4,478.5 175.8,480.2 176.2,481.9 176.7,483.5 177.1,484.9 177.5,485.9 178.0,486.7 178.4,487.0 178.8,486.9 179.3,486.4 179.7,485.4 180.1,484.2 180.6,482.7 181.0,481.1 181.5,479.4 181.9,477.7 182.3,476.2 182.8,475.0 183.2,474.1 183.6,473.6 184.1,473.5 184.5,473.8 184.9,474.5 185.4,475.6 185.8,477.0 186.2,478.5 186.7,480.2 187.1,481.9 187.6,483.5 188.0,484.9 188.4,485.9 188.9,486.7 189.3,487.0 189.7,486.9 190.2,486.4 190.6,485.4 191.0,484.2 191.5,482.7 191.9,481.1 192.3,479.4 192.8,477.7 193.2,476.2 193.7,475.0 194.1,474.1 194.5,473.6 195.0,473.5 195.4,473.8 195.8,474.5 196.3,475.6 196.7,477.0 197.1,478.5 197.6,480.2 198.0,481.9 198.5,483.5 198.9,484.9 199.3,485.9 199.8,486.7 200.2,487.0 200.6,486.9 201.1,486.4 201.5,485.4 201.9,484.2 202.4,482.7 202.8,481.1 203.2,479.4 203.7,477.7 204.1,476.2 204.6,475.0 205.0,474.1 205.4,473.6 205.9,473.5 206.3,473.8 206.7,474.5 207.2,475.6 207.6,477.0 208.0,478.5 208.5,480.2 208.9,481.9 209.3,483.5 209.8,484.9 210.2,485.9 210.7,486.7 211.1,487.0 211.5,486.9 212.0,486.4 212.4,485.4 212.8,484.2 213.3,482.7 213.7,481.1 214.1,479.4 214.6,477.7 215.0,476.2 215.4,475.0 215.9,474.1 216.3,473.6 216.8,473.5 217.2,473.8 217.6,474.5 218.1,475.6 218.5,477.0 218.9,478.5 219.4,480.2 219.8,481.9 220.2,483.5 220.7,484.9 221.1,485.9 221.5,486.7 222.0,487.0 222.4,486.9 222.9,486.4 223.3,485.4 223.7,484.2 224.2,482.7 224.6,481.1 225.0,479.4 225.5,477.7 225.9,476.2 226.3,475.0 226.8,474.1 227.2,473.6 227.6,473.5 228.1,473.8 228.5,474.5 229.0,475.6 229.4,477.0 229.8,478.5 230.3,480.2 230.7,481.9 231.1,483.5 231.6,484.9 232.0,485.9 232.4,486.7 232.9,487.0 233.3,486.9 233.7,486.4 234.2,485.4 234.6,484.2 235.1,482.7 235.5,481.1 235.9,479.4 236.4,477.7 236.8,476.2 237.2,475.0 237.7,474.1 238.1,473.6 238.5,473.5 239.0,473.8 239.4,474.5 239.8,475.6 240.3,477.0 240.7,478.5 241.2,480.2 241.6,481.9 242.0,483.5 242.5,484.9 242.9,485.9 243.3,486.7 243.8,487.0 244.2,486.9 244.6,486.4 245.1,485.4 245.5,484.2 245.9,482.7 246.4,481.1 246.8,479.4 247.3,477.7 247.7,476.2 248.1,475.0 248.6,474.1 249.0,473.6 249.4,473.5 249.9,473.8 250.3,474.5 250.7,475.6 251.2,477.0 251.6,478.5 252.0,480.2 252.5,481.9 252.9,483.5 253.4,484.9 253.8,485.9 254.2,486.7 254.7,487.0 255.1,486.9 255.5,486.4 256.0,485.4 256.4,484.2 256.8,482.7 257.3,481.1 257.7,479.4 258.1,477.7 258.6,476.2 259.0,475.0 259.5,474.1 259.9,473.6 260.3,473.5 260.8,473.8 261.2,474.5 261.6,475.6 262.1,477.0 262.5,478.5 262.9,480.2 263.4,481.9 263.8,483.5 264.2,484.9 264.7,485.9 265.1,486.7 265.6,487.0 266.0,486.9 266.4,486.4 266.9,485.4 267.3,484.2 267.7,482.7 268.2,481.1 268.6,479.4 269.0,477.7 269.5,476.2 269.9,475.0 270.3,474.1 270.8,473.6 271.2,473.5 271.7,473.8 272.1,474.5 272.5,475.6 273.0,477.0 273.4,478.5 273.8,480.2 274.3,481.9 274.7,483.5 275.1,484.9 275.6,485.9 276.0,486.7 276.4,487.0 276.9,486.9 277.3,486.4 277.8,485.4 278.2,484.2 278.6,482.7 279.1,481.1 279.5,479.4 279.9,477.7 280.4,476.2 280.8,475.0 281.2,474.1 281.7,473.6 282.1,473.5 282.5,473.8 283.0,474.5 283.4,475.6 283.9,477.0 284.3,478.5 284.7,480.2 285.2,481.9 285.6,483.5 286.0,484.9 286.5,485.9 286.9,486.7 287.3,487.0 287.8,486.9 288.2,486.4 288.7,485.4 289.1,484.2 289.5,482.7 290.0,481.1 290.4,479.4 290.8,477.7 291.3,476.2 291.7,475.0 292.1,474.1 292.6,473.6 293.0,473.5 293.4,473.8 293.9,474.5 294.3,475.6 294.8,477.0 295.2,478.5 295.6,480.2 296.1,481.9 296.5,483.5 296.9,484.9 297.4,485.9 297.8,486.7 298.2,487.0 298.7,486.9 299.1,486.4 299.5,485.4 300.0,484.2 300.4,482.7 300.9,481.1 301.3,479.4 301.7,477.7 302.2,476.2 302.6,475.0 303.0,474.1 303.5,473.6 303.9,473.5 304.3,473.8 304.8,474.5 305.2,475.6 305.6,477.0 306.1,478.5 306.5,480.2 307.0,481.9 307.4,483.5 307.8,484.9 308.3,485.9 308.7,486.7 309.1,487.0 309.6,486.9 310.0,486.4 310.4,485.4 310.9,484.2 311.3,482.7 311.7,481.1 312.2,479.4 312.6,477.7 313.1,476.2 313.5,475.0 313.9,474.1 314.4,473.6 314.8,473.5 315.2,473.8 315.7,474.5 316.1,475.6 316.5,477.0 317.0,478.5 317.4,480.2 317.8,481.9 318.3,483.5 318.7,484.9 319.2,485.9 319.6,486.7 320.0,487.0 320.5,486.9 320.9,486.4 321.3,485.4 321.8,484.2 322.2,482.7 322.6,481.1 323.1,479.4 323.5,477.7 323.9,476.2 324.4,475.0 324.8,474.1 325.3,473.6 325.7,473.5 326.1,473.8 326.6,474.5 327.0,475.6 327.4,477.0 327.9,478.5 328.3,480.2 328.7,481.9 329.2,483.5 329.6,484.9 330.0,485.9 330.5,486.7 330.9,487.0 331.4,486.9 331.8,486.4 332.2,485.4 332.7,484.2 333.1,482.7 333.5,481.1 334.0,479.4 334.4,477.7 334.8,476.2 335.3,475.0 335.7,474.1 336.1,473.6 336.6,473.5 337.0,473.8 337.5,474.5 337.9,475.6 338.3,477.0 338.8,478.5 339.2,480.2 339.6,481.9 340.1,483.5 340.5,484.9 340.9,485.9 341.4,486.7 341.8,487.0 342.2,486.9 342.7,486.4 343.1,485.4 343.6,484.2 344.0,482.7 344.4,481.1 344.9,479.4 345.3,477.7 345.7,476.2 346.2,475.0 346.6,474.1 347.0,473.6 347.5,473.5 347.9,473.8 348.3,474.5 348.8,475.6 349.2,477.0 349.7,478.5 350.1,480.2 350.5,481.9 351.0,483.5 351.4,484.9 351.8,485.9 352.3,486.7 352.7,487.0 353.1,486.9 353.6,486.4 354.0,485.4 354.4,484.2 354.9,482.7 355.3,481.1 355.8,479.4 356.2,477.7 356.6,476.2 357.1,475.0 357.5,474.1 357.9,473.6 358.4,473.5 358.8,473.8 359.2,474.5 359.7,475.6 360.1,477.0 360.5,478.5 361.0,480.2 361.4,481.9 361.9,483.5 362.3,484.9 362.7,485.9 363.2,486.7 363.6,487.0 364.0,486.9 364.5,486.4 364.9,485.4 365.3,484.2 365.8,482.7 366.2,481.1 366.6,479.4 367.1,477.7 367.5,476.2 368.0,475.0 368.4,474.1 368.8,473.6 369.3,473.5 369.7,473.8 370.1,474.5 370.6,475.6 371.0,477.0 371.4,478.5 371.9,480.2 372.3,481.9 372.8,483.5 373.2,484.9 373.6,485.9 374.1,486.7 374.5,487.0 374.9,486.9 375.4,486.4 375.8,485.4 376.2,484.2 376.7,482.7 377.1,481.1 377.5,479.4 378.0,477.7 378.4,476.2 378.9,475.0 379.3,474.1 379.7,473.6 380.2,473.5 380.6,473.8 381.0,474.5 381.5,475.6 381.9,477.0 382.3,478.5 382.8,480.2 383.2,481.9 383.6,483.5 384.1,484.9 384.5,485.9 385.0,486.7 385.4,487.0 385.8,486.9 386.3,486.4 386.7,485.4 387.1,484.2 387.6,482.7 388.0,481.1 388.4,479.4 388.9,477.7 389.3,476.2 389.7,475.0 390.2,474.1 390.6,473.6 391.1,473.5 391.5,473.8 391.9,474.5 392.4,475.6 392.8,477.0 393.2,478.5 393.7,480.2 394.1,481.9 394.5,483.5 395.0,484.9 395.4,485.9 395.8,486.7 396.3,487.0 396.7,486.9 397.2,486.4 397.6,485.4 398.0,484.2 398.5,482.7 398.9,481.1 399.3,479.4 399.8,477.7 400.2,476.2 400.6,475.0 401.1,474.1 401.5,473.6 401.9,473.5 402.4,473.8 402.8,474.5 403.3,475.6 403.7,477.0 404.1,478.5 404.6,480.2 405.0,481.9 405.4,483.5 405.9,484.9 406.3,485.9 406.7,486.7 407.2,487.0 407.6,486.9 408.0,486.4 408.5,485.4 408.9,484.2 409.4,482.7 409.8,481.1 410.2,479.4 410.7,477.7 411.1,476.2 411.5,475.0 412.0,474.1 412.4,473.6 412.8,473.5 413.3,473.8 413.7,474.5 414.1,475.6 414.6,477.0 415.0,478.5 415.5,480.2 415.9,481.9 416.3,483.5 416.8,484.9 417.2,485.9 417.6,486.7 418.1,487.0 418.5,486.9 418.9,486.4 419.4,485.4 419.8,484.2 420.2,482.7 420.7,481.1 421.1,479.4 421.6,477.7 422.0,476.2 422.4,475.0 422.9,474.1 423.3,473.6 423.7,473.5 424.2,473.8 424.6,474.5 425.0,475.6 425.5,477.0 425.9,478.5 426.3,480.2 426.8,481.9 427.2,483.5 427.7,484.9 428.1,485.9 428.5,486.7 429.0,487.0 429.4,486.9 429.8,486.4 430.3,485.4 430.7,484.2 431.1,482.7 431.6,481.1 432.0,479.4 432.4,477.7 432.9,476.2 433.3,475.0 433.8,474.1 434.2,473.6 434.6,473.5 435.1,473.8 435.5,474.5 435.9,475.6 436.4,477.0 436.8,478.5 437.2,480.2 437.7,481.9 438.1,483.5 438.5,484.9 439.0,485.9 439.4,486.7 439.9,487.0 440.3,486.9 440.7,486.4 441.2,485.4 441.6,484.2 442.0,482.7 442.5,481.1 442.9,479.4 443.3,477.7 443.8,476.2 444.2,475.0 444.6,474.1 445.1,473.6 445.5,473.5 446.0,473.8 446.4,474.5 446.8,475.6 447.3,477.0 447.7,478.5 448.1,480.2 448.6,481.9 449.0,483.5 449.4,484.9 449.9,485.9 450.3,486.7 450.7,487.0 451.2,486.9 451.6,486.4 452.1,485.4 452.5,484.2 452.9,482.7 453.4,481.1 453.8,479.4 454.2,477.7 454.7,476.2 455.1,475.0 455.5,474.1 456.0,473.6 456.4,473.5 456.8,473.8 457.3,474.5 457.7,475.6 458.2,477.0 458.6,478.5 459.0,480.2 459.5,481.9 459.9,483.5" stroke="#c88ccc" stroke-width="1.0" fill="none"/>
<path d="M24.1,483.5 24.6,484.9 25.0,485.9 25.5,486.7 25.9,487.0 26.3,486.9 26.8,486.4 27.2,485.4 27.6,484.2 28.1,482.7 28.5,481.1 28.9,479.4 29.4,477.7 29.8,476.2 30.3,475.0 30.7,474.1 31.1,473.6 31.6,473.5 32.0,473.8 32.4,474.5 32.9,475.6 33.3,477.0 33.7,478.5 34.2,480.2 34.6,481.9 35.0,483.5 35.5,484.9 35.9,485.9 36.4,486.7 36.8,487.0 37.2,486.9 37.7,486.4 38.1,485.4 38.5,484.2 39.0,482.7 39.4,481.1 39.8,479.4 40.3,477.7 40.7,476.2 41.1,475.0 41.6,474.1 42.0,473.6 42.5,473.5 42.9,473.8 43.3,474.5 43.8,475.6 44.2,477.0 44.6,478.5 45.1,480.2 45.5,481.9 45.9,483.5 46.4,484.9 46.8,485.9 47.2,486.7 47.7,487.0 48.1,486.9 48.6,486.4 49.0,485.4 49.4,484.2 49.9,482.7 50.3,481.1 50.7,479.4 51.2,477.7 51.6,476.2 52.0,475.0 52.5,474.1 52.9,473.6 53.3,473.5 53.8,473.8 54.2,474.5 54.7,475.6 55.1,477.0 55.5,478.5 56.0,480.2 56.4,481.9 56.8,483.5 57.3,484.9 57.7,485.9 58.1,486.7 58.6,487.0 59.0,486.9 59.4,486.4 59.9,485.4 60.3,484.2 60.8,482.7 61.2,481.1 61.6,479.4 62.1,477.7 62.5,476.2 62.9,475.0 63.4,474.1 63.8,473.6 64.2,473.5 64.7,473.8 65.1,474.5 65.5,475.6 66.0,477.0 66.4,478.5 66.9,480.2 67.3,481.9 67.7,483.5 68.2,484.9 68.6,485.9 69.0,486.7 69.5,487.0 69.9,486.9 70.3,486.4 70.8,485.4 71.2,484.2 71.6,482.7 72.1,481.1 72.5,479.4 73.0,477.7 73.4,476.2 73.8,475.0 74.3,474.1 74.7,473.6 75.1,473.5 75.6,473.8 76.0,474.5 76.4,475.6 76.9,477.0 77.3,478.5 77.7,480.2 78.2,481.9 78.6,483.5 79.1,484.9 79.5,485.9 79.9,486.7 80.4,487.0 80.8,486.9 81.2,486.4 81.7,485.4 82.1,484.2 82.5,482.7 83.0,481.1 83.4,479.4 83.8,477.7 84.3,476.2 84.7,475.0 85.2,474.1 85.6,473.6 86.0,473.5 86.5,473.8 86.9,474.5 87.3,475.6 87.8,477.0 88.2,478.5 88.6,480.2 89.1,481.9 89.5,483.5 89.9,484.9 90.4,485.9 90.8,486.7 91.3,487.0 91.7,486.9 92.1,486.4 92.6,485.4 93.0,484.2 93.4,482.7 93.9,481.1 94.3,479.4 94.7,477.7 95.2,476.2 95.6,475.0 96.0,474.1 96.5,473.6 96.9,473.5 97.4,473.8 97.8,474.5 98.2,475.6 98.7,477.0 99.1,478.5 99.5,480.2 100.0,481.9 100.4,483.5 100.8,484.9 101.3,485.9 101.7,486.7 102.1,487.0 102.6,486.9 103.0,486.4 103.5,485.4 103.9,484.2 104.3,482.7 104.8,481.1 105.2,479.4 105.6,477.7 106.1,476.2 106.5,475.0 106.9,474.1 107.4,473.6 107.8,473.5 108.2,473.8 108.7,474.5 109.1,475.6 109.6,477.0 110.0,478.5 110.4,480.2 110.9,481.9 111.3,483.5 111.7,484.9 112.2,485.9 112.6,486.7 113.0,487.0 113.5,486.9 113.9,486.4 114.4,485.4 114.8,484.2 115.2,482.7 115.7,481.1 116.1,479.4 116.5,477.7 117.0,476.2 117.4,475.0 117.8,474.1 118.3,473.6 118.7,473.5 119.1,473.8 119.6,474.5 120.0,475.6 120.5,477.0 120.9,478.5 121.3,480.2 121.8,481.9 122.2,483.5 122.6,484.9 123.1,485.9 123.5,486.7 123.9,487.0 124.4,486.9 124.8,486.4 125.2,485.4 125.7,484.2 126.1,482.7 126.6,481.1 127.0,479.4 127.4,477.7 127.9,476.2 128.3,475.0 128.7,474.1 129.2,473.6 129.6,473.5 130.0,473.8 130.5,474.5 130.9,475.6 131.3,477.0 131.8,478.5 132.2,480.2 132.7,481.9 133.1,483.5 133.5,484.9 134.0,485.9 134.4,486.7 134.8,487.0 135.3,486.9 135.7,486.4 136.1,485.4 136.6,484.2 137.0,482.7 137.4,481.1 137.9,479.4 138.3,477.7 138.8,476.2 139.2,475.0 139.6,474.1 140.1,473.6 140.5,473.5 140.9,473.8 141.4,474.5 141.8,475.6 142.2,477.0 142.7,478.5 143.1,480.2 143.5,481.9 144.0,483.5 144.4,484.9 144.9,485.9 145.3,486.7 145.7,487.0 146.2,486.9 146.6,486.4 147.0,485.4 147.5,484.2 147.9,482.7 148.3,481.1 148.8,479.4 149.2,477.7 149.6,476.2 150.1,475.0 150.5,474.1 151.0,473.6 151.4,473.5 151.8,473.8 152.3,474.5 152.7,475.6 153.1,477.0 153.6,478.5 154.0,480.2 154.4,481.9 154.9,483.5 155.3,484.9 155.7,485.9 156.2,486.7 156.6,487.0 157.1,486.9 157.5,486.4 157.9,485.4 158.4,484.2 158.8,482.7 159.2,481.1 159.7,479.4 160.1,477.7 160.5,476.2 161.0,475.0 161.4,474.1 161.8,473.6 162.3,473.5 162.7,473.8 163.2,474.5 163.6,475.6 164.0,477.0 164.5,478.5 164.9,480.2 165.3,481.9 165.8,483.5 166.2,484.9 166.6,485.9 167.1,486.7 167.5,487.0 167.9,486.9 168.4,486.4 168.8,485.4 169.3,484.2 169.7,482.7 170.1,481.1 170.6,479.4 171.0,477.7 171.4,476.2 171.9,475.0 172.3,474.1 172.7,473.6 173.2,473.5 173.6,473.8 174.0,474.5 174.5,475.6 174.9,477.0 175.4,478.5 175.8,480.2 176.2,481.9 176.7,483.5 177.1,484.9 177.5,485.9 178.0,486.7 178.4,487.0 178.8,486.9 179.3,486.4 179.7,485.4 180.1,484.2 180.6,482.7 181.0,481.1 181.5,479.4 181.9,477.7 182.3,476.2 182.8,475.0 183.2,474.1 183.6,473.6 184.1,473.5 184.5,473.8 184.9,474.5 185.4,475.6 185.8,477.0 186.2,478.5 186.7,480.2 187.1,481.9 187.6,483.5 188.0,484.9 188.4,485.9 188.9,486.7 189.3,487.0 189.7,486.9 190.2,486.4 190.6,485.4 191.0,484.2 191.5,482.7 191.9,481.1 192.3,479.4 192.8,477.7 193.2,476.2 193.7,475.0 194.1,474.1 194.5,473.6 195.0,473.5 195.4,473.8 195.8,474.5 196.3,475.6 196.7,477.0 197.1,478.5 197.6,480.2 198.0,481.9 198.5,483.5 198.9,484.9 199.3,485.9 199.8,486.7 200.2,487.0 200.6,486.9 201.1,486.4 201.5,485.4 201.9,484.2 202.4,482.7 202.8,481.1 203.2,479.4 203.7,477.7 204.1,476.2 204.6,475.0 205.0,474.1 205.4,473.6 205.9,473.5 206.3,473.8 206.7,474.5 207.2,475.6 207.6,477.0 208.0,478.5 208.5,480.2 208.9,481.9 209.3,483.5 209.8,484.9 210.2,485.9 210.7,486.7 211.1,487.0 211.5,486.9 212.0,486.4 212.4,485.4 212.8,484.2 213.3,482.7 213.7,481.1 214.1,479.4 214.6,477.7 215.0,476.2 215.4,475.0 215.9,474.1 216.3,473.6 216.8,473.5 217.2,473.8 217.6,474.5 218.1,475.6 218.5,477.0 218.9,478.5 219.4,480.2 219.8,481.9 220.2,483.5 220.7,484.9 221.1,485.9 221.5,486.7 222.0,487.0 222.4,486.9 222.9,486.4 223.3,485.4 223.7,484.2 224.2,482.7 224.6,481.1 225.0,479.4 225.5,477.7 225.9,476.2 226.3,475.0 226.8,474.1 227.2,473.6 227.6,473.5 228.1,473.8 228.5,474.5 229.0,475.6 229.4,477.0 229.8,478.5 230.3,480.2 230.7,481.9 231.1,483.5 231.6,484.9 232.0,485.9 232.4,486.7 232.9,487.0 233.3,486.9 233.7,486.4 234.2,485.4 234.6,484.2 235.1,482.7 235.5,481.1 235.9,479.4 236.4,477.7 236.8,476.2 237.2,475.0 237.7,474.1 238.1,473.6 238.5,473.5 239.0,473.8 239.4,474.5 239.8,475.6 240.3,477.0 240.7,478.5 241.2,480.2 241.6,481.9 242.0,483.5 242.5,484.9 242.9,485.9 243.3,486.7 243.8,487.0 244.2,486.9 244.6,486.4 245.1,485.4 245.5,484.2 245.9,482.7 246.4,481.1 246.8,479.4 247.3,477.7 247.7,476.2 248.1,475.0 248.6,474.1 249.0,473.6 249.4,473.5 249.9,473.8 250.3,474.5 250.7,475.6 251.2,477.0 251.6,478.5 252.0,480.2 252.5,481.9 252.9,483.5 253.4,484.9 253.8,485.9 254.2,486.7 254.7,487.0 255.1,486.9 255.5,486.4 256.0,485.4 256.4,484.2 256.8,482.7 257.3,481.1 257.7,479.4 258.1,477.7 258.6,476.2 259.0,475.0 259.5,474.1 259.9,473.6 260.3,473.5 260.8,473.8 261.2,474.5 261.6,475.6 262.1,477.0 262.5,478.5 262.9,480.2 263.4,481.9 263.8,483.5 264.2,484.9 264.7,485.9 265.1,486.7 265.6,487.0 266.0,486.9 266.4,486.4 266.9,485.4 267.3,484.2 267.7,482.7 268.2,481.1 268.6,479.4 269.0,477.7 269.5,476.2 269.9,475.0 270.3,474.1 270.8,473.6 271.2,473.5 271.7,473.8 272.1,474.5 272.5,475.6 273.0,477.0 273.4,478.5 273.8,480.2 274.3,481.9 274.7,483.5 275.1,484.9 275.6,485.9 276.0,486.7 276.4,487.0 276.9,486.9 277.3,486.4 277.8,485.4 278.2,484.2 278.6,482.7 279.1,481.1 279.5,479.4 279.9,477.7 280.4,476.2 280.8,475.0 281.2,474.1 281.7,473.6 282.1,473.5 282.5,473.8 283.0,474.5 283.4,475.6 283.9,477.0 284.3,478.5 284.7,480.2 285.2,481.9 285.6,483.5 286.0,484.9 286.5,485.9 286.9,486.7 287.3,487.0 287.8,486.9 288.2,486.4 288.7,485.4 289.1,484.2 289.5,482.7 290.0,481.1 290.4,479.4 290.8,477.7 291.3,476.2 291.7,475.0 292.1,474.1 292.6,473.6 293.0,473.5 293.4,473.8 293.9,474.5 294.3,475.6 294.8,477.0 295.2,478.5 295.6,480.2 296.1,481.9 296.5,483.5 296.9,484.9 297.4,485.9 297.8,486.7 298.2,487.0 298.7,486.9 299.1,486.4 299.5,485.4 300.0,484.2 300.4,482.7 300.9,481.1 301.3,479.4 301.7,477.7 302.2,476.2 302.6,475.0 303.0,474.1 303.5,473.6 303.9,473.5 304.3,473.8 304.8,474.5 305.2,475.6 305.6,477.0 306.1,478.5 306.5,480.2 307.0,481.9 307.4,483.5 307.8,484.9 308.3,485.9 308.7,486.7 309.1,487.0 309.6,486.9 310.0,486.4 310.4,485.4 310.9,484.2 311.3,482.7 311.7,481.1 312.2,479.4 312.6,477.7 313.1,476.2 313.5,475.0 313.9,474.1 314.4,473.6 314.8,473.5 315.2,473.8 315.7,474.5 316.1,475.6 316.5,477.0 317.0,478.5 317.4,480.2 317.8,481.9 318.3,483.5 318.7,484.9 319.2,485.9 319.6,486.7 320.0,487.0 320.5,486.9 320.9,486.4 321.3,485.4 321.8,484.2 322.2,482.7 322.6,481.1 323.1,479.4 323.5,477.7 323.9,476.2 324.4,475.0 324.8,474.1 325.3,473.6 325.7,473.5 326.1,473.8 326.6,474.5 327.0,475.6 327.4,477.0 327.9,478.5 328.3,480.2 328.7,481.9 329.2,483.5 329.6,484.9 330.0,485.9 330.5,486.7 330.9,487.0 331.4,486.9 331.8,486.4 332.2,485.4 332.7,484.2 333.1,482.7 333.5,481.1 334.0,479.4 334.4,477.7 334.8,476.2 335.3,475.0 335.7,474.1 336.1,473.6 336.6,473.5 337.0,473.8 337.5,474.5 337.9,475.6 338.3,477.0 338.8,478.5 339.2,480.2 339.6,481.9 340.1,483.5 340.5,484.9 340.9,485.9 341.4,486.7 341.8,487.0 342.2,486.9 342.7,486.4 343.1,485.4 343.6,484.2 344.0,482.7 344.4,481.1 344.9,479.4 345.3,477.7 345.7,476.2 346.2,475.0 346.6,474.1 347.0,473.6 347.5,473.5 347.9,473.8 348.3,474.5 348.8,475.6 349.2,477.0 349.7,478.5 350.1,480.2 350.5,481.9 351.0,483.5 351.4,484.9 351.8,485.9 352.3,486.7 352.7,487.0 353.1,486.9 353.6,486.4 354.0,485.4 354.4,484.2 354.9,482.7 355.3,481.1 355.8,479.4 356.2,477.7 356.6,476.2 357.1,475.0 357.5,474.1 357.9,473.6 358.4,473.5 358.8,473.8 359.2,474.5 359.7,475.6 360.1,477.0 360.5,478.5 361.0,480.2 361.4,481.9 361.9,483.5 362.3,484.9 362.7,485.9 363.2,486.7 363.6,487.0 364.0,486.9 364.5,486.4 364.9,485.4 365.3,484.2 365.8,482.7 366.2,481.1 366.6,479.4 367.1,477.7 367.5,476.2 368.0,475.0 368.4,474.1 368.8,473.6 369.3,473.5 369.7,473.8 370.1,474.5 370.6,475.6 371.0,477.0 371.4,478.5 371.9,480.2 372.3,481.9 372.8,483.5 373.2,484.9 373.6,485.9 374.1,486.7 374.5,487.0 374.9,486.9 375.4,486.4 375.8,485.4 376.2,484.2 376.7,482.7 377.1,481.1 377.5,479.4 378.0,477.7 378.4,476.2 378.9,475.0 379.3,474.1 379.7,473.6 380.2,473.5 380.6,473.8 381.0,474.5 381.5,475.6 381.9,477.0 382.3,478.5 382.8,480.2 383.2,481.9 383.6,483.5 384.1,484.9 384.5,485.9 385.0,486.7 385.4,487.0 385.8,486.9 386.3,486.4 386.7,485.4 387.1,484.2 387.6,482.7 388.0,481.1 388.4,479.4 388.9,477.7 389.3,476.2 389.7,475.0 390.2,474.1 390.6,473.6 391.1,473.5 391.5,473.8 391.9,474.5 392.4,475.6 392.8,477.0 393.2,478.5 393.7,480.2 394.1,481.9 394.5,483.5 395.0,484.9 395.4,485.9 395.8,486.7 396.3,487.0 396.7,486.9 397.2,486.4 397.6,485.4 398.0,484.2 398.5,482.7 398.9,481.1 399.3,479.4 399.8,477.7 400.2,476.2 400.6,475.0 401.1,474.1 401.5,473.6 401.9,473.5 402.4,473.8 402.8,474.5 403.3,475.6 403.7,477.0 404.1,478.5 404.6,480.2 405.0,481.9 405.4,483.5 405.9,484.9 406.3,485.9 406.7,486.7 407.2,487.0 407.6,486.9 408.0,486.4 408.5,485.4 408.9,484.2 409.4,482.7 409.8,481.1 410.2,479.4 410.7,477.7 411.1,476.2 411.5,475.0 412.0,474.1 412.4,473.6 412.8,473.5 413.3,473.8 413.7,474.5 414.1,475.6 414.6,477.0 415.0,478.5 415.5,480.2 415.9,481.9 416.3,483.5 416.8,484.9 417.2,485.9 417.6,486.7 418.1,487.0 418.5,486.9 418.9,486.4 419.4,485.4 419.8,484.2 420.2,482.7 420.7,481.1 421.1,479.4 421.6,477.7 422.0,476.2 422.4,475.0 422.9,474.1 423.3,473.6 423.7,473.5 424.2,473.8 424.6,474.5 425.0,475.6 425.5,477.0 425.9,478.5 426.3,480.2 426.8,481.9 427.2,483.5 427.7,484.9 428.1,485.9 428.5,486.7 429.0,487.0 429.4,486.9 429.8,486.4 430.3,485.4 430.7,484.2 431.1,482.7 431.6,481.1 432.0,479.4 432.4,477.7 432.9,476.2 433.3,475.0 433.8,474.1 434.2,473.6 434.6,473.5 435.1,473.8 435.5,474.5 435.9,475.6 436.4,477.0 436.8,478.5 437.2,480.2 437.7,481.9 438.1,483.5 438.5,484.9 439.0,485.9 439.4,486.7 439.9,487.0 440.3,486.9 440.7,486.4 441.2,485.4 441.6,484.2 442.0,482.7 442.5,481.1 442.9,479.4 443.3,477.7 443.8,476.2 444.2,475.0 444.6,474.1 445.1,473.6 445.5,473.5 446.0,473.8 446.4,474.5 446.8,475.6 447.3,477.0 447.7,478.5 448.1,480.2 448.6,481.9 449.0,483.5 449.4,484.9 449.9,485.9 450.3,486.7 450.7,487.0 451.2,486.9 451.6,486.4 452.1,485.4 452.5,484.2 452.9,482.7 453.4,481.1 453.8,479.4 454.2,477.7 454.7,476.2 455.1,475.0 455.5,474.1 456.0,473.6 456.4,473.5 456.8,473.8 457.3,474.5 457.7,475.6 458.2,477.0 458.6,478.5 459.0,480.2 459.5,481.9 459.9,483.5" stroke="#a05aa8" stroke-width="1.0" stroke-dasharray="1,2" fill="none"/>
<path d="M24.1,405.5 24.1,410.9 24.6,411.2 25.0,411.5 25.5,411.7 25.9,411.7 26.3,411.7 26.8,411.6 27.2,411.4 27.6,411.1 28.1,410.7 28.5,410.3 28.9,409.9 29.4,409.5 29.8,409.1 30.3,408.8 30.7,408.6 31.1,408.5 31.6,408.4 32.0,408.5 32.4,408.7 32.9,409.0 33.3,409.3 33.7,409.7 34.2,410.1 34.6,410.5 35.0,410.9 35.5,411.2 35.9,411.5 36.4,411.7 36.8,411.7 37.2,411.7 37.7,411.6 38.1,411.4 38.5,411.1 39.0,410.7 39.4,410.3 39.8,409.9 40.3,409.5 40.7,409.1 41.1,408.8 41.6,408.6 42.0,408.5 42.5,408.4 42.9,408.5 43.3,408.7 43.8,409.0 44.2,409.3 44.6,409.7 45.1,410.1 45.5,410.5 45.9,410.9 46.4,411.2 46.8,411.5 47.2,411.7 47.7,411.7 48.1,411.7 48.6,411.6 49.0,411.4 49.4,411.1 49.9,410.7 50.3,410.3 50.7,409.9 51.2,409.5 51.6,409.1 52.0,408.8 52.5,408.6 52.9,408.5 53.3,408.4 53.8,408.5 54.2,408.7 54.7,409.0 55.1,409.3 55.5,409.7 56.0,410.1 56.4,410.5 56.8,410.9 57.3,411.2 57.7,411.5 58.1,411.7 58.6,411.7 59.0,411.7 59.4,411.6 59.9,411.4 60.3,411.1 60.8,410.7 61.2,410.3 61.6,409.9 62.1,409.5 62.5,409.1 62.9,408.8 63.4,408.6 63.8,408.5 64.2,408.4 64.7,408.5 65.1,408.7 65.5,409.0 66.0,409.3 66.4,409.7 66.9,410.1 67.3,410.5 67.7,410.9 68.2,411.2 68.6,411.5 69.0,411.7 69.5,411.7 69.9,411.7 70.3,411.6 70.8,411.4 71.2,411.1 71.6,410.7 72.1,410.3 72.5,409.9 73.0,409.5 73.4,409.1 73.8,408.8 74.3,408.6 74.7,408.5 75.1,408.4 75.6,408.5 76.0,408.7 76.4,409.0 76.9,409.3 77.3,409.7 77.7,410.1 78.2,410.5 78.6,410.9 79.1,411.2 79.5,411.5 79.9,411.7 80.4,411.7 80.8,411.7 81.2,411.6 81.7,411.4 82.1,411.1 82.5,410.7 83.0,410.3 83.4,409.9 83.8,409.5 84.3,409.1 84.7,408.8 85.2,408.6 85.6,408.5 86.0,408.4 86.5,408.5 86.9,408.7 87.3,409.0 87.8,409.3 88.2,409.7 88.6,410.1 89.1,410.5 89.5,410.9 89.9,411.2 90.4,411.5 90.8,411.7 91.3,411.7 91.7,411.7 92.1,411.6 92.6,411.4 93.0,411.1 93.4,410.7 93.9,410.3 94.3,409.9 94.7,409.5 95.2,409.1 95.6,408.8 96.0,408.6 96.5,408.5 96.9,408.4 97.4,408.5 97.8,408.7 98.2,409.0 98.7,409.3 99.1,409.7 99.5,410.1 100.0,410.5 100.4,410.9 100.8,411.2 101.3,411.5 101.7,411.7 102.1,411.7 102.6,411.7 103.0,411.6 103.5,411.4 103.9,411.1 104.3,410.7 104.8,410.3 105.2,409.9 105.6,409.5 106.1,409.1 106.5,408.8 106.9,408.6 107.4,408.5 107.8,408.4 108.2,408.5 108.7,408.7 109.1,409.0 109.6,409.3 110.0,409.7 110.4,410.1 110.9,410.5 111.3,410.9 111.7,411.2 112.2,411.5 112.6,411.7 113.0,411.7 113.5,411.7 113.9,411.6 114.4,411.4 114.8,411.1 115.2,410.7 115.7,410.3 116.1,409.9 116.5,409.5 117.0,409.1 117.4,408.8 117.8,408.6 118.3,408.5 118.7,408.4 119.1,408.5 119.6,408.7 120.0,409.0 120.5,409.3 120.9,409.7 121.3,410.1 121.8,410.5 122.2,410.9 122.6,411.2 123.1,411.5 123.5,411.7 123.9,411.7 124.4,411.7 124.8,411.6 125.2,411.4 125.7,411.1 126.1,410.7 126.6,410.3 127.0,409.9 127.4,409.5 127.9,409.1 128.3,408.8 128.7,408.6 129.2,408.5 129.6,408.4 130.0,408.5 130.5,408.7 130.9,409.0 131.3,409.3 131.8,409.7 132.2,410.1 132.7,410.5 133.1,410.9 133.5,411.2 134.0,411.5 134.4,411.7 134.8,411.7 135.3,411.7 135.7,411.6 136.1,411.4 136.6,411.1 137.0,410.7 137.4,410.3 137.9,409.9 138.3,409.5 138.8,409.1 139.2,408.8 139.6,408.6 140.1,408.5 140.5,408.4 140.9,408.5 141.4,408.7 141.8,409.0 142.2,409.3 142.7,409.7 143.1,410.1 143.5,410.5 144.0,410.9 144.4,411.2 144.9,411.5 145.3,411.7 145.7,411.7 146.2,411.7 146.6,411.6 147.0,411.4 147.5,411.1 147.9,410.7 148.3,410.3 148.8,409.9 149.2,409.5 149.6,409.1 150.1,408.8 150.5,408.6 151.0,408.5 151.4,408.4 151.8,408.5 152.3,408.7 152.7,409.0 153.1,409.3 153.6,409.7 154.0,410.1 154.4,410.5 154.9,410.9 155.3,411.2 155.7,411.5 156.2,411.7 156.6,411.7 157.1,411.7 157.5,411.6 157.9,411.4 158.4,411.1 158.8,410.7 159.2,410.3 159.7,409.9 160.1,409.5 160.5,409.1 161.0,408.8 161.4,408.6 161.8,408.5 162.3,408.4 162.7,408.5 163.2,408.7 163.6,409.0 164.0,409.3 164.5,409.7 164.9,410.1 165.3,410.5 165.8,410.9 166.2,411.2 166.6,411.5 167.1,411.7 167.5,411.7 167.9,411.7 168.4,411.6 168.8,411.4 169.3,411.1 169.7,410.7 170.1,410.3 170.6,409.9 171.0,409.5 171.4,409.1 171.9,408.8 172.3,408.6 172.7,408.5 173.2,408.4 173.6,408.5 174.0,408.7 174.5,409.0 174.9,409.3 175.4,409.7 175.8,410.1 176.2,410.5 176.7,410.9 177.1,411.2 177.5,411.5 178.0,411.7 178.4,411.7 178.8,411.7 179.3,411.6 179.7,411.4 180.1,411.1 180.6,410.7 181.0,410.3 181.5,409.9 181.9,409.5 182.3,409.1 182.8,408.8 183.2,408.6 183.6,408.5 184.1,408.4 184.5,408.5 184.9,408.7 185.4,409.0 185.8,409.3 186.2,409.7 186.7,410.1 187.1,410.5 187.6,410.9 188.0,411.2 188.4,411.5 188.9,411.7 189.3,411.7 189.7,411.7 190.2,411.6 190.6,411.4 191.0,411.1 191.5,410.7 191.9,410.3 192.3,409.9 192.8,409.5 193.2,409.1 193.7,408.8 194.1,408.6 194.5,408.5 195.0,408.4 195.4,408.5 195.8,408.7 196.3,409.0 196.7,409.3 197.1,409.7 197.6,410.1 198.0,410.5 198.5,410.9 198.9,411.2 199.3,411.5 199.8,411.7 200.2,411.7 200.6,411.7 201.1,411.6 201.5,411.4 201.9,411.1 202.4,410.7 202.8,410.3 203.2,409.9 203.7,409.5 204.1,409.1 204.6,408.8 205.0,408.6 205.4,408.5 205.9,408.4 206.3,408.5 206.7,408.7 207.2,409.0 207.6,409.3 208.0,409.7 208.5,410.1 208.9,410.5 209.3,410.9 209.8,411.2 210.2,411.5 210.7,411.7 211.1,411.7 211.5,411.7 212.0,411.6 212.4,411.4 212.8,411.1 213.3,410.7 213.7,410.3 214.1,409.9 214.6,409.5 215.0,409.1 215.4,408.8 215.9,408.6 216.3,408.5 216.8,408.4 217.2,408.5 217.6,408.7 218.1,409.0 218.5,409.3 218.9,409.7 219.4,410.1 219.8,410.5 220.2,410.9 220.7,411.2 221.1,411.5 221.5,411.7 222.0,411.7 222.4,411.7 222.9,411.6 223.3,411.4 223.7,411.1 224.2,410.7 224.6,410.3 225.0,409.9 225.5,409.5 225.9,409.1 226.3,408.8 226.8,408.6 227.2,408.5 227.6,408.4 228.1,408.5 228.5,408.7 229.0,409.0 229.4,409.3 229.8,409.7 230.3,410.1 230.7,410.5 231.1,410.9 231.6,411.2 232.0,411.5 232.4,411.7 232.9,411.7 233.3,411.7 233.7,411.6 234.2,411.4 234.6,411.1 235.1,410.7 235.5,410.3 235.9,409.9 236.4,409.5 236.8,409.1 237.2,408.8 237.7,408.6 238.1,408.5 238.5,408.4 239.0,408.5 239.4,408.7 239.8,409.0 240.3,409.3 240.7,409.7 241.2,410.1 241.6,410.5 242.0,410.9 242.5,411.2 242.9,411.5 243.3,411.7 243.8,411.7 244.2,411.7 244.6,411.6 245.1,411.4 245.5,411.1 245.9,410.7 246.4,410.3 246.8,409.9 247.3,409.5 247.7,409.1 248.1,408.8 248.6,408.6 249.0,408.5 249.4,408.4 249.9,408.5 250.3,408.7 250.7,409.0 251.2,409.3 251.6,409.7 252.0,410.1 252.5,410.5 252.9,410.9 253.4,411.2 253.8,411.5 254.2,411.7 254.7,411.7 255.1,411.7 255.5,411.6 256.0,411.4 256.4,411.1 256.8,410.7 257.3,410.3 257.7,409.9 258.1,409.5 258.6,409.1 259.0,408.8 259.5,408.6 259.9,408.5 260.3,408.4 260.8,408.5 261.2,408.7 261.6,409.0 262.1,409.3 262.5,409.7 262.9,410.1 263.4,410.5 263.8,410.9 264.2,411.2 264.7,411.5 265.1,411.7 265.6,411.7 266.0,411.7 266.4,411.6 266.9,411.4 267.3,411.1 267.7,410.7 268.2,410.3 268.6,409.9 269.0,409.5 269.5,409.1 269.9,408.8 270.3,408.6 270.8,408.5 271.2,408.4 271.7,408.5 272.1,408.7 272.5,409.0 273.0,409.3 273.4,409.7 273.8,410.1 274.3,410.5 274.7,410.9 275.1,411.2 275.6,411.5 276.0,411.7 276.4,411.7 276.9,411.7 277.3,411.6 277.8,411.4 278.2,411.1 278.6,410.7 279.1,410.3 279.5,409.9 279.9,409.5 280.4,409.1 280.8,408.8 281.2,408.6 281.7,408.5 282.1,408.4 282.5,408.5 283.0,408.7 283.4,409.0 283.9,409.3 284.3,409.7 284.7,410.1 285.2,410.5 285.6,410.9 286.0,411.2 286.5,411.5 286.9,411.7 287.3,411.7 287.8,411.7 288.2,411.6 288.7,411.4 289.1,411.1 289.5,410.7 290.0,410.3 290.4,409.9 290.8,409.5 291.3,409.1 291.7,408.8 292.1,408.6 292.6,408.5 293.0,408.4 293.4,408.5 293.9,408.7 294.3,409.0 294.8,409.3 295.2,409.7 295.6,410.1 296.1,410.5 296.5,410.9 296.9,411.2 297.4,411.5 297.8,411.7 298.2,411.7 298.7,411.7 299.1,411.6 299.5,411.4 300.0,411.1 300.4,410.7 300.9,410.3 301.3,409.9 301.7,409.5 302.2,409.1 302.6,408.8 303.0,408.6 303.5,408.5 303.9,408.4 304.3,408.5 304.8,408.7 305.2,409.0 305.6,409.3 306.1,409.7 306.5,410.1 307.0,410.5 307.4,410.9 307.8,411.2 308.3,411.5 308.7,411.7 309.1,411.7 309.6,411.7 310.0,411.6 310.4,411.4 310.9,411.1 311.3,410.7 311.7,410.3 312.2,409.9 312.6,409.5 313.1,409.1 313.5,408.8 313.9,408.6 314.4,408.5 314.8,408.4 315.2,408.5 315.7,408.7 316.1,409.0 316.5,409.3 317.0,409.7 317.4,410.1 317.8,410.5 318.3,410.9 318.7,411.2 319.2,411.5 319.6,411.7 320.0,411.7 320.5,411.7 320.9,411.6 321.3,411.4 321.8,411.1 322.2,410.7 322.6,410.3 323.1,409.9 323.5,409.5 323.9,409.1 324.4,408.8 324.8,408.6 325.3,408.5 325.7,408.4 326.1,408.5 326.6,408.7 327.0,409.0 327.4,409.3 327.9,409.7 328.3,410.1 328.7,410.5 329.2,410.9 329.6,411.2 330.0,411.5 330.5,411.7 330.9,411.7 331.4,411.7 331.8,411.6 332.2,411.4 332.7,411.1 333.1,410.7 333.5,410.3 334.0,409.9 334.4,409.5 334.8,409.1 335.3,408.8 335.7,408.6 336.1,408.5 336.6,408.4 337.0,408.5 337.5,408.7 337.9,409.0 338.3,409.3 338.8,409.7 339.2,410.1 339.6,410.5 340.1,410.9 340.5,411.2 340.9,411.5 341.4,411.7 341.8,411.7 342.2,411.7 342.7,411.6 343.1,411.4 343.6,411.1 344.0,410.7 344.4,410.3 344.9,409.9 345.3,409.5 345.7,409.1 346.2,408.8 346.6,408.6 347.0,408.5 347.5,408.4 347.9,408.5 348.3,408.7 348.8,409.0 349.2,409.3 349.7,409.7 350.1,410.1 350.5,410.5 351.0,410.9 351.4,411.2 351.8,411.5 352.3,411.7 352.7,411.7 353.1,411.7 353.6,411.6 354.0,411.4 354.4,411.1 354.9,410.7 355.3,410.3 355.8,409.9 356.2,409.5 356.6,409.1 357.1,408.8 357.5,408.6 357.9,408.5 358.4,408.4 358.8,408.5 359.2,408.7 359.7,409.0 360.1,409.3 360.5,409.7 361.0,410.1 361.4,410.5 361.9,410.9 362.3,411.2 362.7,411.5 363.2,411.7 363.6,411.7 364.0,411.7 364.5,411.6 364.9,411.4 365.3,411.1 365.8,410.7 366.2,410.3 366.6,409.9 367.1,409.5 367.5,409.1 368.0,408.8 368.4,408.6 368.8,408.5 369.3,408.4 369.7,408.5 370.1,408.7 370.6,409.0 371.0,409.3 371.4,409.7 371.9,410.1 372.3,410.5 372.8,410.9 373.2,411.2 373.6,411.5 374.1,411.7 374.5,411.7 374.9,411.7 375.4,411.6 375.8,411.4 376.2,411.1 376.7,410.7 377.1,410.3 377.5,409.9 378.0,409.5 378.4,409.1 378.9,408.8 379.3,408.6 379.7,408.5 380.2,408.4 380.6,408.5 381.0,408.7 381.5,409.0 381.9,409.3 382.3,409.7 382.8,410.1 383.2,410.5 383.6,410.9 384.1,411.2 384.5,411.5 385.0,411.7 385.4,411.7 385.8,411.7 386.3,411.6 386.7,411.4 387.1,411.1 387.6,410.7 388.0,410.3 388.4,409.9 388.9,409.5 389.3,409.1 389.7,408.8 390.2,408.6 390.6,408.5 391.1,408.4 391.5,408.5 391.9,408.7 392.4,409.0 392.8,409.3 393.2,409.7 393.7,410.1 394.1,410.5 394.5,410.9 395.0,411.2 395.4,411.5 395.8,411.7 396.3,411.7 396.7,411.7 397.2,411.6 397.6,411.4 398.0,411.1 398.5,410.7 398.9,410.3 399.3,409.9 399.8,409.5 400.2,409.1 400.6,408.8 401.1,408.6 401.5,408.5 401.9,408.4 402.4,408.5 402.8,408.7 403.3,409.0 403.7,409.3 404.1,409.7 404.6,410.1 405.0,410.5 405.4,410.9 405.9,411.2 406.3,411.5 406.7,411.7 407.2,411.7 407.6,411.7 408.0,411.6 408.5,411.4 408.9,411.1 409.4,410.7 409.8,410.3 410.2,409.9 410.7,409.5 411.1,409.1 411.5,408.8 412.0,408.6 412.4,408.5 412.8,408.4 413.3,408.5 413.7,408.7 414.1,409.0 414.6,409.3 415.0,409.7 415.5,410.1 415.9,410.5 416.3,410.9 416.8,411.2 417.2,411.5 417.6,411.7 418.1,411.7 418.5,411.7 418.9,411.6 419.4,411.4 419.8,411.1 420.2,410.7 420.7,410.3 421.1,409.9 421.6,409.5 422.0,409.1 422.4,408.8 422.9,408.6 423.3,408.5 423.7,408.4 424.2,408.5 424.6,408.7 425.0,409.0 425.5,409.3 425.9,409.7 426.3,410.1 426.8,410.5 427.2,410.9 427.7,411.2 428.1,411.5 428.5,411.7 429.0,411.7 429.4,411.7 429.8,411.6 430.3,411.4 430.7,411.1 431.1,410.7 431.6,410.3 432.0,409.9 432.4,409.5 432.9,409.1 433.3,408.8 433.8,408.6 434.2,408.5 434.6,408.4 435.1,408.5 435.5,408.7 435.9,409.0 436.4,409.3 436.8,409.7 437.2,410.1 437.7,410.5 438.1,410.9 438.5,411.2 439.0,411.5 439.4,411.7 439.9,411.7 440.3,411.7 440.7,411.6 441.2,411.4 441.6,411.1 442.0,410.7 442.5,410.3 442.9,409.9 443.3,409.5 443.8,409.1 444.2,408.8 444.6,408.6 445.1,408.5 445.5,408.4 446.0,408.5 446.4,408.7 446.8,409.0 447.3,409.3 447.7,409.7 448.1,410.1 448.6,410.5 449.0,410.9 449.4,411.2 449.9,411.5 450.3,411.7 450.7,411.7 451.2,411.7 451.6,411.6 452.1,411.4 452.5,411.1 452.9,410.7 453.4,410.3 453.8,409.9 454.2,409.5 454.7,409.1 455.1,408.8 455.5,408.6 456.0,408.5 456.4,408.4 456.8,408.5 457.3,408.7 457.7,409.0 458.2,409.3 458.6,409.7 459.0,410.1 459.5,410.5 459.9,410.9" stroke="#1a1a92" stroke-width="1.25" fill="none" stroke-linejoin="round"/>
<path d="M24.1,406.4 24.6,406.5 25.0,406.5 25.5,406.5 25.9,406.6 26.3,406.5 26.8,406.5 27.2,406.5 27.6,406.4 28.1,406.4 28.5,406.3 28.9,406.2 29.4,406.1 29.8,406.1 30.3,406.0 30.7,406.0 31.1,406.0 31.6,406.0 32.0,406.0 32.4,406.0 32.9,406.0 33.3,406.1 33.7,406.2 34.2,406.3 34.6,406.3 35.0,406.4 35.5,406.5 35.9,406.5 36.4,406.5 36.8,406.6 37.2,406.5 37.7,406.5 38.1,406.5 38.5,406.4 39.0,406.4 39.4,406.3 39.8,406.2 40.3,406.1 40.7,406.1 41.1,406.0 41.6,406.0 42.0,406.0 42.5,406.0 42.9,406.0 43.3,406.0 43.8,406.0 44.2,406.1 44.6,406.2 45.1,406.3 45.5,406.3 45.9,406.4 46.4,406.5 46.8,406.5 47.2,406.5 47.7,406.6 48.1,406.5 48.6,406.5 49.0,406.5 49.4,406.4 49.9,406.4 50.3,406.3 50.7,406.2 51.2,406.1 51.6,406.1 52.0,406.0 52.5,406.0 52.9,406.0 53.3,406.0 53.8,406.0 54.2,406.0 54.7,406.0 55.1,406.1 55.5,406.2 56.0,406.3 56.4,406.3 56.8,406.4 57.3,406.5 57.7,406.5 58.1,406.5 58.6,406.6 59.0,406.5 59.4,406.5 59.9,406.5 60.3,406.4 60.8,406.4 61.2,406.3 61.6,406.2 62.1,406.1 62.5,406.1 62.9,406.0 63.4,406.0 63.8,406.0 64.2,406.0 64.7,406.0 65.1,406.0 65.5,406.0 66.0,406.1 66.4,406.2 66.9,406.3 67.3,406.3 67.7,406.4 68.2,406.5 68.6,406.5 69.0,406.5 69.5,406.6 69.9,406.5 70.3,406.5 70.8,406.5 71.2,406.4 71.6,406.4 72.1,406.3 72.5,406.2 73.0,406.1 73.4,406.1 73.8,406.0 74.3,406.0 74.7,406.0 75.1,406.0 75.6,406.0 76.0,406.0 76.4,406.0 76.9,406.1 77.3,406.2 77.7,406.3 78.2,406.3 78.6,406.4 79.1,406.5 79.5,406.5 79.9,406.5 80.4,406.6 80.8,406.5 81.2,406.5 81.7,406.5 82.1,406.4 82.5,406.4 83.0,406.3 83.4,406.2 83.8,406.1 84.3,406.1 84.7,406.0 85.2,406.0 85.6,406.0 86.0,406.0 86.5,406.0 86.9,406.0 87.3,406.0 87.8,406.1 88.2,406.2 88.6,406.3 89.1,406.3 89.5,406.4 89.9,406.5 90.4,406.5 90.8,406.5 91.3,406.6 91.7,406.5 92.1,406.5 92.6,406.5 93.0,406.4 93.4,406.4 93.9,406.3 94.3,406.2 94.7,406.1 95.2,406.1 95.6,406.0 96.0,406.0 96.5,406.0 96.9,406.0 97.4,406.0 97.8,406.0 98.2,406.0 98.7,406.1 99.1,406.2 99.5,406.3 100.0,406.3 100.4,406.4 100.8,406.5 101.3,406.5 101.7,406.5 102.1,406.6 102.6,406.5 103.0,406.5 103.5,406.5 103.9,406.4 104.3,406.4 104.8,406.3 105.2,406.2 105.6,406.1 106.1,406.1 106.5,406.0 106.9,406.0 107.4,406.0 107.8,406.0 108.2,406.0 108.7,406.0 109.1,406.0 109.6,406.1 110.0,406.2 110.4,406.3 110.9,406.3 111.3,406.4 111.7,406.5 112.2,406.5 112.6,406.5 113.0,406.6 113.5,406.5 113.9,406.5 114.4,406.5 114.8,406.4 115.2,406.4 115.7,406.3 116.1,406.2 116.5,406.1 117.0,406.1 117.4,406.0 117.8,406.0 118.3,406.0 118.7,406.0 119.1,406.0 119.6,406.0 120.0,406.0 120.5,406.1 120.9,406.2 121.3,406.3 121.8,406.3 122.2,406.4 122.6,406.5 123.1,406.5 123.5,406.5 123.9,406.6 124.4,406.5 124.8,406.5 125.2,406.5 125.7,406.4 126.1,406.4 126.6,406.3 127.0,406.2 127.4,406.1 127.9,406.1 128.3,406.0 128.7,406.0 129.2,406.0 129.6,406.0 130.0,406.0 130.5,406.0 130.9,406.0 131.3,406.1 131.8,406.2 132.2,406.3 132.7,406.3 133.1,406.4 133.5,406.5 134.0,406.5 134.4,406.5 134.8,406.6 135.3,406.5 135.7,406.5 136.1,406.5 136.6,406.4 137.0,406.4 137.4,406.3 137.9,406.2 138.3,406.1 138.8,406.1 139.2,406.0 139.6,406.0 140.1,406.0 140.5,406.0 140.9,406.0 141.4,406.0 141.8,406.0 142.2,406.1 142.7,406.2 143.1,406.3 143.5,406.3 144.0,406.4 144.4,406.5 144.9,406.5 145.3,406.5 145.7,406.6 146.2,406.5 146.6,406.5 147.0,406.5 147.5,406.4 147.9,406.4 148.3,406.3 148.8,406.2 149.2,406.1 149.6,406.1 150.1,406.0 150.5,406.0 151.0,406.0 151.4,406.0 151.8,406.0 152.3,406.0 152.7,406.0 153.1,406.1 153.6,406.2 154.0,406.3 154.4,406.3 154.9,406.4 155.3,406.5 155.7,406.5 156.2,406.5 156.6,406.6 157.1,406.5 157.5,406.5 157.9,406.5 158.4,406.4 158.8,406.4 159.2,406.3 159.7,406.2 160.1,406.1 160.5,406.1 161.0,406.0 161.4,406.0 161.8,406.0 162.3,406.0 162.7,406.0 163.2,406.0 163.6,406.0 164.0,406.1 164.5,406.2 164.9,406.3 165.3,406.3 165.8,406.4 166.2,406.5 166.6,406.5 167.1,406.5 167.5,406.6 167.9,406.5 168.4,406.5 168.8,406.5 169.3,406.4 169.7,406.4 170.1,406.3 170.6,406.2 171.0,406.1 171.4,406.1 171.9,406.0 172.3,406.0 172.7,406.0 173.2,406.0 173.6,406.0 174.0,406.0 174.5,406.0 174.9,406.1 175.4,406.2 175.8,406.3 176.2,406.3 176.7,406.4 177.1,406.5 177.5,406.5 178.0,406.5 178.4,406.6 178.8,406.5 179.3,406.5 179.7,406.5 180.1,406.4 180.6,406.4 181.0,406.3 181.5,406.2 181.9,406.1 182.3,406.1 182.8,406.0 183.2,406.0 183.6,406.0 184.1,406.0 184.5,406.0 184.9,406.0 185.4,406.0 185.8,406.1 186.2,406.2 186.7,406.3 187.1,406.3 187.6,406.4 188.0,406.5 188.4,406.5 188.9,406.5 189.3,406.6 189.7,406.5 190.2,406.5 190.6,406.5 191.0,406.4 191.5,406.4 191.9,406.3 192.3,406.2 192.8,406.1 193.2,406.1 193.7,406.0 194.1,406.0 194.5,406.0 195.0,406.0 195.4,406.0 195.8,406.0 196.3,406.0 196.7,406.1 197.1,406.2 197.6,406.3 198.0,406.3 198.5,406.4 198.9,406.5 199.3,406.5 199.8,406.5 200.2,406.6 200.6,406.5 201.1,406.5 201.5,406.5 201.9,406.4 202.4,406.4 202.8,406.3 203.2,406.2 203.7,406.1 204.1,406.1 204.6,406.0 205.0,406.0 205.4,406.0 205.9,406.0 206.3,406.0 206.7,406.0 207.2,406.0 207.6,406.1 208.0,406.2 208.5,406.3 208.9,406.3 209.3,406.4 209.8,406.5 210.2,406.5 210.7,406.5 211.1,406.6 211.5,406.5 212.0,406.5 212.4,406.5 212.8,406.4 213.3,406.4 213.7,406.3 214.1,406.2 214.6,406.1 215.0,406.1 215.4,406.0 215.9,406.0 216.3,406.0 216.8,406.0 217.2,406.0 217.6,406.0 218.1,406.0 218.5,406.1 218.9,406.2 219.4,406.3 219.8,406.3 220.2,406.4 220.7,406.5 221.1,406.5 221.5,406.5 222.0,406.6 222.4,406.5 222.9,406.5 223.3,406.5 223.7,406.4 224.2,406.4 224.6,406.3 225.0,406.2 225.5,406.1 225.9,406.1 226.3,406.0 226.8,406.0 227.2,406.0 227.6,406.0 228.1,406.0 228.5,406.0 229.0,406.0 229.4,406.1 229.8,406.2 230.3,406.3 230.7,406.3 231.1,406.4 231.6,406.5 232.0,406.5 232.4,406.5 232.9,406.6 233.3,406.5 233.7,406.5 234.2,406.5 234.6,406.4 235.1,406.4 235.5,406.3 235.9,406.2 236.4,406.1 236.8,406.1 237.2,406.0 237.7,406.0 238.1,406.0 238.5,406.0 239.0,406.0 239.4,406.0 239.8,406.0 240.3,406.1 240.7,406.2 241.2,406.3 241.6,406.3 242.0,406.4 242.5,406.5 242.9,406.5 243.3,406.5 243.8,406.6 244.2,406.5 244.6,406.5 245.1,406.5 245.5,406.4 245.9,406.4 246.4,406.3 246.8,406.2 247.3,406.1 247.7,406.1 248.1,406.0 248.6,406.0 249.0,406.0 249.4,406.0 249.9,406.0 250.3,406.0 250.7,406.0 251.2,406.1 251.6,406.2 252.0,406.3 252.5,406.3 252.9,406.4 253.4,406.5 253.8,406.5 254.2,406.5 254.7,406.6 255.1,406.5 255.5,406.5 256.0,406.5 256.4,406.4 256.8,406.4 257.3,406.3 257.7,406.2 258.1,406.1 258.6,406.1 259.0,406.0 259.5,406.0 259.9,406.0 260.3,406.0 260.8,406.0 261.2,406.0 261.6,406.0 262.1,406.1 262.5,406.2 262.9,406.3 263.4,406.3 263.8,406.4 264.2,406.5 264.7,406.5 265.1,406.5 265.6,406.6 266.0,406.5 266.4,406.5 266.9,406.5 267.3,406.4 267.7,406.4 268.2,406.3 268.6,406.2 269.0,406.1 269.5,406.1 269.9,406.0 270.3,406.0 270.8,406.0 271.2,406.0 271.7,406.0 272.1,406.0 272.5,406.0 273.0,406.1 273.4,406.2 273.8,406.3 274.3,406.3 274.7,406.4 275.1,406.5 275.6,406.5 276.0,406.5 276.4,406.6 276.9,406.5 277.3,406.5 277.8,406.5 278.2,406.4 278.6,406.4 279.1,406.3 279.5,406.2 279.9,406.1 280.4,406.1 280.8,406.0 281.2,406.0 281.7,406.0 282.1,406.0 282.5,406.0 283.0,406.0 283.4,406.0 283.9,406.1 284.3,406.2 284.7,406.3 285.2,406.3 285.6,406.4 286.0,406.5 286.5,406.5 286.9,406.5 287.3,406.6 287.8,406.5 288.2,406.5 288.7,406.5 289.1,406.4 289.5,406.4 290.0,406.3 290.4,406.2 290.8,406.1 291.3,406.1 291.7,406.0 292.1,406.0 292.6,406.0 293.0,406.0 293.4,406.0 293.9,406.0 294.3,406.0 294.8,406.1 295.2,406.2 295.6,406.3 296.1,406.3 296.5,406.4 296.9,406.5 297.4,406.5 297.8,406.5 298.2,406.6 298.7,406.5 299.1,406.5 299.5,406.5 300.0,406.4 300.4,406.4 300.9,406.3 301.3,406.2 301.7,406.1 302.2,406.1 302.6,406.0 303.0,406.0 303.5,406.0 303.9,406.0 304.3,406.0 304.8,406.0 305.2,406.0 305.6,406.1 306.1,406.2 306.5,406.3 307.0,406.3 307.4,406.4 307.8,406.5 308.3,406.5 308.7,406.5 309.1,406.6 309.6,406.5 310.0,406.5 310.4,406.5 310.9,406.4 311.3,406.4 311.7,406.3 312.2,406.2 312.6,406.1 313.1,406.1 313.5,406.0 313.9,406.0 314.4,406.0 314.8,406.0 315.2,406.0 315.7,406.0 316.1,406.0 316.5,406.1 317.0,406.2 317.4,406.3 317.8,406.3 318.3,406.4 318.7,406.5 319.2,406.5 319.6,406.5 320.0,406.6 320.5,406.5 320.9,406.5 321.3,406.5 321.8,406.4 322.2,406.4 322.6,406.3 323.1,406.2 323.5,406.1 323.9,406.1 324.4,406.0 324.8,406.0 325.3,406.0 325.7,406.0 326.1,406.0 326.6,406.0 327.0,406.0 327.4,406.1 327.9,406.2 328.3,406.3 328.7,406.3 329.2,406.4 329.6,406.5 330.0,406.5 330.5,406.5 330.9,406.6 331.4,406.5 331.8,406.5 332.2,406.5 332.7,406.4 333.1,406.4 333.5,406.3 334.0,406.2 334.4,406.1 334.8,406.1 335.3,406.0 335.7,406.0 336.1,406.0 336.6,406.0 337.0,406.0 337.5,406.0 337.9,406.0 338.3,406.1 338.8,406.2 339.2,406.3 339.6,406.3 340.1,406.4 340.5,406.5 340.9,406.5 341.4,406.5 341.8,406.6 342.2,406.5 342.7,406.5 343.1,406.5 343.6,406.4 344.0,406.4 344.4,406.3 344.9,406.2 345.3,406.1 345.7,406.1 346.2,406.0 346.6,406.0 347.0,406.0 347.5,406.0 347.9,406.0 348.3,406.0 348.8,406.0 349.2,406.1 349.7,406.2 350.1,406.3 350.5,406.3 351.0,406.4 351.4,406.5 351.8,406.5 352.3,406.5 352.7,406.6 353.1,406.5 353.6,406.5 354.0,406.5 354.4,406.4 354.9,406.4 355.3,406.3 355.8,406.2 356.2,406.1 356.6,406.1 357.1,406.0 357.5,406.0 357.9,406.0 358.4,406.0 358.8,406.0 359.2,406.0 359.7,406.0 360.1,406.1 360.5,406.2 361.0,406.3 361.4,406.3 361.9,406.4 362.3,406.5 362.7,406.5 363.2,406.5 363.6,406.6 364.0,406.5 364.5,406.5 364.9,406.5 365.3,406.4 365.8,406.4 366.2,406.3 366.6,406.2 367.1,406.1 367.5,406.1 368.0,406.0 368.4,406.0 368.8,406.0 369.3,406.0 369.7,406.0 370.1,406.0 370.6,406.0 371.0,406.1 371.4,406.2 371.9,406.3 372.3,406.3 372.8,406.4 373.2,406.5 373.6,406.5 374.1,406.5 374.5,406.6 374.9,406.5 375.4,406.5 375.8,406.5 376.2,406.4 376.7,406.4 377.1,406.3 377.5,406.2 378.0,406.1 378.4,406.1 378.9,406.0 379.3,406.0 379.7,406.0 380.2,406.0 380.6,406.0 381.0,406.0 381.5,406.0 381.9,406.1 382.3,406.2 382.8,406.3 383.2,406.3 383.6,406.4 384.1,406.5 384.5,406.5 385.0,406.5 385.4,406.6 385.8,406.5 386.3,406.5 386.7,406.5 387.1,406.4 387.6,406.4 388.0,406.3 388.4,406.2 388.9,406.1 389.3,406.1 389.7,406.0 390.2,406.0 390.6,406.0 391.1,406.0 391.5,406.0 391.9,406.0 392.4,406.0 392.8,406.1 393.2,406.2 393.7,406.3 394.1,406.3 394.5,406.4 395.0,406.5 395.4,406.5 395.8,406.5 396.3,406.6 396.7,406.5 397.2,406.5 397.6,406.5 398.0,406.4 398.5,406.4 398.9,406.3 399.3,406.2 399.8,406.1 400.2,406.1 400.6,406.0 401.1,406.0 401.5,406.0 401.9,406.0 402.4,406.0 402.8,406.0 403.3,406.0 403.7,406.1 404.1,406.2 404.6,406.3 405.0,406.3 405.4,406.4 405.9,406.5 406.3,406.5 406.7,406.5 407.2,406.6 407.6,406.5 408.0,406.5 408.5,406.5 408.9,406.4 409.4,406.4 409.8,406.3 410.2,406.2 410.7,406.1 411.1,406.1 411.5,406.0 412.0,406.0 412.4,406.0 412.8,406.0 413.3,406.0 413.7,406.0 414.1,406.0 414.6,406.1 415.0,406.2 415.5,406.3 415.9,406.3 416.3,406.4 416.8,406.5 417.2,406.5 417.6,406.5 418.1,406.6 418.5,406.5 418.9,406.5 419.4,406.5 419.8,406.4 420.2,406.4 420.7,406.3 421.1,406.2 421.6,406.1 422.0,406.1 422.4,406.0 422.9,406.0 423.3,406.0 423.7,406.0 424.2,406.0 424.6,406.0 425.0,406.0 425.5,406.1 425.9,406.2 426.3,406.3 426.8,406.3 427.2,406.4 427.7,406.5 428.1,406.5 428.5,406.5 429.0,406.6 429.4,406.5 429.8,406.5 430.3,406.5 430.7,406.4 431.1,406.4 431.6,406.3 432.0,406.2 432.4,406.1 432.9,406.1 433.3,406.0 433.8,406.0 434.2,406.0 434.6,406.0 435.1,406.0 435.5,406.0 435.9,406.0 436.4,406.1 436.8,406.2 437.2,406.3 437.7,406.3 438.1,406.4 438.5,406.5 439.0,406.5 439.4,406.5 439.9,406.6 440.3,406.5 440.7,406.5 441.2,406.5 441.6,406.4 442.0,406.4 442.5,406.3 442.9,406.2 443.3,406.1 443.8,406.1 444.2,406.0 444.6,406.0 445.1,406.0 445.5,406.0 446.0,406.0 446.4,406.0 446.8,406.0 447.3,406.1 447.7,406.2 448.1,406.3 448.6,406.3 449.0,406.4 449.4,406.5 449.9,406.5 450.3,406.5 450.7,406.6 451.2,406.5 451.6,406.5 452.1,406.5 452.5,406.4 452.9,406.4 453.4,406.3 453.8,406.2 454.2,406.1 454.7,406.1 455.1,406.0 455.5,406.0 456.0,406.0 456.4,406.0 456.8,406.0 457.3,406.0 457.7,406.0 458.2,406.1 458.6,406.2 459.0,406.3 459.5,406.3 459.9,406.4" stroke="#b03a2a" stroke-width="1.2" fill="none" stroke-linejoin="round" stroke-dasharray="2,1.5"/>
<path d="M24.1,405.8 24.6,405.9 25.0,406.0 25.5,406.0 25.9,406.0 26.3,406.0 26.8,406.0 27.2,405.9 27.6,405.8 28.1,405.7 28.5,405.6 28.9,405.5 29.4,405.4 29.8,405.3 30.3,405.2 30.7,405.2 31.1,405.1 31.6,405.1 32.0,405.1 32.4,405.2 32.9,405.3 33.3,405.4 33.7,405.5 34.2,405.6 34.6,405.7 35.0,405.8 35.5,405.9 35.9,406.0 36.4,406.0 36.8,406.0 37.2,406.0 37.7,406.0 38.1,405.9 38.5,405.8 39.0,405.7 39.4,405.6 39.8,405.5 40.3,405.4 40.7,405.3 41.1,405.2 41.6,405.2 42.0,405.1 42.5,405.1 42.9,405.1 43.3,405.2 43.8,405.3 44.2,405.4 44.6,405.5 45.1,405.6 45.5,405.7 45.9,405.8 46.4,405.9 46.8,406.0 47.2,406.0 47.7,406.0 48.1,406.0 48.6,406.0 49.0,405.9 49.4,405.8 49.9,405.7 50.3,405.6 50.7,405.5 51.2,405.4 51.6,405.3 52.0,405.2 52.5,405.2 52.9,405.1 53.3,405.1 53.8,405.1 54.2,405.2 54.7,405.3 55.1,405.4 55.5,405.5 56.0,405.6 56.4,405.7 56.8,405.8 57.3,405.9 57.7,406.0 58.1,406.0 58.6,406.0 59.0,406.0 59.4,406.0 59.9,405.9 60.3,405.8 60.8,405.7 61.2,405.6 61.6,405.5 62.1,405.4 62.5,405.3 62.9,405.2 63.4,405.2 63.8,405.1 64.2,405.1 64.7,405.1 65.1,405.2 65.5,405.3 66.0,405.4 66.4,405.5 66.9,405.6 67.3,405.7 67.7,405.8 68.2,405.9 68.6,406.0 69.0,406.0 69.5,406.0 69.9,406.0 70.3,406.0 70.8,405.9 71.2,405.8 71.6,405.7 72.1,405.6 72.5,405.5 73.0,405.4 73.4,405.3 73.8,405.2 74.3,405.2 74.7,405.1 75.1,405.1 75.6,405.1 76.0,405.2 76.4,405.3 76.9,405.4 77.3,405.5 77.7,405.6 78.2,405.7 78.6,405.8 79.1,405.9 79.5,406.0 79.9,406.0 80.4,406.0 80.8,406.0 81.2,406.0 81.7,405.9 82.1,405.8 82.5,405.7 83.0,405.6 83.4,405.5 83.8,405.4 84.3,405.3 84.7,405.2 85.2,405.2 85.6,405.1 86.0,405.1 86.5,405.1 86.9,405.2 87.3,405.3 87.8,405.4 88.2,405.5 88.6,405.6 89.1,405.7 89.5,405.8 89.9,405.9 90.4,406.0 90.8,406.0 91.3,406.0 91.7,406.0 92.1,406.0 92.6,405.9 93.0,405.8 93.4,405.7 93.9,405.6 94.3,405.5 94.7,405.4 95.2,405.3 95.6,405.2 96.0,405.2 96.5,405.1 96.9,405.1 97.4,405.1 97.8,405.2 98.2,405.3 98.7,405.4 99.1,405.5 99.5,405.6 100.0,405.7 100.4,405.8 100.8,405.9 101.3,406.0 101.7,406.0 102.1,406.0 102.6,406.0 103.0,406.0 103.5,405.9 103.9,405.8 104.3,405.7 104.8,405.6 105.2,405.5 105.6,405.4 106.1,405.3 106.5,405.2 106.9,405.2 107.4,405.1 107.8,405.1 108.2,405.1 108.7,405.2 109.1,405.3 109.6,405.4 110.0,405.5 110.4,405.6 110.9,405.7 111.3,405.8 111.7,405.9 112.2,406.0 112.6,406.0 113.0,406.0 113.5,406.0 113.9,406.0 114.4,405.9 114.8,405.8 115.2,405.7 115.7,405.6 116.1,405.5 116.5,405.4 117.0,405.3 117.4,405.2 117.8,405.2 118.3,405.1 118.7,405.1 119.1,405.1 119.6,405.2 120.0,405.3 120.5,405.4 120.9,405.5 121.3,405.6 121.8,405.7 122.2,405.8 122.6,405.9 123.1,406.0 123.5,406.0 123.9,406.0 124.4,406.0 124.8,406.0 125.2,405.9 125.7,405.8 126.1,405.7 126.6,405.6 127.0,405.5 127.4,405.4 127.9,405.3 128.3,405.2 128.7,405.2 129.2,405.1 129.6,405.1 130.0,405.1 130.5,405.2 130.9,405.3 131.3,405.4 131.8,405.5 132.2,405.6 132.7,405.7 133.1,405.8 133.5,405.9 134.0,406.0 134.4,406.0 134.8,406.0 135.3,406.0 135.7,406.0 136.1,405.9 136.6,405.8 137.0,405.7 137.4,405.6 137.9,405.5 138.3,405.4 138.8,405.3 139.2,405.2 139.6,405.2 140.1,405.1 140.5,405.1 140.9,405.1 141.4,405.2 141.8,405.3 142.2,405.4 142.7,405.5 143.1,405.6 143.5,405.7 144.0,405.8 144.4,405.9 144.9,406.0 145.3,406.0 145.7,406.0 146.2,406.0 146.6,406.0 147.0,405.9 147.5,405.8 147.9,405.7 148.3,405.6 148.8,405.5 149.2,405.4 149.6,405.3 150.1,405.2 150.5,405.2 151.0,405.1 151.4,405.1 151.8,405.1 152.3,405.2 152.7,405.3 153.1,405.4 153.6,405.5 154.0,405.6 154.4,405.7 154.9,405.8 155.3,405.9 155.7,406.0 156.2,406.0 156.6,406.0 157.1,406.0 157.5,406.0 157.9,405.9 158.4,405.8 158.8,405.7 159.2,405.6 159.7,405.5 160.1,405.4 160.5,405.3 161.0,405.2 161.4,405.2 161.8,405.1 162.3,405.1 162.7,405.1 163.2,405.2 163.6,405.3 164.0,405.4 164.5,405.5 164.9,405.6 165.3,405.7 165.8,405.8 166.2,405.9 166.6,406.0 167.1,406.0 167.5,406.0 167.9,406.0 168.4,406.0 168.8,405.9 169.3,405.8 169.7,405.7 170.1,405.6 170.6,405.5 171.0,405.4 171.4,405.3 171.9,405.2 172.3,405.2 172.7,405.1 173.2,405.1 173.6,405.1 174.0,405.2 174.5,405.3 174.9,405.4 175.4,405.5 175.8,405.6 176.2,405.7 176.7,405.8 177.1,405.9 177.5,406.0 178.0,406.0 178.4,406.0 178.8,406.0 179.3,406.0 179.7,405.9 180.1,405.8 180.6,405.7 181.0,405.6 181.5,405.5 181.9,405.4 182.3,405.3 182.8,405.2 183.2,405.2 183.6,405.1 184.1,405.1 184.5,405.1 184.9,405.2 185.4,405.3 185.8,405.4 186.2,405.5 186.7,405.6 187.1,405.7 187.6,405.8 188.0,405.9 188.4,406.0 188.9,406.0 189.3,406.0 189.7,406.0 190.2,406.0 190.6,405.9 191.0,405.8 191.5,405.7 191.9,405.6 192.3,405.5 192.8,405.4 193.2,405.3 193.7,405.2 194.1,405.2 194.5,405.1 195.0,405.1 195.4,405.1 195.8,405.2 196.3,405.3 196.7,405.4 197.1,405.5 197.6,405.6 198.0,405.7 198.5,405.8 198.9,405.9 199.3,406.0 199.8,406.0 200.2,406.0 200.6,406.0 201.1,406.0 201.5,405.9 201.9,405.8 202.4,405.7 202.8,405.6 203.2,405.5 203.7,405.4 204.1,405.3 204.6,405.2 205.0,405.2 205.4,405.1 205.9,405.1 206.3,405.1 206.7,405.2 207.2,405.3 207.6,405.4 208.0,405.5 208.5,405.6 208.9,405.7 209.3,405.8 209.8,405.9 210.2,406.0 210.7,406.0 211.1,406.0 211.5,406.0 212.0,406.0 212.4,405.9 212.8,405.8 213.3,405.7 213.7,405.6 214.1,405.5 214.6,405.4 215.0,405.3 215.4,405.2 215.9,405.2 216.3,405.1 216.8,405.1 217.2,405.1 217.6,405.2 218.1,405.3 218.5,405.4 218.9,405.5 219.4,405.6 219.8,405.7 220.2,405.8 220.7,405.9 221.1,406.0 221.5,406.0 222.0,406.0 222.4,406.0 222.9,406.0 223.3,405.9 223.7,405.8 224.2,405.7 224.6,405.6 225.0,405.5 225.5,405.4 225.9,405.3 226.3,405.2 226.8,405.2 227.2,405.1 227.6,405.1 228.1,405.1 228.5,405.2 229.0,405.3 229.4,405.4 229.8,405.5 230.3,405.6 230.7,405.7 231.1,405.8 231.6,405.9 232.0,406.0 232.4,406.0 232.9,406.0 233.3,406.0 233.7,406.0 234.2,405.9 234.6,405.8 235.1,405.7 235.5,405.6 235.9,405.5 236.4,405.4 236.8,405.3 237.2,405.2 237.7,405.2 238.1,405.1 238.5,405.1 239.0,405.1 239.4,405.2 239.8,405.3 240.3,405.4 240.7,405.5 241.2,405.6 241.6,405.7 242.0,405.8 242.5,405.9 242.9,406.0 243.3,406.0 243.8,406.0 244.2,406.0 244.6,406.0 245.1,405.9 245.5,405.8 245.9,405.7 246.4,405.6 246.8,405.5 247.3,405.4 247.7,405.3 248.1,405.2 248.6,405.2 249.0,405.1 249.4,405.1 249.9,405.1 250.3,405.2 250.7,405.3 251.2,405.4 251.6,405.5 252.0,405.6 252.5,405.7 252.9,405.8 253.4,405.9 253.8,406.0 254.2,406.0 254.7,406.0 255.1,406.0 255.5,406.0 256.0,405.9 256.4,405.8 256.8,405.7 257.3,405.6 257.7,405.5 258.1,405.4 258.6,405.3 259.0,405.2 259.5,405.2 259.9,405.1 260.3,405.1 260.8,405.1 261.2,405.2 261.6,405.3 262.1,405.4 262.5,405.5 262.9,405.6 263.4,405.7 263.8,405.8 264.2,405.9 264.7,406.0 265.1,406.0 265.6,406.0 266.0,406.0 266.4,406.0 266.9,405.9 267.3,405.8 267.7,405.7 268.2,405.6 268.6,405.5 269.0,405.4 269.5,405.3 269.9,405.2 270.3,405.2 270.8,405.1 271.2,405.1 271.7,405.1 272.1,405.2 272.5,405.3 273.0,405.4 273.4,405.5 273.8,405.6 274.3,405.7 274.7,405.8 275.1,405.9 275.6,406.0 276.0,406.0 276.4,406.0 276.9,406.0 277.3,406.0 277.8,405.9 278.2,405.8 278.6,405.7 279.1,405.6 279.5,405.5 279.9,405.4 280.4,405.3 280.8,405.2 281.2,405.2 281.7,405.1 282.1,405.1 282.5,405.1 283.0,405.2 283.4,405.3 283.9,405.4 284.3,405.5 284.7,405.6 285.2,405.7 285.6,405.8 286.0,405.9 286.5,406.0 286.9,406.0 287.3,406.0 287.8,406.0 288.2,406.0 288.7,405.9 289.1,405.8 289.5,405.7 290.0,405.6 290.4,405.5 290.8,405.4 291.3,405.3 291.7,405.2 292.1,405.2 292.6,405.1 293.0,405.1 293.4,405.1 293.9,405.2 294.3,405.3 294.8,405.4 295.2,405.5 295.6,405.6 296.1,405.7 296.5,405.8 296.9,405.9 297.4,406.0 297.8,406.0 298.2,406.0 298.7,406.0 299.1,406.0 299.5,405.9 300.0,405.8 300.4,405.7 300.9,405.6 301.3,405.5 301.7,405.4 302.2,405.3 302.6,405.2 303.0,405.2 303.5,405.1 303.9,405.1 304.3,405.1 304.8,405.2 305.2,405.3 305.6,405.4 306.1,405.5 306.5,405.6 307.0,405.7 307.4,405.8 307.8,405.9 308.3,406.0 308.7,406.0 309.1,406.0 309.6,406.0 310.0,406.0 310.4,405.9 310.9,405.8 311.3,405.7 311.7,405.6 312.2,405.5 312.6,405.4 313.1,405.3 313.5,405.2 313.9,405.2 314.4,405.1 314.8,405.1 315.2,405.1 315.7,405.2 316.1,405.3 316.5,405.4 317.0,405.5 317.4,405.6 317.8,405.7 318.3,405.8 318.7,405.9 319.2,406.0 319.6,406.0 320.0,406.0 320.5,406.0 320.9,406.0 321.3,405.9 321.8,405.8 322.2,405.7 322.6,405.6 323.1,405.5 323.5,405.4 323.9,405.3 324.4,405.2 324.8,405.2 325.3,405.1 325.7,405.1 326.1,405.1 326.6,405.2 327.0,405.3 327.4,405.4 327.9,405.5 328.3,405.6 328.7,405.7 329.2,405.8 329.6,405.9 330.0,406.0 330.5,406.0 330.9,406.0 331.4,406.0 331.8,406.0 332.2,405.9 332.7,405.8 333.1,405.7 333.5,405.6 334.0,405.5 334.4,405.4 334.8,405.3 335.3,405.2 335.7,405.2 336.1,405.1 336.6,405.1 337.0,405.1 337.5,405.2 337.9,405.3 338.3,405.4 338.8,405.5 339.2,405.6 339.6,405.7 340.1,405.8 340.5,405.9 340.9,406.0 341.4,406.0 341.8,406.0 342.2,406.0 342.7,406.0 343.1,405.9 343.6,405.8 344.0,405.7 344.4,405.6 344.9,405.5 345.3,405.4 345.7,405.3 346.2,405.2 346.6,405.2 347.0,405.1 347.5,405.1 347.9,405.1 348.3,405.2 348.8,405.3 349.2,405.4 349.7,405.5 350.1,405.6 350.5,405.7 351.0,405.8 351.4,405.9 351.8,406.0 352.3,406.0 352.7,406.0 353.1,406.0 353.6,406.0 354.0,405.9 354.4,405.8 354.9,405.7 355.3,405.6 355.8,405.5 356.2,405.4 356.6,405.3 357.1,405.2 357.5,405.2 357.9,405.1 358.4,405.1 358.8,405.1 359.2,405.2 359.7,405.3 360.1,405.4 360.5,405.5 361.0,405.6 361.4,405.7 361.9,405.8 362.3,405.9 362.7,406.0 363.2,406.0 363.6,406.0 364.0,406.0 364.5,406.0 364.9,405.9 365.3,405.8 365.8,405.7 366.2,405.6 366.6,405.5 367.1,405.4 367.5,405.3 368.0,405.2 368.4,405.2 368.8,405.1 369.3,405.1 369.7,405.1 370.1,405.2 370.6,405.3 371.0,405.4 371.4,405.5 371.9,405.6 372.3,405.7 372.8,405.8 373.2,405.9 373.6,406.0 374.1,406.0 374.5,406.0 374.9,406.0 375.4,406.0 375.8,405.9 376.2,405.8 376.7,405.7 377.1,405.6 377.5,405.5 378.0,405.4 378.4,405.3 378.9,405.2 379.3,405.2 379.7,405.1 380.2,405.1 380.6,405.1 381.0,405.2 381.5,405.3 381.9,405.4 382.3,405.5 382.8,405.6 383.2,405.7 383.6,405.8 384.1,405.9 384.5,406.0 385.0,406.0 385.4,406.0 385.8,406.0 386.3,406.0 386.7,405.9 387.1,405.8 387.6,405.7 388.0,405.6 388.4,405.5 388.9,405.4 389.3,405.3 389.7,405.2 390.2,405.2 390.6,405.1 391.1,405.1 391.5,405.1 391.9,405.2 392.4,405.3 392.8,405.4 393.2,405.5 393.7,405.6 394.1,405.7 394.5,405.8 395.0,405.9 395.4,406.0 395.8,406.0 396.3,406.0 396.7,406.0 397.2,406.0 397.6,405.9 398.0,405.8 398.5,405.7 398.9,405.6 399.3,405.5 399.8,405.4 400.2,405.3 400.6,405.2 401.1,405.2 401.5,405.1 401.9,405.1 402.4,405.1 402.8,405.2 403.3,405.3 403.7,405.4 404.1,405.5 404.6,405.6 405.0,405.7 405.4,405.8 405.9,405.9 406.3,406.0 406.7,406.0 407.2,406.0 407.6,406.0 408.0,406.0 408.5,405.9 408.9,405.8 409.4,405.7 409.8,405.6 410.2,405.5 410.7,405.4 411.1,405.3 411.5,405.2 412.0,405.2 412.4,405.1 412.8,405.1 413.3,405.1 413.7,405.2 414.1,405.3 414.6,405.4 415.0,405.5 415.5,405.6 415.9,405.7 416.3,405.8 416.8,405.9 417.2,406.0 417.6,406.0 418.1,406.0 418.5,406.0 418.9,406.0 419.4,405.9 419.8,405.8 420.2,405.7 420.7,405.6 421.1,405.5 421.6,405.4 422.0,405.3 422.4,405.2 422.9,405.2 423.3,405.1 423.7,405.1 424.2,405.1 424.6,405.2 425.0,405.3 425.5,405.4 425.9,405.5 426.3,405.6 426.8,405.7 427.2,405.8 427.7,405.9 428.1,406.0 428.5,406.0 429.0,406.0 429.4,406.0 429.8,406.0 430.3,405.9 430.7,405.8 431.1,405.7 431.6,405.6 432.0,405.5 432.4,405.4 432.9,405.3 433.3,405.2 433.8,405.2 434.2,405.1 434.6,405.1 435.1,405.1 435.5,405.2 435.9,405.3 436.4,405.4 436.8,405.5 437.2,405.6 437.7,405.7 438.1,405.8 438.5,405.9 439.0,406.0 439.4,406.0 439.9,406.0 440.3,406.0 440.7,406.0 441.2,405.9 441.6,405.8 442.0,405.7 442.5,405.6 442.9,405.5 443.3,405.4 443.8,405.3 444.2,405.2 444.6,405.2 445.1,405.1 445.5,405.1 446.0,405.1 446.4,405.2 446.8,405.3 447.3,405.4 447.7,405.5 448.1,405.6 448.6,405.7 449.0,405.8 449.4,405.9 449.9,406.0 450.3,406.0 450.7,406.0 451.2,406.0 451.6,406.0 452.1,405.9 452.5,405.8 452.9,405.7 453.4,405.6 453.8,405.5 454.2,405.4 454.7,405.3 455.1,405.2 455.5,405.2 456.0,405.1 456.4,405.1 456.8,405.1 457.3,405.2 457.7,405.3 458.2,405.4 458.6,405.5 459.0,405.6 459.5,405.7 459.9,405.8" stroke="#22c422" stroke-width="1.5" fill="none" stroke-linejoin="round"/>
<text stroke="#111" stroke-width="0.15" transform="translate(21.65,377.50) scale(0.720,1)" font-size="6.0" text-anchor="end" fill="#111" font-family='"Liberation Sans", sans-serif'>40</text>
<text stroke="#111" stroke-width="0.15" transform="translate(21.65,392.55) scale(0.720,1)" font-size="6.0" text-anchor="end" fill="#111" font-family='"Liberation Sans", sans-serif'>30</text>
<text stroke="#111" stroke-width="0.15" transform="translate(21.65,407.60) scale(0.720,1)" font-size="6.0" text-anchor="end" fill="#111" font-family='"Liberation Sans", sans-serif'>20</text>
<text stroke="#111" stroke-width="0.15" transform="translate(21.65,422.65) scale(0.720,1)" font-size="6.0" text-anchor="end" fill="#111" font-family='"Liberation Sans", sans-serif'>10</text>
<text stroke="#111" stroke-width="0.15" transform="translate(21.65,437.70) scale(0.720,1)" font-size="6.0" text-anchor="end" fill="#111" font-family='"Liberation Sans", sans-serif'>0</text>
<text stroke="#111" stroke-width="0.15" transform="translate(21.65,452.75) scale(0.720,1)" font-size="6.0" text-anchor="end" fill="#111" font-family='"Liberation Sans", sans-serif'>&#8722;10</text>
<text stroke="#111" stroke-width="0.15" transform="translate(21.65,467.80) scale(0.720,1)" font-size="6.0" text-anchor="end" fill="#111" font-family='"Liberation Sans", sans-serif'>&#8722;20</text>
<text stroke="#111" stroke-width="0.15" transform="translate(21.65,482.85) scale(0.720,1)" font-size="6.0" text-anchor="end" fill="#111" font-family='"Liberation Sans", sans-serif'>&#8722;30</text>
<text stroke="#111" stroke-width="0.15" transform="translate(21.65,497.90) scale(0.720,1)" font-size="6.0" text-anchor="end" fill="#111" font-family='"Liberation Sans", sans-serif'>&#8722;40</text>
<text stroke="#111" stroke-width="0.15" transform="translate(24.15,503.80) scale(0.800,1)" font-size="6.2" text-anchor="middle" fill="#111" font-family='"Liberation Sans", sans-serif'>0</text>
<text stroke="#111" stroke-width="0.15" transform="translate(78.62,503.80) scale(0.800,1)" font-size="6.2" text-anchor="middle" fill="#111" font-family='"Liberation Sans", sans-serif'>5</text>
<text stroke="#111" stroke-width="0.15" transform="translate(133.09,503.80) scale(0.800,1)" font-size="6.2" text-anchor="middle" fill="#111" font-family='"Liberation Sans", sans-serif'>10</text>
<text stroke="#111" stroke-width="0.15" transform="translate(187.56,503.80) scale(0.800,1)" font-size="6.2" text-anchor="middle" fill="#111" font-family='"Liberation Sans", sans-serif'>15</text>
<text stroke="#111" stroke-width="0.15" transform="translate(242.03,503.80) scale(0.800,1)" font-size="6.2" text-anchor="middle" fill="#111" font-family='"Liberation Sans", sans-serif'>20</text>
<text stroke="#111" stroke-width="0.15" transform="translate(296.49,503.80) scale(0.800,1)" font-size="6.2" text-anchor="middle" fill="#111" font-family='"Liberation Sans", sans-serif'>25</text>
<text stroke="#111" stroke-width="0.15" transform="translate(350.96,503.80) scale(0.800,1)" font-size="6.2" text-anchor="middle" fill="#111" font-family='"Liberation Sans", sans-serif'>30</text>
<text stroke="#111" stroke-width="0.15" transform="translate(405.43,503.80) scale(0.800,1)" font-size="6.2" text-anchor="middle" fill="#111" font-family='"Liberation Sans", sans-serif'>35</text>
<text stroke="#111" stroke-width="0.15" transform="translate(459.90,503.80) scale(0.800,1)" font-size="6.2" text-anchor="middle" fill="#111" font-family='"Liberation Sans", sans-serif'>40</text>
<text transform="translate(9.00,62.95) scale(0.740,1) rotate(-90)" font-size="7.45" text-anchor="middle" fill="#333" font-weight="bold" font-family='"Liberation Sans", sans-serif'>Temperature response &#176;C</text>
<text transform="translate(13.00,247.30) scale(0.800,1) rotate(-90)" font-size="7.1" text-anchor="middle" fill="#333" font-weight="bold" font-family='"Liberation Sans", sans-serif'>Temperature response &#176;C</text>
<text transform="translate(11.30,435.90) scale(0.840,1) rotate(-90)" font-size="7.42" text-anchor="middle" fill="#333" font-weight="bold" font-family='"Liberation Sans", sans-serif'>Temperature response &#176;C</text>
<text transform="translate(236.40,135.40) scale(0.840,1)" font-size="7.2" text-anchor="middle" fill="#000" font-family='"Liberation Sans", sans-serif'>Time (days)</text>
<text transform="translate(238.20,323.80) scale(0.930,1)" font-size="6.6" text-anchor="middle" fill="#000" font-family='"Liberation Sans", sans-serif'>Time (days)</text>
<text transform="translate(241.90,513.00) scale(0.900,1)" font-size="7.4" text-anchor="middle" fill="#000" font-family='"Liberation Sans", sans-serif'>Time (days)</text>
<text transform="translate(244.10,166.00) scale(0.920,1)" font-size="13" text-anchor="middle" fill="#111" font-family='"Liberation Serif", serif'>(<tspan font-weight="bold">a</tspan>)</text>
<text transform="translate(243.90,353.60) scale(0.920,1)" font-size="13" text-anchor="middle" fill="#111" font-family='"Liberation Serif", serif'>(<tspan font-weight="bold">b</tspan>)</text>
<text transform="translate(244.20,543.60) scale(0.920,1)" font-size="13" text-anchor="middle" fill="#111" font-family='"Liberation Serif", serif'>(<tspan font-weight="bold">c</tspan>)</text>
<rect x="389.1" y="5.6" width="62.9" height="32.5" fill="#fff" stroke="#555" stroke-width="1"/>
<path d="M390.5,10.6H402.8" stroke="#1a1a92" stroke-width="1.7"/>
<text stroke="#000" stroke-width="0.12" transform="translate(403.80,12.60) scale(0.750,1)" font-size="6.1" text-anchor="start" fill="#000" font-family='"Liberation Sans", sans-serif'>T_air_inside_container</text>
<path d="M390.5,18.7H402.8" stroke="#cc90d0" stroke-width="1.7"/>
<text stroke="#000" stroke-width="0.12" transform="translate(403.80,20.70) scale(0.750,1)" font-size="6.1" text-anchor="start" fill="#000" font-family='"Liberation Sans", sans-serif'>Tair</text>
<path d="M390.5,25.9H402.8" stroke="#b83a3a" stroke-width="1.7"/>
<text stroke="#000" stroke-width="0.12" transform="translate(403.80,27.90) scale(0.750,1)" font-size="6.1" text-anchor="start" fill="#000" font-family='"Liberation Sans", sans-serif'>Ttank</text>
<path d="M390.5,34.1H402.8" stroke="#2ccc2c" stroke-width="1.7"/>
<text stroke="#000" stroke-width="0.12" transform="translate(403.80,36.10) scale(0.750,1)" font-size="6.1" text-anchor="start" fill="#000" font-family='"Liberation Sans", sans-serif'>Tstack</text>
<rect x="386.6" y="216.5" width="64.9" height="29.9" fill="#fff" stroke="#555" stroke-width="1"/>
<path d="M387.7,221.1H400.5" stroke="#1a1a92" stroke-width="1.7"/>
<text stroke="#000" stroke-width="0.12" transform="translate(401.50,223.10) scale(0.775,1)" font-size="6.2" text-anchor="start" fill="#000" font-family='"Liberation Sans", sans-serif'>T_air_inside_container</text>
<path d="M387.7,227.8H400.5" stroke="#cc90d0" stroke-width="1.7"/>
<text stroke="#000" stroke-width="0.12" transform="translate(401.50,229.80) scale(0.775,1)" font-size="6.2" text-anchor="start" fill="#000" font-family='"Liberation Sans", sans-serif'>Tair</text>
<path d="M387.7,235.0H400.5" stroke="#b83a3a" stroke-width="1.7"/>
<text stroke="#000" stroke-width="0.12" transform="translate(401.50,237.00) scale(0.775,1)" font-size="6.2" text-anchor="start" fill="#000" font-family='"Liberation Sans", sans-serif'>Ttank</text>
<path d="M387.7,242.1H400.5" stroke="#2ccc2c" stroke-width="1.7"/>
<text stroke="#000" stroke-width="0.12" transform="translate(401.50,244.10) scale(0.775,1)" font-size="6.2" text-anchor="start" fill="#000" font-family='"Liberation Sans", sans-serif'>Tstack</text>
</svg></body></html>
